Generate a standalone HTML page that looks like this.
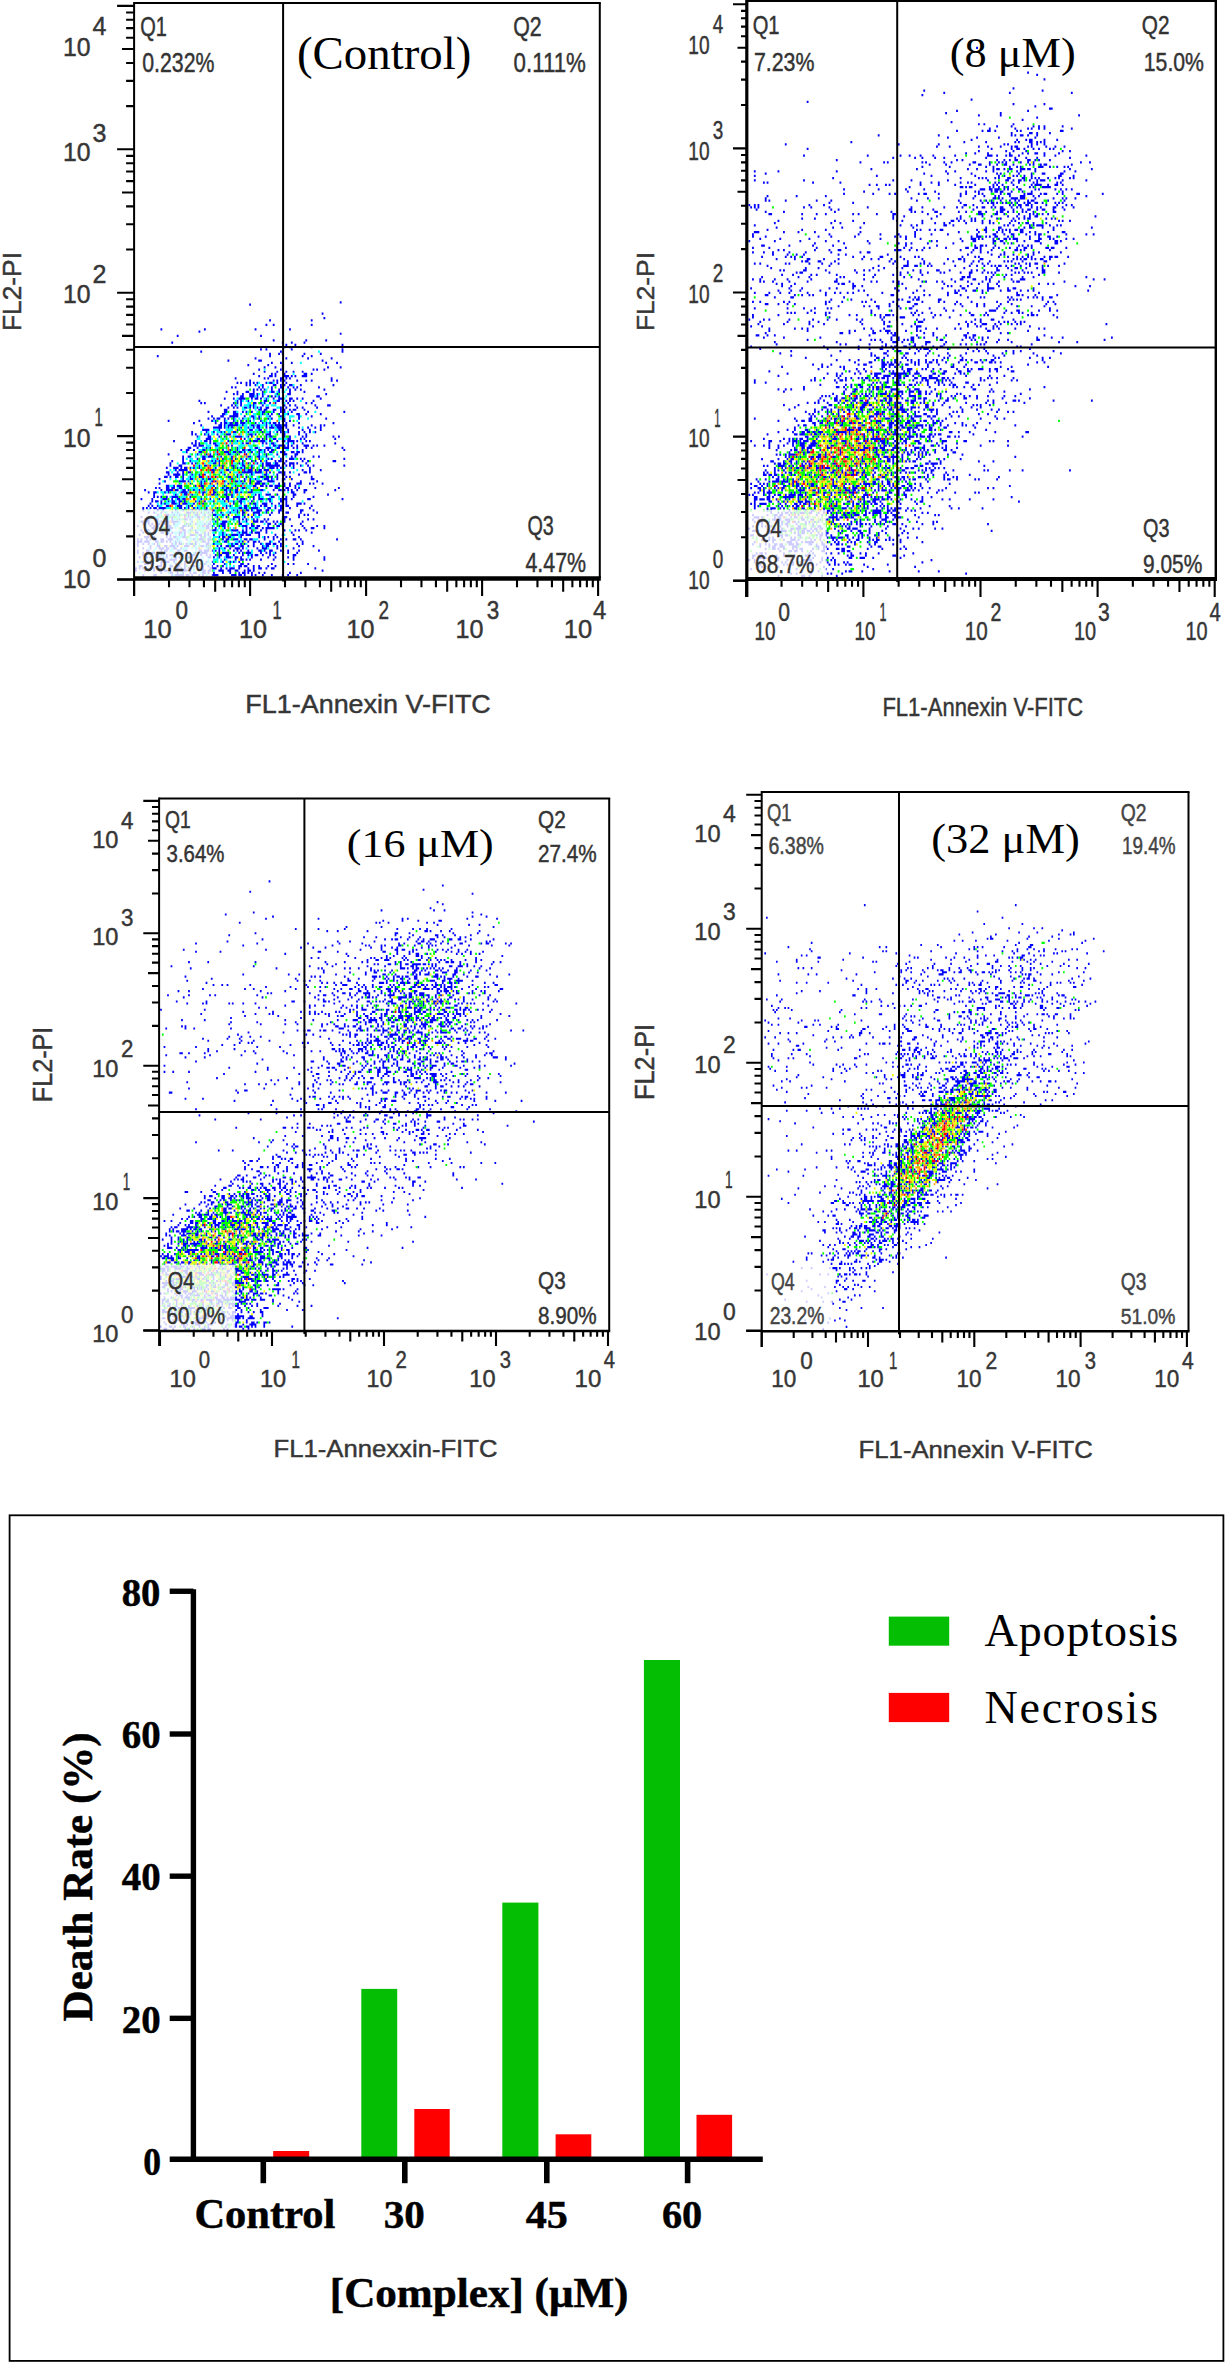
<!DOCTYPE html>
<html><head><meta charset="utf-8"><title>Figure</title>
<style>html,body{margin:0;padding:0;background:#fff}svg{display:block}text{white-space:pre}</style></head>
<body>
<svg width="1225" height="2363" viewBox="0 0 1225 2363">
<rect width="1225" height="2363" fill="#fff"/>
<g transform="translate(135.10 576.30) scale(1.8113 -2.2355)" stroke-width="1" fill="none"><path stroke="#0000ff" d="M4 0.5h1M10 0.5h2M20 0.5h1M22 0.5h5M28 0.5h2M31 0.5h1M35 0.5h1M37 0.5h1M42 0.5h4M53 0.5h3M57 0.5h2M60 0.5h1M64 0.5h1M66 0.5h1M70 0.5h1M75 0.5h1M81 0.5h1M84 0.5h1M89 0.5h1M14 1.5h1M19 1.5h2M23 1.5h1M26 1.5h1M30 1.5h1M32 1.5h2M37 1.5h2M40 1.5h1M43 1.5h1M48 1.5h1M52 1.5h1M57 1.5h1M59 1.5h2M62 1.5h1M64 1.5h1M68 1.5h1M71 1.5h1M85 1.5h1M91 1.5h1M0 2.5h1M5 2.5h1M10 2.5h1M13 2.5h2M16 2.5h2M19 2.5h1M22 2.5h2M25 2.5h1M27 2.5h2M30 2.5h1M37 2.5h2M40 2.5h2M46 2.5h3M51 2.5h2M55 2.5h2M60 2.5h1M62 2.5h2M65 2.5h1M103 2.5h1M0 3.5h1M2 3.5h1M4 3.5h1M8 3.5h1M10 3.5h1M19 3.5h1M22 3.5h2M25 3.5h1M27 3.5h1M29 3.5h2M35 3.5h1M37 3.5h1M41 3.5h4M47 3.5h1M50 3.5h1M52 3.5h3M57 3.5h1M62 3.5h1M65 3.5h1M68 3.5h2M72 3.5h1M75 3.5h2M99 3.5h1M2 4.5h2M9 4.5h1M12 4.5h3M19 4.5h2M23 4.5h2M27 4.5h1M31 4.5h2M34 4.5h1M37 4.5h1M40 4.5h1M42 4.5h1M45 4.5h1M48 4.5h1M57 4.5h2M60 4.5h2M65 4.5h1M68 4.5h1M73 4.5h1M77 4.5h1M5 5.5h2M8 5.5h1M14 5.5h1M22 5.5h1M27 5.5h1M36 5.5h1M38 5.5h1M43 5.5h1M49 5.5h1M58 5.5h2M62 5.5h1M75 5.5h1M84 5.5h1M87 5.5h1M95 5.5h1M1 6.5h1M4 6.5h1M7 6.5h2M14 6.5h2M17 6.5h2M21 6.5h1M27 6.5h1M31 6.5h1M33 6.5h2M39 6.5h1M42 6.5h1M48 6.5h1M52 6.5h1M54 6.5h1M57 6.5h1M5 7.5h1M12 7.5h1M16 7.5h1M19 7.5h4M25 7.5h1M31 7.5h1M36 7.5h1M49 7.5h1M55 7.5h1M58 7.5h2M61 7.5h1M63 7.5h1M69 7.5h1M76 7.5h1M87 7.5h1M104 7.5h1M2 8.5h1M6 8.5h1M8 8.5h1M11 8.5h3M15 8.5h1M17 8.5h1M22 8.5h1M24 8.5h1M29 8.5h3M40 8.5h2M43 8.5h1M46 8.5h1M50 8.5h3M55 8.5h2M58 8.5h1M64 8.5h1M73 8.5h1M77 8.5h1M84 8.5h1M87 8.5h1M104 8.5h1M4 9.5h1M11 9.5h2M14 9.5h1M17 9.5h1M19 9.5h3M26 9.5h1M28 9.5h1M31 9.5h2M36 9.5h1M39 9.5h1M41 9.5h1M44 9.5h1M46 9.5h2M50 9.5h2M54 9.5h1M59 9.5h1M62 9.5h1M64 9.5h1M66 9.5h2M70 9.5h1M74 9.5h1M76 9.5h1M87 9.5h2M1 10.5h1M4 10.5h1M6 10.5h1M9 10.5h2M12 10.5h1M22 10.5h1M33 10.5h1M36 10.5h4M46 10.5h1M48 10.5h4M57 10.5h1M59 10.5h1M61 10.5h3M69 10.5h1M72 10.5h1M74 10.5h1M77 10.5h1M84 10.5h1M89 10.5h1M1 11.5h1M6 11.5h2M14 11.5h1M16 11.5h2M23 11.5h2M27 11.5h2M35 11.5h2M38 11.5h3M42 11.5h1M44 11.5h1M46 11.5h1M54 11.5h1M56 11.5h1M58 11.5h1M62 11.5h1M68 11.5h2M71 11.5h1M74 11.5h2M80 11.5h1M84 11.5h1M90 11.5h1M101 11.5h1M4 12.5h1M8 12.5h1M13 12.5h3M17 12.5h2M21 12.5h2M25 12.5h1M40 12.5h1M46 12.5h1M49 12.5h1M52 12.5h1M55 12.5h3M59 12.5h1M67 12.5h1M70 12.5h3M78 12.5h1M87 12.5h1M1 13.5h1M8 13.5h1M12 13.5h2M16 13.5h2M19 13.5h3M23 13.5h1M27 13.5h3M32 13.5h1M36 13.5h2M39 13.5h1M41 13.5h1M45 13.5h1M47 13.5h1M50 13.5h2M53 13.5h2M58 13.5h2M62 13.5h1M65 13.5h1M70 13.5h1M72 13.5h2M78 13.5h1M80 13.5h1M90 13.5h1M98 13.5h1M1 14.5h1M4 14.5h1M7 14.5h1M10 14.5h1M12 14.5h1M20 14.5h1M22 14.5h1M24 14.5h2M28 14.5h1M30 14.5h2M33 14.5h1M39 14.5h2M43 14.5h1M53 14.5h1M55 14.5h2M58 14.5h1M60 14.5h1M65 14.5h1M69 14.5h1M72 14.5h3M76 14.5h2M80 14.5h1M89 14.5h1M92 14.5h1M1 15.5h3M5 15.5h3M11 15.5h2M14 15.5h2M17 15.5h1M19 15.5h1M22 15.5h1M24 15.5h1M33 15.5h1M37 15.5h2M40 15.5h1M45 15.5h1M49 15.5h2M57 15.5h1M59 15.5h1M62 15.5h1M65 15.5h2M68 15.5h1M74 15.5h1M79 15.5h1M92 15.5h1M1 16.5h1M3 16.5h1M6 16.5h1M8 16.5h1M10 16.5h2M14 16.5h2M18 16.5h3M23 16.5h1M28 16.5h1M32 16.5h1M35 16.5h3M40 16.5h2M48 16.5h1M50 16.5h2M54 16.5h3M60 16.5h2M63 16.5h2M71 16.5h1M76 16.5h1M80 16.5h1M83 16.5h1M87 16.5h2M91 16.5h1M111 16.5h1M5 17.5h3M10 17.5h1M17 17.5h1M19 17.5h1M21 17.5h2M26 17.5h2M36 17.5h1M38 17.5h1M41 17.5h1M46 17.5h1M48 17.5h2M51 17.5h2M58 17.5h1M68 17.5h1M71 17.5h1M73 17.5h1M76 17.5h1M78 17.5h1M90 17.5h1M2 18.5h1M7 18.5h1M17 18.5h1M19 18.5h1M24 18.5h1M27 18.5h1M30 18.5h3M35 18.5h2M38 18.5h1M40 18.5h1M43 18.5h1M48 18.5h1M50 18.5h1M53 18.5h4M58 18.5h2M61 18.5h3M68 18.5h1M77 18.5h1M81 18.5h1M87 18.5h1M4 19.5h1M14 19.5h2M17 19.5h2M20 19.5h1M24 19.5h2M27 19.5h1M33 19.5h2M38 19.5h1M40 19.5h1M48 19.5h1M57 19.5h1M59 19.5h3M64 19.5h1M66 19.5h3M72 19.5h1M86 19.5h1M97 19.5h1M3 20.5h1M5 20.5h3M10 20.5h1M13 20.5h1M16 20.5h2M26 20.5h2M30 20.5h1M33 20.5h1M41 20.5h4M53 20.5h4M59 20.5h1M61 20.5h1M64 20.5h1M69 20.5h1M72 20.5h1M82 20.5h1M88 20.5h1M90 20.5h1M94 20.5h1M9 21.5h2M13 21.5h1M18 21.5h3M25 21.5h2M31 21.5h1M39 21.5h2M44 21.5h1M49 21.5h1M61 21.5h1M63 21.5h1M66 21.5h2M70 21.5h1M72 21.5h5M93 21.5h1M97 21.5h2M104 21.5h1M1 22.5h1M8 22.5h1M10 22.5h1M12 22.5h1M17 22.5h3M26 22.5h2M29 22.5h1M37 22.5h1M39 22.5h2M42 22.5h1M46 22.5h1M48 22.5h2M59 22.5h3M64 22.5h2M67 22.5h2M73 22.5h1M78 22.5h2M81 22.5h1M86 22.5h1M92 22.5h1M100 22.5h1M104 22.5h1M4 23.5h1M7 23.5h1M9 23.5h1M12 23.5h2M16 23.5h1M18 23.5h1M21 23.5h1M28 23.5h1M30 23.5h1M33 23.5h1M38 23.5h1M40 23.5h2M47 23.5h3M57 23.5h2M64 23.5h1M73 23.5h2M77 23.5h1M80 23.5h1M91 23.5h1M3 24.5h2M6 24.5h2M11 24.5h2M14 24.5h5M20 24.5h4M31 24.5h1M41 24.5h1M44 24.5h1M48 24.5h3M57 24.5h1M61 24.5h1M65 24.5h3M69 24.5h2M72 24.5h1M76 24.5h1M78 24.5h1M82 24.5h1M92 24.5h1M5 25.5h3M11 25.5h2M20 25.5h1M24 25.5h1M27 25.5h2M30 25.5h1M35 25.5h1M42 25.5h1M46 25.5h1M54 25.5h1M57 25.5h1M59 25.5h1M61 25.5h1M65 25.5h1M67 25.5h1M71 25.5h1M73 25.5h1M81 25.5h2M85 25.5h1M95 25.5h1M98 25.5h1M3 26.5h1M20 26.5h1M29 26.5h1M31 26.5h1M34 26.5h2M40 26.5h1M45 26.5h1M50 26.5h1M54 26.5h4M60 26.5h1M64 26.5h1M82 26.5h2M90 26.5h1M12 27.5h1M17 27.5h2M21 27.5h1M24 27.5h1M27 27.5h1M29 27.5h1M33 27.5h2M38 27.5h1M41 27.5h1M43 27.5h2M48 27.5h1M51 27.5h1M59 27.5h1M62 27.5h1M65 27.5h1M68 27.5h1M74 27.5h1M90 27.5h1M93 27.5h1M95 27.5h1M7 28.5h1M10 28.5h1M14 28.5h1M20 28.5h1M23 28.5h1M28 28.5h3M32 28.5h1M34 28.5h1M36 28.5h1M40 28.5h1M42 28.5h1M47 28.5h1M52 28.5h1M56 28.5h1M59 28.5h2M65 28.5h4M72 28.5h1M75 28.5h1M79 28.5h1M83 28.5h2M91 28.5h1M100 28.5h1M4 29.5h1M12 29.5h1M15 29.5h1M22 29.5h1M26 29.5h1M31 29.5h1M35 29.5h1M38 29.5h2M43 29.5h1M54 29.5h1M56 29.5h1M59 29.5h1M61 29.5h2M64 29.5h1M67 29.5h3M72 29.5h2M79 29.5h2M91 29.5h2M98 29.5h1M4 30.5h1M6 30.5h1M8 30.5h1M10 30.5h2M13 30.5h4M24 30.5h2M27 30.5h1M29 30.5h1M32 30.5h1M34 30.5h1M39 30.5h1M45 30.5h1M50 30.5h1M57 30.5h2M60 30.5h2M64 30.5h4M73 30.5h2M77 30.5h1M80 30.5h2M85 30.5h1M96 30.5h1M7 31.5h1M9 31.5h1M12 31.5h1M17 31.5h2M23 31.5h3M29 31.5h1M31 31.5h1M50 31.5h1M52 31.5h1M60 31.5h2M66 31.5h1M69 31.5h1M71 31.5h2M77 31.5h1M80 31.5h2M83 31.5h2M89 31.5h1M97 31.5h1M8 32.5h1M14 32.5h1M16 32.5h1M20 32.5h3M24 32.5h1M26 32.5h3M32 32.5h1M37 32.5h1M54 32.5h1M58 32.5h1M63 32.5h1M65 32.5h2M70 32.5h3M75 32.5h1M79 32.5h1M81 32.5h1M83 32.5h1M89 32.5h3M93 32.5h1M9 33.5h1M11 33.5h2M14 33.5h1M18 33.5h1M20 33.5h2M24 33.5h2M27 33.5h1M33 33.5h1M35 33.5h1M38 33.5h1M43 33.5h1M49 33.5h1M51 33.5h1M54 33.5h1M57 33.5h2M64 33.5h1M74 33.5h1M80 33.5h2M83 33.5h1M3 34.5h1M9 34.5h1M15 34.5h3M20 34.5h1M23 34.5h2M26 34.5h2M36 34.5h1M41 34.5h1M46 34.5h1M48 34.5h1M50 34.5h2M56 34.5h1M58 34.5h3M65 34.5h1M68 34.5h3M73 34.5h2M80 34.5h1M82 34.5h2M86 34.5h1M95 34.5h2M114 34.5h1M10 35.5h1M12 35.5h1M14 35.5h1M17 35.5h1M20 35.5h4M30 35.5h1M50 35.5h2M53 35.5h1M62 35.5h1M65 35.5h1M68 35.5h1M75 35.5h2M81 35.5h1M83 35.5h1M87 35.5h1M98 35.5h1M10 36.5h1M22 36.5h1M27 36.5h2M31 36.5h1M37 36.5h1M42 36.5h2M45 36.5h1M49 36.5h2M53 36.5h1M66 36.5h1M68 36.5h1M72 36.5h3M78 36.5h1M87 36.5h2M106 36.5h1M7 37.5h1M10 37.5h2M16 37.5h1M18 37.5h1M25 37.5h4M37 37.5h2M43 37.5h2M50 37.5h1M52 37.5h1M55 37.5h2M58 37.5h1M62 37.5h3M86 37.5h2M93 37.5h1M5 38.5h1M14 38.5h1M17 38.5h4M22 38.5h2M26 38.5h2M29 38.5h1M32 38.5h1M35 38.5h1M43 38.5h1M49 38.5h2M52 38.5h1M55 38.5h2M64 38.5h1M69 38.5h2M76 38.5h1M79 38.5h2M82 38.5h1M84 38.5h1M86 38.5h1M89 38.5h1M93 38.5h2M110 38.5h1M11 39.5h1M13 39.5h1M17 39.5h2M20 39.5h2M24 39.5h2M37 39.5h1M44 39.5h1M48 39.5h1M50 39.5h2M53 39.5h1M56 39.5h1M59 39.5h2M67 39.5h1M77 39.5h2M83 39.5h2M88 39.5h1M90 39.5h1M99 39.5h1M112 39.5h1M17 40.5h2M21 40.5h1M23 40.5h3M33 40.5h1M36 40.5h2M43 40.5h1M49 40.5h1M55 40.5h1M65 40.5h2M69 40.5h2M72 40.5h1M74 40.5h2M77 40.5h3M82 40.5h1M85 40.5h1M88 40.5h1M13 41.5h1M30 41.5h1M36 41.5h1M41 41.5h1M45 41.5h1M51 41.5h1M59 41.5h1M63 41.5h1M66 41.5h3M70 41.5h2M79 41.5h1M82 41.5h1M85 41.5h1M89 41.5h3M96 41.5h1M98 41.5h1M103 41.5h1M16 42.5h1M24 42.5h4M29 42.5h1M36 42.5h1M38 42.5h1M42 42.5h1M44 42.5h1M49 42.5h1M55 42.5h2M58 42.5h1M60 42.5h1M63 42.5h1M67 42.5h3M73 42.5h4M81 42.5h1M91 42.5h1M100 42.5h1M13 43.5h1M26 43.5h1M30 43.5h2M37 43.5h1M40 43.5h2M53 43.5h1M60 43.5h1M63 43.5h1M66 43.5h1M71 43.5h3M75 43.5h1M78 43.5h1M81 43.5h2M86 43.5h1M97 43.5h2M16 44.5h2M19 44.5h1M22 44.5h2M26 44.5h1M30 44.5h1M35 44.5h2M44 44.5h1M51 44.5h2M56 44.5h1M61 44.5h1M69 44.5h2M72 44.5h2M75 44.5h1M78 44.5h1M83 44.5h1M85 44.5h1M97 44.5h1M18 45.5h1M21 45.5h4M26 45.5h1M31 45.5h1M35 45.5h1M38 45.5h1M49 45.5h1M56 45.5h1M58 45.5h1M64 45.5h1M71 45.5h2M78 45.5h1M81 45.5h2M90 45.5h1M17 46.5h2M23 46.5h1M26 46.5h1M29 46.5h2M43 46.5h1M47 46.5h1M52 46.5h1M59 46.5h6M66 46.5h4M72 46.5h1M74 46.5h1M79 46.5h2M82 46.5h1M85 46.5h1M93 46.5h2M96 46.5h1M22 47.5h1M24 47.5h5M42 47.5h2M50 47.5h2M60 47.5h1M62 47.5h3M66 47.5h1M68 47.5h2M71 47.5h3M92 47.5h1M96 47.5h1M102 47.5h1M17 48.5h1M21 48.5h3M25 48.5h1M27 48.5h2M30 48.5h1M32 48.5h1M35 48.5h1M44 48.5h1M48 48.5h1M54 48.5h1M56 48.5h1M58 48.5h1M60 48.5h1M64 48.5h1M70 48.5h1M74 48.5h3M78 48.5h1M80 48.5h1M87 48.5h1M96 48.5h1M19 49.5h1M24 49.5h2M35 49.5h1M38 49.5h2M41 49.5h1M46 49.5h1M48 49.5h1M53 49.5h2M59 49.5h2M64 49.5h1M70 49.5h1M72 49.5h8M81 49.5h1M83 49.5h1M85 49.5h1M87 49.5h1M91 49.5h1M95 49.5h1M98 49.5h1M115 49.5h1M19 50.5h1M26 50.5h2M31 50.5h1M33 50.5h1M43 50.5h2M46 50.5h1M57 50.5h1M59 50.5h1M62 50.5h1M67 50.5h1M70 50.5h1M72 50.5h3M77 50.5h2M82 50.5h1M85 50.5h3M89 50.5h1M94 50.5h1M20 51.5h1M26 51.5h1M30 51.5h1M42 51.5h1M44 51.5h1M46 51.5h1M54 51.5h1M59 51.5h1M64 51.5h1M66 51.5h1M69 51.5h1M72 51.5h1M77 51.5h1M79 51.5h2M83 51.5h1M92 51.5h1M95 51.5h1M109 51.5h2M26 52.5h1M34 52.5h1M37 52.5h2M48 52.5h1M53 52.5h1M55 52.5h1M58 52.5h1M61 52.5h1M68 52.5h1M73 52.5h1M75 52.5h1M80 52.5h1M85 52.5h3M91 52.5h1M93 52.5h1M115 52.5h1M26 53.5h1M29 53.5h2M37 53.5h2M40 53.5h3M47 53.5h1M53 53.5h1M62 53.5h2M67 53.5h2M72 53.5h1M86 53.5h1M88 53.5h1M98 53.5h1M101 53.5h1M18 54.5h1M34 54.5h1M39 54.5h1M41 54.5h1M45 54.5h1M51 54.5h2M56 54.5h1M61 54.5h1M68 54.5h1M72 54.5h1M78 54.5h1M82 54.5h2M88 54.5h2M28 55.5h1M35 55.5h2M49 55.5h3M54 55.5h2M57 55.5h2M60 55.5h1M64 55.5h1M68 55.5h1M71 55.5h1M74 55.5h2M80 55.5h3M86 55.5h2M89 55.5h2M92 55.5h1M25 56.5h1M28 56.5h2M32 56.5h1M37 56.5h2M45 56.5h1M48 56.5h1M52 56.5h1M56 56.5h1M59 56.5h2M62 56.5h2M68 56.5h2M71 56.5h1M73 56.5h1M75 56.5h2M92 56.5h1M115 56.5h1M29 57.5h2M34 57.5h1M39 57.5h1M41 57.5h1M56 57.5h1M66 57.5h2M72 57.5h3M78 57.5h2M82 57.5h3M87 57.5h1M89 57.5h1M94 57.5h1M97 57.5h1M114 57.5h1M32 58.5h2M35 58.5h3M44 58.5h2M51 58.5h1M53 58.5h1M76 58.5h2M79 58.5h4M84 58.5h1M86 58.5h1M89 58.5h1M93 58.5h3M98 58.5h1M100 58.5h1M104 58.5h1M31 59.5h1M33 59.5h1M35 59.5h1M41 59.5h1M43 59.5h2M59 59.5h1M61 59.5h2M70 59.5h1M72 59.5h1M75 59.5h2M84 59.5h1M87 59.5h1M92 59.5h1M110 59.5h1M21 60.5h1M33 60.5h1M38 60.5h2M41 60.5h1M51 60.5h1M53 60.5h1M56 60.5h1M63 60.5h1M65 60.5h3M69 60.5h3M74 60.5h1M78 60.5h1M81 60.5h2M84 60.5h4M89 60.5h1M94 60.5h1M96 60.5h1M39 61.5h3M60 61.5h1M67 61.5h2M70 61.5h1M72 61.5h1M76 61.5h2M84 61.5h2M91 61.5h1M93 61.5h1M110 61.5h1M34 62.5h1M40 62.5h2M46 62.5h1M49 62.5h1M55 62.5h4M62 62.5h1M64 62.5h1M72 62.5h1M74 62.5h2M81 62.5h2M85 62.5h1M92 62.5h1M94 62.5h1M109 62.5h1M112 62.5h1M31 63.5h1M33 63.5h1M38 63.5h1M40 63.5h1M45 63.5h1M50 63.5h3M63 63.5h2M66 63.5h1M72 63.5h3M81 63.5h2M90 63.5h1M94 63.5h1M31 64.5h1M39 64.5h1M43 64.5h1M47 64.5h1M49 64.5h1M54 64.5h2M62 64.5h1M70 64.5h1M74 64.5h1M78 64.5h1M80 64.5h1M82 64.5h1M84 64.5h1M90 64.5h1M93 64.5h1M96 64.5h1M99 64.5h1M37 65.5h4M46 65.5h1M56 65.5h1M63 65.5h2M68 65.5h2M79 65.5h2M84 65.5h1M92 65.5h1M96 65.5h1M102 65.5h1M43 66.5h5M49 66.5h1M51 66.5h1M53 66.5h1M58 66.5h1M62 66.5h1M65 66.5h1M67 66.5h2M72 66.5h1M74 66.5h3M78 66.5h4M83 66.5h1M90 66.5h1M95 66.5h1M99 66.5h1M102 66.5h1M36 67.5h1M46 67.5h2M49 67.5h1M51 67.5h6M59 67.5h1M64 67.5h2M67 67.5h2M72 67.5h1M75 67.5h1M77 67.5h4M82 67.5h2M87 67.5h1M97 67.5h1M102 67.5h1M104 67.5h1M32 68.5h1M44 68.5h1M47 68.5h1M49 68.5h2M52 68.5h2M55 68.5h2M58 68.5h3M66 68.5h1M70 68.5h1M72 68.5h1M74 68.5h1M76 68.5h2M79 68.5h1M83 68.5h1M90 68.5h1M109 68.5h1M18 69.5h1M35 69.5h1M42 69.5h1M44 69.5h1M49 69.5h1M54 69.5h1M58 69.5h1M61 69.5h1M63 69.5h1M69 69.5h1M81 69.5h2M85 69.5h1M40 70.5h1M43 70.5h1M45 70.5h2M49 70.5h1M51 70.5h1M54 70.5h1M59 70.5h1M65 70.5h1M68 70.5h1M73 70.5h1M75 70.5h1M81 70.5h2M90 70.5h1M105 70.5h1M42 71.5h1M47 71.5h2M52 71.5h5M60 71.5h1M64 71.5h2M68 71.5h1M74 71.5h1M80 71.5h1M90 71.5h1M97 71.5h1M48 72.5h2M54 72.5h3M70 72.5h1M73 72.5h1M75 72.5h1M79 72.5h1M84 72.5h1M89 72.5h2M94 72.5h1M102 72.5h1M40 73.5h1M49 73.5h2M54 73.5h2M59 73.5h1M61 73.5h1M64 73.5h1M70 73.5h2M76 73.5h1M80 73.5h1M82 73.5h1M86 73.5h1M95 73.5h1M115 73.5h1M49 74.5h2M68 74.5h2M71 74.5h2M76 74.5h2M80 74.5h1M82 74.5h1M85 74.5h1M87 74.5h2M93 74.5h1M51 75.5h1M54 75.5h1M56 75.5h1M60 75.5h2M63 75.5h1M65 75.5h1M67 75.5h1M69 75.5h1M72 75.5h2M80 75.5h1M83 75.5h1M89 75.5h1M92 75.5h1M100 75.5h1M47 76.5h1M53 76.5h1M55 76.5h1M58 76.5h1M63 76.5h1M65 76.5h1M70 76.5h1M82 76.5h1M85 76.5h1M88 76.5h1M99 76.5h1M106 76.5h2M36 77.5h1M38 77.5h1M54 77.5h1M56 77.5h1M58 77.5h1M65 77.5h2M69 77.5h1M71 77.5h1M74 77.5h1M77 77.5h1M81 77.5h1M84 77.5h1M94 77.5h1M97 77.5h1M35 78.5h1M56 78.5h1M58 78.5h1M62 78.5h1M71 78.5h2M78 78.5h2M81 78.5h1M83 78.5h1M85 78.5h1M87 78.5h1M98 78.5h1M49 79.5h1M54 79.5h1M57 79.5h4M64 79.5h1M66 79.5h2M69 79.5h1M72 79.5h1M76 79.5h1M79 79.5h3M85 79.5h2M89 79.5h1M92 79.5h1M102 79.5h1M58 80.5h2M63 80.5h3M67 80.5h1M70 80.5h1M73 80.5h1M75 80.5h1M77 80.5h1M79 80.5h1M100 80.5h2M54 81.5h1M56 81.5h1M59 81.5h1M63 81.5h3M67 81.5h1M70 81.5h1M78 81.5h1M84 81.5h2M105 81.5h1M50 82.5h1M56 82.5h1M61 82.5h2M65 82.5h1M70 82.5h1M75 82.5h2M79 82.5h1M81 82.5h1M85 82.5h1M93 82.5h1M65 83.5h1M67 83.5h1M69 83.5h1M71 83.5h1M75 83.5h1M79 83.5h1M81 83.5h1M85 83.5h1M88 83.5h1M91 83.5h1M104 83.5h1M53 84.5h1M55 84.5h1M68 84.5h1M70 84.5h1M75 84.5h1M80 84.5h2M84 84.5h1M87 84.5h1M89 84.5h1M101 84.5h1M61 85.5h1M63 85.5h1M66 85.5h1M70 85.5h1M76 85.5h2M80 85.5h1M82 85.5h1M85 85.5h2M91 85.5h1M109 85.5h1M56 86.5h1M58 86.5h1M61 86.5h1M63 86.5h1M65 86.5h1M67 86.5h1M72 86.5h1M74 86.5h2M78 86.5h1M81 86.5h1M83 86.5h1M63 87.5h1M76 87.5h1M78 87.5h1M80 87.5h1M82 87.5h1M89 87.5h1M94 87.5h1M97 87.5h1M108 87.5h1M111 87.5h1M55 88.5h1M71 88.5h1M73 88.5h1M80 88.5h2M83 88.5h1M85 88.5h1M108 88.5h1M68 89.5h1M74 89.5h2M77 89.5h1M82 89.5h3M86 89.5h1M88 89.5h1M92 89.5h3M65 90.5h1M75 90.5h1M77 90.5h1M82 90.5h1M93 90.5h2M97 90.5h1M71 91.5h1M78 91.5h1M83 91.5h1M87 91.5h1M92 91.5h1M68 92.5h1M80 92.5h1M98 92.5h1M100 92.5h1M104 92.5h1M71 93.5h1M77 93.5h1M81 93.5h1M106 93.5h1M113 93.5h1M62 94.5h1M73 94.5h1M81 94.5h1M75 95.5h1M80 95.5h1M86 95.5h1M105 95.5h1M111 95.5h1M51 96.5h1M68 96.5h2M103 96.5h1M66 97.5h1M83 97.5h1M95 97.5h1M108 97.5h1M12 98.5h1M74 98.5h1M92 98.5h1M97 98.5h1M74 99.5h1M79 99.5h1M81 99.5h1M93 99.5h1M102 99.5h1M36 100.5h1M80 100.5h1M114 100.5h1M69 101.5h1M72 101.5h1M86 101.5h1M114 101.5h1M82 102.5h1M85 102.5h1M97 102.5h1M83 103.5h1M88 103.5h1M114 103.5h1M20 104.5h1M81 104.5h1M86 104.5h1M93 104.5h1M76 105.5h1M94 105.5h1M105 105.5h1M23 107.5h1M69 107.5h1M113 108.5h1M35 109.5h1M14 110.5h1M38 110.5h1M66 110.5h1M85 110.5h1M72 112.5h1M76 112.5h1M97 112.5h1M74 114.5h1M97 114.5h1M104 115.5h1M103 117.5h1M63 121.5h1M113 122.5h1"/><path stroke="#00ffff" d="M21 0.5h1M39 0.5h1M2 1.5h1M18 1.5h1M25 1.5h1M36 1.5h1M32 2.5h1M43 2.5h1M21 3.5h1M32 3.5h1M30 4.5h1M35 4.5h1M50 4.5h1M52 4.5h1M54 4.5h1M9 5.5h1M16 5.5h1M19 5.5h1M35 5.5h1M39 5.5h1M41 5.5h1M50 5.5h1M3 6.5h1M22 6.5h1M25 6.5h1M36 6.5h2M40 6.5h1M43 6.5h1M45 6.5h1M47 6.5h1M51 6.5h1M53 6.5h1M55 6.5h1M82 6.5h1M8 7.5h1M26 7.5h1M28 7.5h1M30 7.5h1M33 7.5h2M40 7.5h1M43 7.5h3M47 7.5h1M50 7.5h1M16 8.5h1M20 8.5h1M26 8.5h1M34 8.5h1M37 8.5h1M45 8.5h1M49 8.5h1M53 8.5h1M62 8.5h1M13 9.5h1M15 9.5h1M22 9.5h1M30 9.5h1M33 9.5h1M63 9.5h1M21 10.5h1M24 10.5h1M32 10.5h1M43 10.5h1M55 10.5h1M64 10.5h1M76 10.5h1M10 11.5h1M19 11.5h2M26 11.5h1M33 11.5h1M43 11.5h1M48 11.5h2M64 11.5h1M70 11.5h1M7 12.5h1M11 12.5h1M20 12.5h1M26 12.5h3M31 12.5h1M33 12.5h2M39 12.5h1M44 12.5h2M47 12.5h2M61 12.5h1M73 12.5h1M22 13.5h1M33 13.5h1M38 13.5h1M57 13.5h1M71 13.5h1M76 13.5h1M83 13.5h1M9 14.5h1M21 14.5h1M29 14.5h1M35 14.5h1M41 14.5h2M44 14.5h3M51 14.5h2M54 14.5h1M61 14.5h1M70 14.5h1M21 15.5h1M23 15.5h1M25 15.5h1M29 15.5h2M34 15.5h1M44 15.5h1M48 15.5h1M55 15.5h2M58 15.5h1M75 15.5h1M9 16.5h1M22 16.5h1M24 16.5h1M30 16.5h2M33 16.5h1M43 16.5h1M46 16.5h1M52 16.5h1M58 16.5h1M65 16.5h3M23 17.5h3M30 17.5h1M33 17.5h2M40 17.5h1M43 17.5h3M53 17.5h2M57 17.5h1M70 17.5h1M22 18.5h1M25 18.5h2M34 18.5h1M39 18.5h1M46 18.5h2M49 18.5h1M51 18.5h1M57 18.5h1M82 18.5h1M8 19.5h1M16 19.5h1M21 19.5h3M26 19.5h1M29 19.5h1M36 19.5h1M42 19.5h2M46 19.5h2M49 19.5h1M53 19.5h1M56 19.5h1M58 19.5h1M63 19.5h1M75 19.5h1M11 20.5h2M14 20.5h1M18 20.5h2M24 20.5h1M29 20.5h1M32 20.5h1M34 20.5h2M37 20.5h1M45 20.5h1M47 20.5h1M52 20.5h1M66 20.5h1M85 20.5h1M11 21.5h1M22 21.5h1M35 21.5h4M46 21.5h1M48 21.5h1M52 21.5h1M54 21.5h1M59 21.5h1M64 21.5h2M78 21.5h1M15 22.5h1M21 22.5h3M28 22.5h1M34 22.5h1M36 22.5h1M41 22.5h1M43 22.5h1M58 22.5h1M22 23.5h3M31 23.5h1M34 23.5h4M39 23.5h1M44 23.5h1M46 23.5h1M52 23.5h1M61 23.5h2M71 23.5h1M79 23.5h1M2 24.5h1M13 24.5h1M24 24.5h1M30 24.5h1M35 24.5h3M40 24.5h1M42 24.5h2M47 24.5h1M51 24.5h1M54 24.5h1M59 24.5h2M8 25.5h1M15 25.5h2M18 25.5h1M21 25.5h2M25 25.5h1M31 25.5h1M38 25.5h1M52 25.5h2M55 25.5h1M62 25.5h1M64 25.5h1M6 26.5h2M9 26.5h5M15 26.5h1M18 26.5h1M23 26.5h2M28 26.5h1M30 26.5h1M32 26.5h2M36 26.5h1M39 26.5h1M41 26.5h1M44 26.5h1M48 26.5h1M59 26.5h1M66 26.5h3M81 26.5h1M13 27.5h2M19 27.5h2M22 27.5h2M26 27.5h1M32 27.5h1M37 27.5h1M45 27.5h3M49 27.5h1M56 27.5h2M66 27.5h1M69 27.5h1M11 28.5h1M16 28.5h2M21 28.5h2M24 28.5h1M37 28.5h1M39 28.5h1M41 28.5h1M44 28.5h1M48 28.5h1M50 28.5h2M53 28.5h3M71 28.5h1M7 29.5h1M14 29.5h1M23 29.5h1M25 29.5h1M30 29.5h1M37 29.5h1M40 29.5h1M44 29.5h1M51 29.5h1M53 29.5h1M55 29.5h1M57 29.5h1M65 29.5h1M76 29.5h1M17 30.5h3M21 30.5h2M28 30.5h1M33 30.5h1M35 30.5h1M37 30.5h1M42 30.5h1M47 30.5h1M52 30.5h5M59 30.5h1M62 30.5h1M68 30.5h1M71 30.5h1M13 31.5h2M22 31.5h1M28 31.5h1M34 31.5h3M39 31.5h2M42 31.5h2M48 31.5h2M51 31.5h1M53 31.5h1M57 31.5h2M63 31.5h1M65 31.5h1M67 31.5h1M75 31.5h1M79 31.5h1M12 32.5h1M15 32.5h1M17 32.5h2M23 32.5h1M29 32.5h3M44 32.5h1M47 32.5h4M60 32.5h1M67 32.5h1M17 33.5h1M19 33.5h1M22 33.5h1M29 33.5h1M34 33.5h1M40 33.5h3M45 33.5h4M52 33.5h2M55 33.5h1M59 33.5h2M62 33.5h1M67 33.5h1M70 33.5h1M72 33.5h1M75 33.5h1M92 33.5h1M14 34.5h1M22 34.5h1M25 34.5h1M30 34.5h1M34 34.5h2M37 34.5h1M43 34.5h1M57 34.5h1M63 34.5h1M71 34.5h1M75 34.5h1M79 34.5h1M19 35.5h1M25 35.5h3M34 35.5h2M39 35.5h1M41 35.5h1M44 35.5h2M54 35.5h1M56 35.5h2M69 35.5h2M74 35.5h1M79 35.5h1M15 36.5h1M21 36.5h1M23 36.5h1M26 36.5h1M30 36.5h1M32 36.5h2M54 36.5h1M57 36.5h1M64 36.5h2M69 36.5h1M12 37.5h1M14 37.5h2M17 37.5h1M20 37.5h3M24 37.5h1M29 37.5h1M34 37.5h1M36 37.5h1M39 37.5h1M49 37.5h1M54 37.5h1M57 37.5h1M59 37.5h1M65 37.5h5M73 37.5h1M84 37.5h1M25 38.5h1M31 38.5h1M33 38.5h2M36 38.5h1M39 38.5h1M45 38.5h1M51 38.5h1M54 38.5h1M58 38.5h2M61 38.5h1M63 38.5h1M71 38.5h1M81 38.5h1M23 39.5h1M27 39.5h1M30 39.5h5M39 39.5h3M47 39.5h1M49 39.5h1M58 39.5h1M62 39.5h2M66 39.5h1M19 40.5h2M40 40.5h3M45 40.5h1M53 40.5h2M59 40.5h1M61 40.5h4M90 40.5h1M25 41.5h1M28 41.5h1M37 41.5h1M49 41.5h1M54 41.5h1M56 41.5h3M60 41.5h1M72 41.5h1M76 41.5h1M15 42.5h1M30 42.5h1M32 42.5h1M35 42.5h1M37 42.5h1M41 42.5h1M50 42.5h1M52 42.5h1M57 42.5h1M19 43.5h1M22 43.5h1M25 43.5h1M28 43.5h2M32 43.5h1M34 43.5h1M36 43.5h1M38 43.5h1M42 43.5h1M45 43.5h1M47 43.5h1M51 43.5h1M55 43.5h1M57 43.5h1M61 43.5h1M64 43.5h2M67 43.5h2M70 43.5h1M76 43.5h1M29 44.5h1M31 44.5h2M39 44.5h1M41 44.5h1M49 44.5h1M54 44.5h1M57 44.5h1M63 44.5h1M67 44.5h1M27 45.5h1M30 45.5h1M32 45.5h1M34 45.5h1M41 45.5h1M45 45.5h1M48 45.5h1M57 45.5h1M59 45.5h1M63 45.5h1M65 45.5h1M70 45.5h1M73 45.5h1M76 45.5h1M20 46.5h1M35 46.5h1M38 46.5h2M41 46.5h1M46 46.5h1M48 46.5h1M54 46.5h3M65 46.5h1M70 46.5h1M87 46.5h1M19 47.5h1M21 47.5h1M33 47.5h1M47 47.5h2M52 47.5h2M58 47.5h1M61 47.5h1M75 47.5h1M78 47.5h2M89 47.5h1M31 48.5h1M33 48.5h1M36 48.5h1M43 48.5h1M51 48.5h1M57 48.5h1M59 48.5h1M68 48.5h1M73 48.5h1M82 48.5h1M86 48.5h1M33 49.5h2M36 49.5h1M45 49.5h1M56 49.5h1M58 49.5h1M63 49.5h1M65 49.5h1M68 49.5h1M92 49.5h1M23 50.5h1M28 50.5h1M35 50.5h1M38 50.5h1M40 50.5h3M54 50.5h2M58 50.5h1M60 50.5h1M66 50.5h1M69 50.5h1M76 50.5h1M31 51.5h4M39 51.5h1M41 51.5h1M43 51.5h1M45 51.5h1M49 51.5h1M71 51.5h1M28 52.5h1M30 52.5h2M42 52.5h3M46 52.5h1M51 52.5h1M59 52.5h1M62 52.5h1M64 52.5h1M69 52.5h1M72 52.5h1M74 52.5h1M88 52.5h1M33 53.5h1M36 53.5h1M39 53.5h1M46 53.5h1M52 53.5h1M60 53.5h1M64 53.5h1M69 53.5h3M76 53.5h1M79 53.5h1M83 53.5h1M30 54.5h1M33 54.5h1M35 54.5h1M44 54.5h1M50 54.5h1M53 54.5h2M63 54.5h1M66 54.5h2M70 54.5h1M74 54.5h2M26 55.5h2M41 55.5h1M44 55.5h1M46 55.5h1M53 55.5h1M59 55.5h1M62 55.5h1M66 55.5h1M69 55.5h2M78 55.5h1M35 56.5h2M40 56.5h1M50 56.5h1M54 56.5h1M57 56.5h1M61 56.5h1M64 56.5h3M70 56.5h1M81 56.5h1M83 56.5h2M89 56.5h1M37 57.5h2M40 57.5h1M44 57.5h2M49 57.5h1M54 57.5h1M57 57.5h2M63 57.5h2M68 57.5h1M75 57.5h1M77 57.5h1M39 58.5h3M46 58.5h1M57 58.5h4M62 58.5h3M67 58.5h1M70 58.5h1M74 58.5h1M78 58.5h1M38 59.5h2M45 59.5h2M49 59.5h1M52 59.5h1M54 59.5h3M58 59.5h1M65 59.5h1M74 59.5h1M77 59.5h1M83 59.5h1M86 59.5h1M36 60.5h1M47 60.5h2M55 60.5h1M57 60.5h2M62 60.5h1M72 60.5h1M91 60.5h1M34 61.5h2M42 61.5h1M45 61.5h1M47 61.5h1M49 61.5h1M51 61.5h1M54 61.5h1M62 61.5h1M66 61.5h1M75 61.5h1M79 61.5h2M82 61.5h2M35 62.5h1M53 62.5h1M59 62.5h1M61 62.5h1M73 62.5h1M88 62.5h1M39 63.5h1M42 63.5h2M47 63.5h2M54 63.5h2M58 63.5h1M61 63.5h1M65 63.5h1M77 63.5h1M36 64.5h1M40 64.5h1M42 64.5h1M45 64.5h2M48 64.5h1M51 64.5h2M61 64.5h1M63 64.5h2M66 64.5h1M68 64.5h1M72 64.5h2M76 64.5h1M83 64.5h1M98 64.5h1M43 65.5h3M50 65.5h4M58 65.5h1M60 65.5h2M66 65.5h2M72 65.5h1M74 65.5h1M77 65.5h2M37 66.5h1M50 66.5h1M52 66.5h1M56 66.5h1M60 66.5h2M63 66.5h2M69 66.5h1M77 66.5h1M92 66.5h1M50 67.5h1M57 67.5h2M60 67.5h2M63 67.5h1M66 67.5h1M69 67.5h3M74 67.5h1M76 67.5h1M81 67.5h1M51 68.5h1M61 68.5h1M63 68.5h1M68 68.5h1M71 68.5h1M73 68.5h1M43 69.5h1M50 69.5h1M55 69.5h1M65 69.5h1M70 69.5h1M72 69.5h1M74 69.5h1M79 69.5h1M89 69.5h1M55 70.5h1M57 70.5h1M60 70.5h2M63 70.5h1M66 70.5h1M74 70.5h1M79 70.5h2M85 70.5h1M95 70.5h1M63 71.5h1M66 71.5h1M69 71.5h1M72 71.5h2M82 71.5h1M85 71.5h3M91 71.5h1M50 72.5h1M58 72.5h1M62 72.5h1M65 72.5h2M69 72.5h1M72 72.5h1M82 72.5h2M56 73.5h1M62 73.5h1M67 73.5h1M69 73.5h1M75 73.5h1M84 73.5h1M99 73.5h1M59 74.5h2M66 74.5h1M59 75.5h1M62 75.5h1M66 75.5h1M68 75.5h1M78 75.5h2M56 76.5h1M60 76.5h3M64 76.5h1M66 76.5h1M72 76.5h2M75 76.5h3M62 77.5h2M70 77.5h1M82 77.5h1M55 78.5h1M59 78.5h1M61 78.5h1M64 78.5h1M76 78.5h2M91 78.5h1M56 79.5h1M71 79.5h1M73 79.5h1M82 79.5h1M66 80.5h1M78 80.5h1M83 80.5h1M68 81.5h1M71 81.5h1M77 81.5h1M72 82.5h1M74 82.5h1M78 82.5h1M82 82.5h1M72 83.5h1M83 83.5h1M73 84.5h1M67 85.5h1M69 85.5h1M87 85.5h1M68 86.5h1M73 86.5h1M76 86.5h1M87 90.5h1M71 92.5h1M91 95.5h1M101 100.5h1"/><path stroke="#00ff00" d="M55 1.5h1M42 2.5h1M28 4.5h1M47 4.5h1M52 5.5h1M29 6.5h1M44 6.5h1M59 6.5h1M25 8.5h1M45 9.5h1M35 10.5h1M45 10.5h1M52 10.5h1M60 10.5h1M51 11.5h1M41 12.5h1M43 12.5h1M35 13.5h1M40 13.5h1M52 13.5h1M13 14.5h1M26 14.5h1M32 14.5h1M47 14.5h1M59 14.5h1M36 15.5h1M43 15.5h1M46 15.5h1M51 15.5h1M34 16.5h1M38 16.5h1M42 16.5h1M47 16.5h1M53 16.5h1M28 17.5h2M37 17.5h1M33 18.5h1M52 18.5h1M30 19.5h1M37 19.5h1M44 19.5h1M31 20.5h1M36 20.5h1M38 20.5h1M48 20.5h1M50 20.5h2M65 20.5h1M15 21.5h2M24 21.5h1M34 21.5h1M42 21.5h1M30 22.5h2M35 22.5h1M45 22.5h1M47 22.5h1M51 22.5h1M57 22.5h1M76 22.5h1M27 23.5h1M29 23.5h1M43 23.5h1M45 23.5h1M51 23.5h1M53 23.5h1M55 23.5h1M65 23.5h1M27 24.5h1M34 24.5h1M39 24.5h1M45 24.5h1M52 24.5h1M56 24.5h1M80 24.5h1M23 25.5h1M26 25.5h1M34 25.5h1M40 25.5h1M43 25.5h1M45 25.5h1M14 26.5h1M19 26.5h1M21 26.5h2M38 26.5h1M42 26.5h1M47 26.5h1M51 26.5h1M25 27.5h1M28 27.5h1M30 27.5h1M35 27.5h1M40 27.5h1M42 27.5h1M55 27.5h1M60 27.5h1M31 28.5h1M33 28.5h1M38 28.5h1M45 28.5h1M57 28.5h1M70 28.5h1M73 28.5h1M20 29.5h1M27 29.5h2M33 29.5h1M36 29.5h1M41 29.5h1M45 29.5h3M60 29.5h1M75 29.5h1M23 30.5h1M36 30.5h1M38 30.5h1M44 30.5h1M46 30.5h1M63 30.5h1M30 31.5h1M38 31.5h1M55 31.5h2M62 31.5h1M34 32.5h1M36 32.5h1M38 32.5h2M41 32.5h1M43 32.5h1M45 32.5h1M55 32.5h2M64 32.5h1M16 33.5h1M26 33.5h1M28 33.5h1M36 33.5h1M56 33.5h1M65 33.5h1M69 33.5h1M18 34.5h1M39 34.5h1M45 34.5h1M61 34.5h1M72 34.5h1M15 35.5h2M24 35.5h1M28 35.5h1M31 35.5h3M36 35.5h1M38 35.5h1M47 35.5h3M58 35.5h2M63 35.5h2M34 36.5h1M39 36.5h1M44 36.5h1M46 36.5h1M48 36.5h1M51 36.5h2M77 36.5h1M82 36.5h1M19 37.5h1M33 37.5h1M45 37.5h1M60 37.5h2M30 38.5h1M37 38.5h1M40 38.5h1M44 38.5h1M47 38.5h2M53 38.5h1M65 38.5h4M28 39.5h2M36 39.5h1M45 39.5h1M52 39.5h1M55 39.5h1M61 39.5h1M72 39.5h1M79 39.5h1M27 40.5h3M32 40.5h1M38 40.5h1M48 40.5h1M50 40.5h1M56 40.5h2M80 40.5h1M24 41.5h1M31 41.5h1M35 41.5h1M52 41.5h2M55 41.5h1M61 41.5h1M64 41.5h1M69 41.5h1M73 41.5h1M21 42.5h3M34 42.5h1M39 42.5h1M54 42.5h1M59 42.5h1M64 42.5h2M39 43.5h1M43 43.5h1M48 43.5h1M52 43.5h1M54 43.5h1M25 44.5h1M33 44.5h1M46 44.5h2M50 44.5h1M55 44.5h1M59 44.5h1M62 44.5h1M64 44.5h1M68 44.5h1M71 44.5h1M74 44.5h1M77 44.5h1M28 45.5h1M33 45.5h1M36 45.5h1M43 45.5h2M46 45.5h1M51 45.5h1M54 45.5h1M61 45.5h1M28 46.5h1M31 46.5h1M33 46.5h2M36 46.5h1M40 46.5h1M49 46.5h1M58 46.5h1M76 46.5h1M37 47.5h1M40 47.5h1M44 47.5h1M46 47.5h1M54 47.5h1M56 47.5h2M67 47.5h1M34 48.5h1M37 48.5h2M50 48.5h1M53 48.5h1M55 48.5h1M61 48.5h2M65 48.5h1M67 48.5h1M71 48.5h1M43 49.5h2M47 49.5h1M49 49.5h1M52 49.5h1M55 49.5h1M62 49.5h1M69 49.5h1M29 50.5h1M34 50.5h1M48 50.5h1M50 50.5h1M52 50.5h1M56 50.5h1M63 50.5h1M35 51.5h1M47 51.5h2M52 51.5h1M57 51.5h1M60 51.5h1M65 51.5h1M96 51.5h1M35 52.5h1M49 52.5h2M52 52.5h1M56 52.5h1M63 52.5h1M66 52.5h1M70 52.5h1M89 52.5h1M43 53.5h1M45 53.5h1M49 53.5h2M55 53.5h1M58 53.5h1M66 53.5h1M31 54.5h1M36 54.5h1M38 54.5h1M43 54.5h1M47 54.5h2M55 54.5h1M57 54.5h1M65 54.5h1M71 54.5h1M73 54.5h1M37 55.5h1M39 55.5h1M47 55.5h2M52 55.5h1M56 55.5h1M63 55.5h1M67 55.5h1M76 55.5h1M39 56.5h1M41 56.5h4M46 56.5h1M53 56.5h1M55 56.5h1M77 56.5h1M46 57.5h3M50 57.5h1M53 57.5h1M55 57.5h1M59 57.5h1M48 58.5h1M50 58.5h1M65 58.5h2M36 59.5h2M47 59.5h1M43 60.5h3M52 60.5h1M54 60.5h1M59 60.5h1M61 60.5h1M64 60.5h1M68 60.5h1M75 60.5h1M48 61.5h1M50 61.5h1M63 61.5h1M71 61.5h1M74 61.5h1M47 62.5h1M50 62.5h1M54 62.5h1M67 62.5h1M69 62.5h1M71 62.5h1M76 62.5h2M83 62.5h2M36 63.5h1M49 63.5h1M62 63.5h1M68 63.5h1M70 63.5h1M78 63.5h1M56 64.5h1M58 64.5h1M60 64.5h1M65 64.5h1M67 64.5h1M69 64.5h1M71 64.5h1M57 65.5h1M59 65.5h1M71 65.5h1M81 65.5h1M54 66.5h1M57 66.5h1M70 66.5h1M54 68.5h1M62 68.5h1M64 68.5h2M45 69.5h1M56 69.5h1M59 69.5h1M62 69.5h1M71 69.5h1M87 69.5h1M53 70.5h1M62 70.5h1M67 70.5h1M69 70.5h1M71 70.5h2M79 71.5h1M61 72.5h1M67 72.5h2M71 72.5h1M78 72.5h1M51 73.5h1M63 73.5h1M68 73.5h1M72 73.5h3M63 74.5h1M55 77.5h1M68 77.5h1M69 78.5h1M73 78.5h1M61 79.5h2M74 80.5h1M79 81.5h1M71 82.5h1M63 83.5h1M77 84.5h1"/><path stroke="#ffff00" d="M50 6.5h1M57 7.5h1M47 10.5h1M41 11.5h1M36 12.5h1M14 13.5h1M18 13.5h1M25 13.5h1M31 13.5h1M42 13.5h2M31 15.5h1M60 15.5h1M44 16.5h1M50 17.5h1M29 18.5h1M31 19.5h2M41 19.5h1M32 21.5h1M47 21.5h1M32 22.5h1M55 22.5h1M19 23.5h1M32 23.5h1M56 23.5h1M26 24.5h1M32 24.5h1M64 24.5h1M33 25.5h1M37 25.5h1M47 25.5h1M51 25.5h1M25 26.5h1M46 26.5h1M62 26.5h1M15 27.5h1M31 27.5h1M50 27.5h1M53 27.5h1M64 27.5h1M27 28.5h1M35 28.5h1M61 28.5h1M19 29.5h1M24 29.5h1M48 29.5h2M20 30.5h1M31 30.5h1M41 30.5h1M43 30.5h1M33 31.5h1M44 31.5h1M46 31.5h1M25 32.5h1M46 32.5h1M62 32.5h1M30 33.5h3M44 33.5h1M50 33.5h1M33 34.5h1M40 34.5h1M44 34.5h1M54 34.5h1M42 35.5h2M46 35.5h1M55 35.5h1M61 35.5h1M35 36.5h1M38 36.5h1M58 36.5h1M60 36.5h1M62 36.5h2M31 37.5h2M40 37.5h1M42 37.5h1M46 37.5h2M57 38.5h1M62 38.5h1M35 39.5h1M38 39.5h1M43 39.5h1M54 39.5h1M68 39.5h1M30 40.5h1M34 40.5h1M39 40.5h1M46 40.5h2M51 40.5h2M22 41.5h1M29 41.5h1M34 41.5h1M40 41.5h1M44 41.5h1M46 41.5h1M65 41.5h1M31 42.5h1M46 42.5h2M51 42.5h1M62 42.5h1M35 43.5h1M44 43.5h1M50 43.5h1M56 43.5h1M62 43.5h1M85 43.5h1M34 44.5h1M38 44.5h1M48 44.5h1M42 45.5h1M52 45.5h2M27 46.5h1M37 46.5h1M44 46.5h2M50 46.5h1M53 46.5h1M71 46.5h1M32 47.5h1M38 47.5h1M55 47.5h1M65 47.5h1M74 47.5h1M29 48.5h1M39 48.5h1M42 48.5h1M46 48.5h1M49 48.5h1M52 48.5h1M37 49.5h1M42 49.5h1M50 49.5h1M61 49.5h1M36 50.5h1M39 50.5h1M45 50.5h1M47 50.5h1M37 51.5h2M51 51.5h1M55 51.5h2M70 51.5h1M47 52.5h1M54 52.5h1M57 52.5h1M67 52.5h1M51 53.5h1M57 53.5h1M62 54.5h1M33 55.5h1M47 56.5h1M42 57.5h1M80 57.5h1M47 58.5h1M61 58.5h1M57 59.5h1M68 59.5h1M49 60.5h1M44 61.5h1M53 61.5h1M55 61.5h1M64 61.5h1M43 62.5h1M65 62.5h1M68 62.5h1M59 63.5h1M50 64.5h1M55 65.5h1M55 66.5h1M59 66.5h1M63 72.5h1M64 77.5h1"/><path stroke="#ff8000" d="M25 5.5h1M25 20.5h1M39 20.5h1M51 21.5h1M55 21.5h1M38 22.5h1M19 24.5h1M41 25.5h1M37 26.5h1M29 29.5h1M32 29.5h1M58 29.5h1M20 31.5h1M37 31.5h1M52 32.5h1M37 33.5h1M28 34.5h2M38 34.5h1M25 36.5h1M29 36.5h1M40 36.5h2M56 36.5h1M48 37.5h1M53 37.5h1M21 38.5h1M38 38.5h1M41 38.5h2M65 39.5h1M60 40.5h1M27 41.5h1M39 41.5h1M42 41.5h1M47 41.5h2M45 42.5h1M33 43.5h1M43 44.5h1M45 44.5h1M53 44.5h1M58 44.5h1M30 47.5h1M45 47.5h1M49 47.5h1M41 48.5h1M47 48.5h1M63 48.5h1M40 49.5h1M49 50.5h1M61 50.5h1M40 51.5h1M50 51.5h1M54 53.5h1M59 53.5h1M61 53.5h1M40 54.5h1M49 54.5h1M38 55.5h1M43 55.5h1M51 56.5h1M51 57.5h1M48 59.5h1M53 59.5h1M63 59.5h1M52 62.5h1M57 63.5h1M53 64.5h1M59 64.5h1M78 69.5h1M76 77.5h1"/><path stroke="#ff0000" d="M35 12.5h1M27 26.5h1M16 27.5h1M42 29.5h1M48 30.5h1M19 31.5h1M35 32.5h1M32 34.5h1M30 37.5h1M35 37.5h1M41 37.5h1M42 39.5h1M35 40.5h1M58 40.5h1M38 41.5h1M43 42.5h1M48 42.5h1M53 42.5h1M37 44.5h1M40 44.5h1M42 44.5h1M37 45.5h1M42 46.5h1M57 46.5h1M36 47.5h1M39 47.5h1M41 47.5h1M59 47.5h1M40 48.5h1M32 49.5h1M37 50.5h1M53 50.5h1M65 50.5h1M53 51.5h1M45 52.5h1M46 54.5h1M60 54.5h1M45 55.5h1M60 57.5h1M50 59.5h1M58 61.5h1"/></g>
<rect x="135.10" y="509.60" width="77.20" height="66.70" fill="#fff" fill-opacity="0.8"/>
<path d="M134.10 3.00L600.80 3.00" stroke="#000" stroke-width="2.0"/>
<path d="M599.80 3.00L599.80 578.50" stroke="#000" stroke-width="2.0"/>
<path d="M134.10 2.00L134.10 596.00" stroke="#000" stroke-width="2.0"/>
<path d="M134.10 578.50L600.80 578.50" stroke="#000" stroke-width="4.4"/>
<path d="M283.10 3.00L283.10 581.50" stroke="#000" stroke-width="2.0"/>
<path d="M134.10 347.00L599.80 347.00" stroke="#000" stroke-width="2.0"/>
<path d="M117.10 579.50H134.10M134.10 578.50V596.00M126.10 536.33H134.10M169.02 578.50V587.20M126.10 511.08H134.10M189.45 578.50V587.20M126.10 493.16H134.10M203.94 578.50V587.20M122.00 479.27H134.10M215.18 578.50V591.70M126.10 467.91H134.10M224.37 578.50V587.20M126.10 458.31H134.10M232.13 578.50V587.20M126.10 450.00H134.10M238.86 578.50V587.20M126.10 442.66H134.10M244.79 578.50V587.20M117.10 436.10H134.10M250.10 578.50V596.00M126.10 392.93H134.10M285.02 578.50V587.20M126.10 367.68H134.10M305.45 578.50V587.20M126.10 349.76H134.10M319.94 578.50V587.20M122.00 335.87H134.10M331.18 578.50V591.70M126.10 324.51H134.10M340.37 578.50V587.20M126.10 314.91H134.10M348.13 578.50V587.20M126.10 306.60H134.10M354.86 578.50V587.20M126.10 299.26H134.10M360.79 578.50V587.20M117.10 292.70H134.10M366.10 578.50V596.00M126.10 249.53H134.10M401.02 578.50V587.20M126.10 224.28H134.10M421.45 578.50V587.20M126.10 206.36H134.10M435.94 578.50V587.20M122.00 192.47H134.10M447.18 578.50V591.70M126.10 181.11H134.10M456.37 578.50V587.20M126.10 171.51H134.10M464.13 578.50V587.20M126.10 163.20H134.10M470.86 578.50V587.20M126.10 155.86H134.10M476.79 578.50V587.20M117.10 149.30H134.10M482.10 578.50V596.00M126.10 106.13H134.10M517.02 578.50V587.20M126.10 80.88H134.10M537.45 578.50V587.20M126.10 62.96H134.10M551.94 578.50V587.20M122.00 49.07H134.10M563.18 578.50V591.70M126.10 37.71H134.10M572.37 578.50V587.20M126.10 28.11H134.10M580.13 578.50V587.20M126.10 19.80H134.10M586.86 578.50V587.20M126.10 12.46H134.10M592.79 578.50V587.20M117.10 5.90H134.10M598.10 578.50V596.00" stroke="#000" stroke-width="2.1" fill="none"/>
<path d="M117.10 579.50L134.10 579.50" stroke="#000" stroke-width="2.3"/>
<text transform="translate(63.00 587.80) scale(0.9349 1)" font-family="Liberation Sans" font-size="26.50" fill="#363636" stroke="#363636" stroke-width="0.45">10</text>
<text transform="translate(92.40 566.80) scale(0.9451 1)" font-family="Liberation Sans" font-size="26.50" fill="#363636" stroke="#363636" stroke-width="0.45">0</text>
<text transform="translate(63.00 446.90) scale(0.9349 1)" font-family="Liberation Sans" font-size="26.50" fill="#363636" stroke="#363636" stroke-width="0.45">10</text>
<text transform="translate(94.48 426.40) scale(0.5671 1)" font-family="Liberation Sans" font-size="26.50" fill="#363636" stroke="#363636" stroke-width="0.45">1</text>
<text transform="translate(63.00 303.00) scale(0.9349 1)" font-family="Liberation Sans" font-size="26.50" fill="#363636" stroke="#363636" stroke-width="0.45">10</text>
<text transform="translate(92.40 282.90) scale(0.9451 1)" font-family="Liberation Sans" font-size="26.50" fill="#363636" stroke="#363636" stroke-width="0.45">2</text>
<text transform="translate(63.00 160.80) scale(0.9349 1)" font-family="Liberation Sans" font-size="26.50" fill="#363636" stroke="#363636" stroke-width="0.45">10</text>
<text transform="translate(92.40 141.70) scale(0.9451 1)" font-family="Liberation Sans" font-size="26.50" fill="#363636" stroke="#363636" stroke-width="0.45">3</text>
<text transform="translate(63.00 55.90) scale(0.9349 1)" font-family="Liberation Sans" font-size="26.50" fill="#363636" stroke="#363636" stroke-width="0.45">10</text>
<text transform="translate(92.40 35.40) scale(0.9451 1)" font-family="Liberation Sans" font-size="26.50" fill="#363636" stroke="#363636" stroke-width="0.45">4</text>
<text transform="translate(143.30 637.90) scale(0.9806 1)" font-family="Liberation Sans" font-size="26.00" fill="#363636" stroke="#363636" stroke-width="0.45">10</text>
<text transform="translate(175.40 619.00) scale(0.8663 1)" font-family="Liberation Sans" font-size="26.00" fill="#363636" stroke="#363636" stroke-width="0.45">0</text>
<text transform="translate(239.10 637.90) scale(0.9667 1)" font-family="Liberation Sans" font-size="26.00" fill="#363636" stroke="#363636" stroke-width="0.45">10</text>
<text transform="translate(272.40 619.00) scale(0.6306 1)" font-family="Liberation Sans" font-size="26.00" fill="#363636" stroke="#363636" stroke-width="0.45">1</text>
<text transform="translate(346.50 637.90) scale(0.9667 1)" font-family="Liberation Sans" font-size="26.00" fill="#363636" stroke="#363636" stroke-width="0.45">10</text>
<text transform="translate(378.50 619.00) scale(0.7277 1)" font-family="Liberation Sans" font-size="26.00" fill="#363636" stroke="#363636" stroke-width="0.45">2</text>
<text transform="translate(455.50 637.90) scale(0.9667 1)" font-family="Liberation Sans" font-size="26.00" fill="#363636" stroke="#363636" stroke-width="0.45">10</text>
<text transform="translate(486.80 619.00) scale(0.8663 1)" font-family="Liberation Sans" font-size="26.00" fill="#363636" stroke="#363636" stroke-width="0.45">3</text>
<text transform="translate(563.80 637.90) scale(0.9806 1)" font-family="Liberation Sans" font-size="26.00" fill="#363636" stroke="#363636" stroke-width="0.45">10</text>
<text transform="translate(593.00 619.00) scale(0.9148 1)" font-family="Liberation Sans" font-size="26.00" fill="#363636" stroke="#363636" stroke-width="0.45">4</text>
<text transform="translate(20.50 331.00) rotate(-90) scale(0.9937 1)" font-family="Liberation Sans" font-size="26.50" fill="#363636" stroke="#363636" stroke-width="0.45">FL2-PI</text>
<text transform="translate(245.30 712.80) scale(1.0249 1)" font-family="Liberation Sans" font-size="26.30" fill="#363636" stroke="#363636" stroke-width="0.45">FL1-Annexin V-FITC</text>
<text transform="translate(297.00 69.30) scale(1.0186 1)" font-family="Liberation Serif" font-size="46.00" fill="#000">(Control)</text>
<text transform="translate(140.30 35.70) scale(0.7273 1)" font-family="Liberation Sans" font-size="27.50" fill="#333" stroke="#333" stroke-width="0.45">Q1</text>
<text transform="translate(142.20 71.60) scale(0.7755 1)" font-family="Liberation Sans" font-size="27.50" fill="#333" stroke="#333" stroke-width="0.45">0.232%</text>
<text transform="translate(513.20 35.70) scale(0.7763 1)" font-family="Liberation Sans" font-size="27.50" fill="#333" stroke="#333" stroke-width="0.45">Q2</text>
<text transform="translate(513.60 71.60) scale(0.8113 1)" font-family="Liberation Sans" font-size="27.50" fill="#333" stroke="#333" stroke-width="0.45">0.111%</text>
<text transform="translate(527.40 535.40) scale(0.7191 1)" font-family="Liberation Sans" font-size="27.50" fill="#333" stroke="#333" stroke-width="0.45">Q3</text>
<text transform="translate(525.40 571.60) scale(0.7786 1)" font-family="Liberation Sans" font-size="27.50" fill="#333" stroke="#333" stroke-width="0.45">4.47%</text>
<text transform="translate(142.70 535.20) scale(0.7491 1)" font-family="Liberation Sans" font-size="27.50" fill="#333" stroke="#333" stroke-width="0.45">Q4</text>
<text transform="translate(142.70 571.40) scale(0.7799 1)" font-family="Liberation Sans" font-size="27.50" fill="#333" stroke="#333" stroke-width="0.45">95.2%</text>
<g transform="translate(748.40 577.00) scale(1.8219 -2.2469)" stroke-width="1" fill="none"><path stroke="#0000ff" d="M16 0.5h1M29 0.5h2M33 0.5h1M40 0.5h1M48 0.5h1M23 1.5h1M26 1.5h1M34 1.5h1M43 1.5h1M45 1.5h1M51 1.5h1M119 1.5h1M9 2.5h1M29 2.5h1M33 2.5h1M38 2.5h1M53 2.5h1M55 2.5h2M62 2.5h1M77 2.5h1M93 2.5h1M104 2.5h1M1 3.5h1M11 3.5h1M22 3.5h1M26 3.5h1M34 3.5h1M42 3.5h1M46 3.5h1M68 3.5h1M5 4.5h1M7 4.5h1M16 4.5h1M32 4.5h1M41 4.5h1M65 4.5h1M91 4.5h1M4 5.5h1M6 5.5h1M14 5.5h1M19 5.5h1M21 5.5h1M24 5.5h1M30 5.5h3M34 5.5h2M37 5.5h1M44 5.5h1M47 5.5h1M49 5.5h1M53 5.5h1M55 5.5h2M63 5.5h1M76 5.5h1M3 6.5h1M12 6.5h1M18 6.5h1M20 6.5h1M24 6.5h1M28 6.5h1M34 6.5h1M39 6.5h1M43 6.5h1M47 6.5h1M52 6.5h1M54 6.5h1M95 6.5h1M0 7.5h1M3 7.5h1M8 7.5h1M16 7.5h1M21 7.5h1M23 7.5h1M29 7.5h6M40 7.5h1M42 7.5h1M45 7.5h1M47 7.5h1M100 7.5h1M2 8.5h1M6 8.5h2M9 8.5h1M16 8.5h1M33 8.5h1M35 8.5h1M40 8.5h1M43 8.5h1M46 8.5h1M55 8.5h2M61 8.5h3M68 8.5h1M83 8.5h1M2 9.5h2M5 9.5h1M7 9.5h1M15 9.5h1M19 9.5h1M25 9.5h1M31 9.5h3M36 9.5h1M54 9.5h1M56 9.5h2M64 9.5h1M79 9.5h2M85 9.5h1M4 10.5h1M6 10.5h2M9 10.5h1M19 10.5h1M33 10.5h1M35 10.5h1M42 10.5h1M45 10.5h1M49 10.5h1M56 10.5h1M61 10.5h1M64 10.5h1M71 10.5h1M90 10.5h1M17 11.5h1M22 11.5h2M25 11.5h2M29 11.5h1M34 11.5h1M40 11.5h2M51 11.5h2M54 11.5h2M9 12.5h1M13 12.5h2M16 12.5h1M19 12.5h1M24 12.5h1M26 12.5h1M28 12.5h2M35 12.5h1M38 12.5h1M41 12.5h1M43 12.5h1M48 12.5h2M51 12.5h2M65 12.5h1M73 12.5h1M83 12.5h1M86 12.5h1M6 13.5h1M11 13.5h1M13 13.5h2M17 13.5h3M24 13.5h3M37 13.5h2M41 13.5h2M54 13.5h2M67 13.5h1M71 13.5h2M85 13.5h1M2 14.5h1M6 14.5h1M9 14.5h1M11 14.5h1M14 14.5h2M17 14.5h2M22 14.5h3M26 14.5h2M33 14.5h2M37 14.5h1M40 14.5h2M45 14.5h1M48 14.5h2M51 14.5h1M58 14.5h1M66 14.5h1M69 14.5h1M79 14.5h1M3 15.5h1M9 15.5h1M13 15.5h1M21 15.5h3M26 15.5h1M29 15.5h1M31 15.5h5M40 15.5h1M43 15.5h1M47 15.5h1M49 15.5h1M54 15.5h1M56 15.5h1M58 15.5h1M65 15.5h1M69 15.5h2M83 15.5h1M95 15.5h1M7 16.5h2M11 16.5h1M13 16.5h2M19 16.5h1M23 16.5h3M27 16.5h1M34 16.5h1M36 16.5h1M39 16.5h1M46 16.5h1M48 16.5h1M55 16.5h1M59 16.5h2M66 16.5h1M68 16.5h1M70 16.5h2M75 16.5h1M77 16.5h1M79 16.5h1M83 16.5h1M8 17.5h1M11 17.5h1M13 17.5h1M18 17.5h1M23 17.5h1M25 17.5h1M28 17.5h1M33 17.5h1M39 17.5h1M43 17.5h1M45 17.5h3M49 17.5h3M54 17.5h1M57 17.5h1M60 17.5h1M62 17.5h1M66 17.5h1M70 17.5h1M77 17.5h1M87 17.5h1M92 17.5h1M1 18.5h2M5 18.5h2M8 18.5h1M17 18.5h2M20 18.5h2M27 18.5h2M37 18.5h1M39 18.5h2M42 18.5h1M45 18.5h1M53 18.5h2M60 18.5h1M62 18.5h1M65 18.5h1M69 18.5h1M71 18.5h1M82 18.5h1M11 19.5h2M25 19.5h1M27 19.5h1M29 19.5h2M34 19.5h1M38 19.5h1M40 19.5h1M42 19.5h2M50 19.5h1M61 19.5h2M66 19.5h1M71 19.5h1M75 19.5h1M84 19.5h1M87 19.5h1M2 20.5h4M10 20.5h3M14 20.5h1M16 20.5h5M23 20.5h1M27 20.5h1M29 20.5h2M32 20.5h2M35 20.5h1M37 20.5h1M42 20.5h1M49 20.5h1M51 20.5h1M56 20.5h1M60 20.5h2M66 20.5h1M73 20.5h1M85 20.5h1M133 20.5h1M0 21.5h1M10 21.5h1M13 21.5h2M18 21.5h1M23 21.5h2M26 21.5h3M30 21.5h2M34 21.5h1M36 21.5h2M39 21.5h2M47 21.5h1M54 21.5h2M57 21.5h3M66 21.5h1M75 21.5h1M83 21.5h1M90 21.5h1M93 21.5h1M102 21.5h1M106 21.5h1M2 22.5h1M7 22.5h1M9 22.5h1M12 22.5h1M17 22.5h1M21 22.5h1M27 22.5h2M35 22.5h1M38 22.5h2M49 22.5h1M51 22.5h1M53 22.5h1M55 22.5h1M61 22.5h1M67 22.5h1M76 22.5h1M86 22.5h1M5 23.5h1M7 23.5h1M18 23.5h1M20 23.5h2M26 23.5h1M31 23.5h1M35 23.5h1M45 23.5h1M47 23.5h1M50 23.5h1M52 23.5h1M54 23.5h1M56 23.5h1M59 23.5h1M61 23.5h2M64 23.5h1M66 23.5h1M70 23.5h1M72 23.5h1M74 23.5h1M79 23.5h2M84 23.5h1M95 23.5h1M101 23.5h1M131 23.5h1M3 24.5h1M5 24.5h3M11 24.5h1M16 24.5h1M18 24.5h1M21 24.5h2M25 24.5h1M27 24.5h1M31 24.5h1M33 24.5h1M36 24.5h1M38 24.5h1M46 24.5h1M56 24.5h1M59 24.5h1M61 24.5h1M69 24.5h1M72 24.5h1M75 24.5h1M77 24.5h1M92 24.5h1M101 24.5h1M103 24.5h1M2 25.5h1M5 25.5h1M13 25.5h3M17 25.5h1M20 25.5h3M29 25.5h2M34 25.5h2M39 25.5h1M42 25.5h2M46 25.5h1M48 25.5h2M58 25.5h1M61 25.5h1M65 25.5h1M69 25.5h1M73 25.5h3M79 25.5h1M81 25.5h1M87 25.5h1M3 26.5h3M7 26.5h1M14 26.5h1M16 26.5h2M23 26.5h1M25 26.5h2M29 26.5h1M32 26.5h1M44 26.5h5M50 26.5h2M53 26.5h2M56 26.5h2M72 26.5h1M75 26.5h2M80 26.5h1M82 26.5h2M93 26.5h1M2 27.5h1M10 27.5h1M14 27.5h2M17 27.5h2M22 27.5h1M27 27.5h1M37 27.5h1M40 27.5h1M46 27.5h1M48 27.5h1M52 27.5h2M56 27.5h1M58 27.5h3M63 27.5h2M68 27.5h1M72 27.5h1M75 27.5h1M79 27.5h2M91 27.5h1M102 27.5h1M104 27.5h1M12 28.5h1M16 28.5h1M18 28.5h1M20 28.5h2M23 28.5h1M25 28.5h1M28 28.5h3M33 28.5h2M38 28.5h1M41 28.5h1M43 28.5h1M45 28.5h1M48 28.5h1M50 28.5h1M52 28.5h1M54 28.5h2M57 28.5h2M64 28.5h1M66 28.5h1M68 28.5h5M76 28.5h1M78 28.5h1M82 28.5h1M95 28.5h1M98 28.5h1M10 29.5h1M12 29.5h1M22 29.5h1M26 29.5h1M31 29.5h1M34 29.5h2M41 29.5h1M43 29.5h2M46 29.5h1M49 29.5h1M61 29.5h1M64 29.5h1M68 29.5h5M76 29.5h2M79 29.5h2M86 29.5h1M89 29.5h1M91 29.5h1M3 30.5h1M10 30.5h1M12 30.5h3M17 30.5h1M19 30.5h1M25 30.5h2M29 30.5h2M36 30.5h1M41 30.5h1M45 30.5h2M51 30.5h3M56 30.5h1M60 30.5h1M63 30.5h1M65 30.5h1M70 30.5h1M73 30.5h1M76 30.5h1M78 30.5h1M80 30.5h1M82 30.5h2M87 30.5h1M94 30.5h1M111 30.5h1M115 30.5h1M128 30.5h1M3 31.5h1M5 31.5h1M16 31.5h1M18 31.5h1M21 31.5h1M24 31.5h1M26 31.5h2M33 31.5h1M36 31.5h1M39 31.5h1M44 31.5h1M47 31.5h2M54 31.5h1M57 31.5h1M61 31.5h1M63 31.5h1M65 31.5h1M72 31.5h1M74 31.5h1M76 31.5h1M99 31.5h1M110 31.5h1M1 32.5h1M3 32.5h1M6 32.5h4M17 32.5h1M20 32.5h1M25 32.5h2M28 32.5h1M30 32.5h2M33 32.5h1M39 32.5h1M45 32.5h1M48 32.5h1M52 32.5h1M57 32.5h1M59 32.5h2M63 32.5h1M67 32.5h1M69 32.5h2M73 32.5h1M83 32.5h1M92 32.5h1M3 33.5h1M11 33.5h2M16 33.5h1M19 33.5h1M21 33.5h1M27 33.5h3M31 33.5h3M36 33.5h1M43 33.5h1M46 33.5h1M48 33.5h1M54 33.5h2M57 33.5h1M61 33.5h1M63 33.5h1M65 33.5h2M68 33.5h2M72 33.5h1M81 33.5h2M91 33.5h1M94 33.5h2M148 33.5h1M3 34.5h2M6 34.5h3M10 34.5h2M15 34.5h1M20 34.5h1M22 34.5h1M27 34.5h1M31 34.5h1M39 34.5h1M44 34.5h1M56 34.5h1M60 34.5h1M63 34.5h1M68 34.5h4M73 34.5h2M76 34.5h1M78 34.5h1M83 34.5h1M89 34.5h1M95 34.5h1M106 34.5h1M110 34.5h1M121 34.5h1M134 34.5h1M3 35.5h2M10 35.5h2M13 35.5h1M19 35.5h6M27 35.5h1M29 35.5h1M32 35.5h1M38 35.5h1M44 35.5h1M47 35.5h1M50 35.5h1M55 35.5h1M58 35.5h1M62 35.5h2M65 35.5h1M67 35.5h1M69 35.5h1M71 35.5h1M73 35.5h1M76 35.5h2M86 35.5h1M95 35.5h1M100 35.5h1M144 35.5h1M0 36.5h1M2 36.5h1M8 36.5h1M11 36.5h1M14 36.5h1M16 36.5h2M20 36.5h1M22 36.5h4M27 36.5h3M31 36.5h1M35 36.5h2M41 36.5h1M45 36.5h1M57 36.5h1M63 36.5h3M76 36.5h1M82 36.5h1M85 36.5h2M3 37.5h1M5 37.5h1M8 37.5h1M10 37.5h3M23 37.5h1M25 37.5h1M28 37.5h1M31 37.5h1M38 37.5h1M41 37.5h2M45 37.5h1M47 37.5h1M49 37.5h2M52 37.5h1M55 37.5h3M59 37.5h1M64 37.5h1M68 37.5h1M77 37.5h2M82 37.5h1M85 37.5h1M98 37.5h1M103 37.5h1M113 37.5h1M124 37.5h1M126 37.5h1M6 38.5h1M8 38.5h1M11 38.5h1M15 38.5h1M18 38.5h1M27 38.5h4M35 38.5h2M38 38.5h1M44 38.5h1M53 38.5h3M57 38.5h2M60 38.5h1M62 38.5h2M69 38.5h1M71 38.5h1M73 38.5h3M77 38.5h1M82 38.5h1M86 38.5h3M90 38.5h1M93 38.5h1M104 38.5h1M106 38.5h1M1 39.5h1M5 39.5h2M8 39.5h1M14 39.5h1M16 39.5h1M18 39.5h2M26 39.5h1M28 39.5h1M30 39.5h1M33 39.5h1M40 39.5h2M47 39.5h1M49 39.5h1M52 39.5h2M57 39.5h3M67 39.5h1M71 39.5h1M73 39.5h1M78 39.5h1M80 39.5h1M82 39.5h2M87 39.5h1M89 39.5h1M91 39.5h1M95 39.5h1M99 39.5h1M108 39.5h1M131 39.5h1M134 39.5h1M3 40.5h2M7 40.5h1M10 40.5h1M15 40.5h1M19 40.5h2M24 40.5h1M26 40.5h2M29 40.5h1M34 40.5h2M37 40.5h1M42 40.5h1M46 40.5h3M52 40.5h1M57 40.5h1M59 40.5h2M64 40.5h1M66 40.5h1M71 40.5h1M74 40.5h1M77 40.5h1M79 40.5h1M84 40.5h2M88 40.5h2M94 40.5h1M143 40.5h1M1 41.5h1M6 41.5h1M8 41.5h1M10 41.5h1M18 41.5h1M22 41.5h1M24 41.5h1M26 41.5h2M32 41.5h1M34 41.5h2M46 41.5h1M53 41.5h1M55 41.5h1M61 41.5h1M63 41.5h4M68 41.5h2M71 41.5h1M73 41.5h1M76 41.5h2M79 41.5h1M87 41.5h1M91 41.5h1M94 41.5h1M110 41.5h1M5 42.5h1M11 42.5h1M13 42.5h4M18 42.5h4M24 42.5h1M26 42.5h1M30 42.5h1M46 42.5h1M48 42.5h1M63 42.5h1M68 42.5h2M73 42.5h1M76 42.5h2M82 42.5h1M86 42.5h1M98 42.5h1M4 43.5h1M9 43.5h1M15 43.5h2M19 43.5h1M21 43.5h1M24 43.5h1M27 43.5h1M37 43.5h1M46 43.5h1M53 43.5h1M59 43.5h1M65 43.5h1M70 43.5h2M76 43.5h1M78 43.5h1M81 43.5h1M83 43.5h1M85 43.5h1M88 43.5h1M90 43.5h2M97 43.5h1M107 43.5h1M109 43.5h2M114 43.5h1M124 43.5h1M126 43.5h1M136 43.5h1M13 44.5h1M16 44.5h1M21 44.5h1M28 44.5h1M34 44.5h1M38 44.5h1M41 44.5h2M44 44.5h1M49 44.5h2M61 44.5h1M64 44.5h1M68 44.5h1M73 44.5h2M80 44.5h2M84 44.5h2M87 44.5h1M93 44.5h2M96 44.5h1M98 44.5h1M107 44.5h1M112 44.5h1M114 44.5h1M137 44.5h1M8 45.5h2M11 45.5h2M14 45.5h2M18 45.5h1M23 45.5h1M25 45.5h1M31 45.5h1M33 45.5h1M36 45.5h1M39 45.5h1M48 45.5h1M50 45.5h1M53 45.5h1M56 45.5h2M59 45.5h1M62 45.5h1M64 45.5h1M68 45.5h1M72 45.5h1M75 45.5h1M78 45.5h1M98 45.5h1M101 45.5h1M107 45.5h1M109 45.5h1M121 45.5h1M8 46.5h1M10 46.5h1M14 46.5h1M20 46.5h1M22 46.5h2M34 46.5h1M40 46.5h1M43 46.5h1M45 46.5h2M51 46.5h1M53 46.5h1M57 46.5h1M59 46.5h2M62 46.5h2M69 46.5h1M76 46.5h1M78 46.5h1M80 46.5h1M83 46.5h1M86 46.5h1M88 46.5h1M91 46.5h1M96 46.5h1M100 46.5h1M108 46.5h1M9 47.5h1M14 47.5h1M16 47.5h1M19 47.5h1M25 47.5h1M29 47.5h1M37 47.5h1M46 47.5h2M51 47.5h1M54 47.5h1M56 47.5h2M63 47.5h1M68 47.5h1M75 47.5h1M84 47.5h2M93 47.5h1M95 47.5h1M97 47.5h1M100 47.5h2M112 47.5h1M129 47.5h1M131 47.5h1M143 47.5h1M150 47.5h1M176 47.5h1M14 48.5h1M18 48.5h1M20 48.5h1M23 48.5h1M26 48.5h2M30 48.5h1M32 48.5h1M37 48.5h2M40 48.5h1M42 48.5h3M49 48.5h1M56 48.5h1M62 48.5h1M69 48.5h2M74 48.5h1M76 48.5h2M83 48.5h1M86 48.5h2M89 48.5h2M97 48.5h1M99 48.5h1M102 48.5h1M104 48.5h1M107 48.5h1M8 49.5h1M10 49.5h1M16 49.5h4M22 49.5h1M24 49.5h1M29 49.5h2M33 49.5h2M37 49.5h1M40 49.5h1M48 49.5h1M50 49.5h1M55 49.5h1M59 49.5h1M61 49.5h1M64 49.5h1M72 49.5h1M75 49.5h1M91 49.5h2M94 49.5h2M101 49.5h1M129 49.5h1M14 50.5h1M16 50.5h2M19 50.5h2M23 50.5h1M26 50.5h1M29 50.5h1M31 50.5h1M33 50.5h1M46 50.5h2M58 50.5h1M61 50.5h1M64 50.5h1M66 50.5h1M70 50.5h1M72 50.5h1M79 50.5h1M97 50.5h2M100 50.5h4M105 50.5h1M12 51.5h2M19 51.5h1M22 51.5h2M26 51.5h1M30 51.5h1M32 51.5h1M36 51.5h2M44 51.5h1M57 51.5h1M62 51.5h2M74 51.5h1M76 51.5h2M79 51.5h1M82 51.5h1M84 51.5h1M86 51.5h1M88 51.5h1M90 51.5h2M99 51.5h1M105 51.5h1M126 51.5h1M134 51.5h1M7 52.5h1M16 52.5h1M21 52.5h1M23 52.5h2M34 52.5h1M38 52.5h1M60 52.5h1M62 52.5h1M72 52.5h1M76 52.5h2M79 52.5h1M84 52.5h1M87 52.5h1M92 52.5h1M94 52.5h1M104 52.5h1M107 52.5h1M116 52.5h1M20 53.5h1M22 53.5h1M26 53.5h1M28 53.5h1M34 53.5h2M37 53.5h3M42 53.5h1M46 53.5h2M53 53.5h2M59 53.5h1M62 53.5h1M68 53.5h1M71 53.5h1M74 53.5h3M78 53.5h4M84 53.5h1M93 53.5h1M95 53.5h1M146 53.5h1M15 54.5h1M17 54.5h1M20 54.5h1M22 54.5h4M30 54.5h1M38 54.5h2M42 54.5h1M50 54.5h1M63 54.5h1M70 54.5h2M73 54.5h1M79 54.5h1M84 54.5h1M87 54.5h2M91 54.5h1M93 54.5h1M95 54.5h1M97 54.5h1M99 54.5h1M109 54.5h1M117 54.5h1M22 55.5h1M27 55.5h1M30 55.5h1M32 55.5h2M42 55.5h1M45 55.5h1M50 55.5h1M69 55.5h2M75 55.5h1M82 55.5h1M85 55.5h1M87 55.5h1M89 55.5h1M93 55.5h1M95 55.5h1M97 55.5h1M102 55.5h1M112 55.5h2M15 56.5h1M23 56.5h1M25 56.5h2M29 56.5h1M32 56.5h1M39 56.5h1M50 56.5h1M56 56.5h2M59 56.5h1M61 56.5h3M66 56.5h1M68 56.5h1M70 56.5h1M73 56.5h2M76 56.5h1M78 56.5h2M84 56.5h1M86 56.5h1M89 56.5h1M91 56.5h1M94 56.5h1M96 56.5h1M98 56.5h1M102 56.5h1M107 56.5h2M111 56.5h1M11 57.5h1M16 57.5h1M25 57.5h1M29 57.5h2M32 57.5h3M43 57.5h2M60 57.5h1M63 57.5h3M69 57.5h2M72 57.5h3M79 57.5h2M82 57.5h1M86 57.5h1M91 57.5h3M95 57.5h2M106 57.5h1M108 57.5h1M114 57.5h1M3 58.5h1M8 58.5h1M11 58.5h1M16 58.5h1M19 58.5h1M24 58.5h1M28 58.5h3M33 58.5h4M38 58.5h1M43 58.5h1M45 58.5h2M52 58.5h1M57 58.5h1M63 58.5h1M72 58.5h1M74 58.5h2M77 58.5h1M80 58.5h1M90 58.5h1M96 58.5h1M100 58.5h2M104 58.5h1M108 58.5h1M127 58.5h1M142 58.5h1M11 59.5h1M21 59.5h1M24 59.5h1M26 59.5h1M28 59.5h3M34 59.5h4M48 59.5h1M53 59.5h1M55 59.5h1M60 59.5h2M64 59.5h1M67 59.5h1M71 59.5h1M73 59.5h2M76 59.5h1M79 59.5h1M82 59.5h1M84 59.5h1M86 59.5h1M93 59.5h2M103 59.5h1M106 59.5h1M114 59.5h1M1 60.5h1M11 60.5h2M17 60.5h1M22 60.5h1M24 60.5h3M28 60.5h1M30 60.5h3M35 60.5h2M41 60.5h1M44 60.5h2M51 60.5h3M63 60.5h1M65 60.5h1M69 60.5h1M72 60.5h3M76 60.5h1M80 60.5h1M85 60.5h2M91 60.5h3M98 60.5h1M100 60.5h1M106 60.5h3M118 60.5h2M132 60.5h1M134 60.5h1M142 60.5h1M8 61.5h1M19 61.5h1M22 61.5h1M24 61.5h1M26 61.5h1M28 61.5h2M32 61.5h1M37 61.5h1M46 61.5h3M59 61.5h2M63 61.5h1M65 61.5h1M67 61.5h6M74 61.5h1M79 61.5h1M83 61.5h2M86 61.5h1M88 61.5h1M99 61.5h1M105 61.5h1M31 62.5h2M35 62.5h1M38 62.5h1M45 62.5h1M47 62.5h1M60 62.5h1M63 62.5h1M68 62.5h1M70 62.5h1M75 62.5h1M81 62.5h1M83 62.5h1M87 62.5h4M92 62.5h1M94 62.5h3M98 62.5h2M101 62.5h1M109 62.5h2M113 62.5h1M115 62.5h1M150 62.5h1M10 63.5h1M25 63.5h2M28 63.5h3M34 63.5h1M36 63.5h2M39 63.5h1M41 63.5h1M43 63.5h1M46 63.5h1M49 63.5h1M53 63.5h1M55 63.5h1M61 63.5h1M63 63.5h1M68 63.5h1M71 63.5h1M74 63.5h1M76 63.5h2M79 63.5h4M84 63.5h1M86 63.5h1M88 63.5h1M92 63.5h1M94 63.5h1M99 63.5h2M102 63.5h1M104 63.5h2M123 63.5h1M16 64.5h1M24 64.5h1M29 64.5h2M32 64.5h2M35 64.5h2M38 64.5h3M48 64.5h6M55 64.5h1M59 64.5h1M65 64.5h1M68 64.5h1M70 64.5h2M76 64.5h1M78 64.5h1M80 64.5h1M88 64.5h1M90 64.5h2M110 64.5h2M115 64.5h1M121 64.5h1M135 64.5h1M152 64.5h2M21 65.5h1M25 65.5h1M31 65.5h2M37 65.5h1M47 65.5h1M54 65.5h4M60 65.5h2M65 65.5h4M75 65.5h1M77 65.5h1M80 65.5h2M83 65.5h1M87 65.5h2M90 65.5h1M93 65.5h1M99 65.5h2M102 65.5h1M105 65.5h1M130 65.5h1M25 66.5h1M44 66.5h1M46 66.5h1M55 66.5h1M58 66.5h1M60 66.5h2M67 66.5h1M72 66.5h1M77 66.5h2M82 66.5h1M84 66.5h2M87 66.5h3M91 66.5h2M95 66.5h1M99 66.5h2M107 66.5h2M124 66.5h1M27 67.5h1M30 67.5h2M36 67.5h1M42 67.5h1M44 67.5h1M50 67.5h2M62 67.5h2M71 67.5h1M73 67.5h2M77 67.5h2M80 67.5h1M83 67.5h2M86 67.5h1M90 67.5h1M92 67.5h4M97 67.5h1M99 67.5h1M101 67.5h1M105 67.5h1M109 67.5h1M117 67.5h1M119 67.5h1M123 67.5h1M146 67.5h1M35 68.5h2M39 68.5h2M43 68.5h1M47 68.5h1M49 68.5h1M51 68.5h1M55 68.5h2M58 68.5h1M60 68.5h2M70 68.5h1M72 68.5h1M77 68.5h3M82 68.5h1M86 68.5h3M101 68.5h2M105 68.5h1M113 68.5h1M117 68.5h1M125 68.5h1M132 68.5h1M16 69.5h1M26 69.5h1M29 69.5h2M33 69.5h2M38 69.5h1M40 69.5h1M44 69.5h1M47 69.5h1M50 69.5h1M52 69.5h1M63 69.5h1M67 69.5h1M70 69.5h3M78 69.5h1M80 69.5h2M83 69.5h1M87 69.5h2M90 69.5h2M94 69.5h1M96 69.5h2M101 69.5h1M103 69.5h2M106 69.5h1M3 70.5h1M25 70.5h1M33 70.5h2M42 70.5h1M45 70.5h1M47 70.5h2M50 70.5h1M54 70.5h1M59 70.5h2M66 70.5h1M75 70.5h3M81 70.5h2M89 70.5h2M100 70.5h1M108 70.5h1M127 70.5h1M136 70.5h1M140 70.5h1M34 71.5h1M36 71.5h1M40 71.5h1M49 71.5h1M52 71.5h1M55 71.5h1M58 71.5h2M66 71.5h3M70 71.5h1M72 71.5h1M74 71.5h1M78 71.5h2M81 71.5h1M84 71.5h1M87 71.5h1M89 71.5h1M91 71.5h4M98 71.5h2M101 71.5h2M111 71.5h1M115 71.5h1M135 71.5h1M33 72.5h1M35 72.5h1M43 72.5h1M46 72.5h1M49 72.5h1M58 72.5h1M69 72.5h3M73 72.5h1M80 72.5h2M87 72.5h1M91 72.5h1M96 72.5h2M103 72.5h1M110 72.5h1M126 72.5h1M131 72.5h1M31 73.5h1M36 73.5h1M38 73.5h1M43 73.5h1M45 73.5h1M49 73.5h1M52 73.5h1M55 73.5h1M59 73.5h1M62 73.5h1M65 73.5h1M70 73.5h2M73 73.5h2M79 73.5h1M81 73.5h1M84 73.5h3M91 73.5h1M93 73.5h1M100 73.5h1M103 73.5h1M112 73.5h1M114 73.5h1M117 73.5h1M136 73.5h1M142 73.5h1M145 73.5h1M22 74.5h1M36 74.5h1M40 74.5h1M43 74.5h1M45 74.5h1M49 74.5h1M51 74.5h1M54 74.5h2M61 74.5h2M66 74.5h2M77 74.5h2M82 74.5h4M87 74.5h1M89 74.5h1M96 74.5h1M99 74.5h3M103 74.5h1M117 74.5h1M125 74.5h1M133 74.5h1M137 74.5h1M25 75.5h1M41 75.5h2M47 75.5h1M57 75.5h1M59 75.5h1M61 75.5h3M68 75.5h1M70 75.5h1M74 75.5h1M76 75.5h1M78 75.5h1M80 75.5h1M83 75.5h2M89 75.5h3M93 75.5h1M97 75.5h2M110 75.5h1M116 75.5h1M122 75.5h1M127 75.5h1M19 76.5h1M27 76.5h1M44 76.5h2M54 76.5h1M57 76.5h1M62 76.5h3M66 76.5h2M73 76.5h1M77 76.5h1M80 76.5h1M84 76.5h1M97 76.5h2M101 76.5h1M106 76.5h1M123 76.5h1M125 76.5h1M127 76.5h1M132 76.5h1M32 77.5h1M36 77.5h1M38 77.5h1M43 77.5h1M49 77.5h1M52 77.5h1M56 77.5h1M59 77.5h1M63 77.5h3M76 77.5h2M80 77.5h1M82 77.5h2M89 77.5h2M94 77.5h1M96 77.5h1M101 77.5h1M107 77.5h1M119 77.5h1M130 77.5h1M134 77.5h1M141 77.5h1M151 77.5h1M38 78.5h1M41 78.5h1M47 78.5h2M50 78.5h1M53 78.5h2M57 78.5h2M61 78.5h2M65 78.5h1M70 78.5h1M72 78.5h2M75 78.5h1M77 78.5h2M81 78.5h1M86 78.5h2M89 78.5h3M96 78.5h1M104 78.5h1M108 78.5h2M131 78.5h1M134 78.5h1M145 78.5h2M148 78.5h1M167 78.5h1M188 78.5h1M39 79.5h1M47 79.5h2M51 79.5h2M56 79.5h1M58 79.5h2M66 79.5h1M69 79.5h1M74 79.5h2M77 79.5h2M81 79.5h1M84 79.5h1M91 79.5h1M93 79.5h2M96 79.5h2M105 79.5h1M109 79.5h1M112 79.5h1M118 79.5h2M125 79.5h1M139 79.5h1M154 79.5h1M40 80.5h1M42 80.5h1M44 80.5h1M48 80.5h1M55 80.5h1M59 80.5h1M61 80.5h1M64 80.5h2M67 80.5h1M70 80.5h1M76 80.5h2M80 80.5h1M83 80.5h1M88 80.5h4M103 80.5h1M105 80.5h1M111 80.5h1M113 80.5h1M118 80.5h1M121 80.5h1M125 80.5h1M131 80.5h1M140 80.5h1M146 80.5h1M46 81.5h1M52 81.5h1M56 81.5h1M62 81.5h1M64 81.5h1M66 81.5h1M70 81.5h1M72 81.5h4M77 81.5h1M82 81.5h1M84 81.5h1M88 81.5h1M93 81.5h2M97 81.5h1M99 81.5h1M103 81.5h1M105 81.5h1M114 81.5h1M116 81.5h1M149 81.5h1M19 82.5h1M52 82.5h1M57 82.5h2M67 82.5h1M75 82.5h1M78 82.5h1M82 82.5h3M88 82.5h3M93 82.5h2M97 82.5h1M100 82.5h1M108 82.5h1M132 82.5h1M134 82.5h1M140 82.5h1M16 83.5h1M20 83.5h1M23 83.5h1M30 83.5h1M53 83.5h1M58 83.5h2M65 83.5h1M68 83.5h1M70 83.5h2M73 83.5h1M78 83.5h4M88 83.5h1M91 83.5h3M102 83.5h1M123 83.5h2M133 83.5h1M154 83.5h1M30 84.5h1M48 84.5h2M52 84.5h1M56 84.5h1M61 84.5h2M66 84.5h1M68 84.5h1M70 84.5h2M73 84.5h1M75 84.5h3M87 84.5h1M99 84.5h1M112 84.5h1M114 84.5h1M118 84.5h1M122 84.5h1M162 84.5h1M39 85.5h1M53 85.5h1M56 85.5h1M60 85.5h2M67 85.5h1M73 85.5h1M81 85.5h3M85 85.5h1M88 85.5h2M91 85.5h1M98 85.5h1M104 85.5h1M107 85.5h1M110 85.5h1M112 85.5h2M123 85.5h1M126 85.5h1M132 85.5h1M3 86.5h1M9 86.5h1M48 86.5h1M68 86.5h1M70 86.5h1M72 86.5h1M75 86.5h2M80 86.5h3M92 86.5h1M94 86.5h1M98 86.5h1M102 86.5h1M104 86.5h1M106 86.5h1M111 86.5h1M119 86.5h2M136 86.5h1M3 87.5h1M34 87.5h1M36 87.5h1M47 87.5h1M50 87.5h2M53 87.5h1M63 87.5h1M66 87.5h1M76 87.5h1M81 87.5h2M90 87.5h1M95 87.5h1M97 87.5h2M103 87.5h2M106 87.5h1M108 87.5h1M110 87.5h1M127 87.5h1M129 87.5h1M144 87.5h1M147 87.5h1M36 88.5h1M41 88.5h1M49 88.5h1M53 88.5h1M56 88.5h1M60 88.5h1M62 88.5h1M64 88.5h2M68 88.5h1M70 88.5h2M73 88.5h2M76 88.5h1M79 88.5h1M82 88.5h2M85 88.5h1M91 88.5h2M95 88.5h3M99 88.5h5M106 88.5h2M109 88.5h1M112 88.5h1M127 88.5h1M131 88.5h1M133 88.5h1M136 88.5h1M145 88.5h1M16 89.5h1M48 89.5h1M50 89.5h1M69 89.5h2M74 89.5h4M80 89.5h1M82 89.5h2M86 89.5h2M90 89.5h1M94 89.5h1M99 89.5h2M104 89.5h1M119 89.5h1M132 89.5h1M140 89.5h1M21 90.5h1M43 90.5h1M48 90.5h1M51 90.5h1M58 90.5h1M61 90.5h1M67 90.5h1M69 90.5h4M78 90.5h9M88 90.5h1M91 90.5h3M101 90.5h2M106 90.5h2M113 90.5h1M116 90.5h1M118 90.5h1M11 91.5h1M55 91.5h1M60 91.5h1M64 91.5h1M74 91.5h1M77 91.5h1M79 91.5h1M85 91.5h1M87 91.5h2M92 91.5h1M100 91.5h1M107 91.5h2M115 91.5h2M120 91.5h2M132 91.5h1M136 91.5h1M144 91.5h2M38 92.5h1M52 92.5h1M59 92.5h1M63 92.5h1M73 92.5h1M75 92.5h1M84 92.5h1M87 92.5h3M95 92.5h1M97 92.5h1M101 92.5h1M105 92.5h1M114 92.5h1M120 92.5h1M122 92.5h1M126 92.5h3M132 92.5h1M135 92.5h2M142 92.5h1M18 93.5h1M40 93.5h1M43 93.5h1M50 93.5h1M52 93.5h1M67 93.5h1M73 93.5h2M77 93.5h1M80 93.5h1M84 93.5h1M98 93.5h1M111 93.5h2M118 93.5h1M138 93.5h1M144 93.5h1M164 93.5h1M35 94.5h1M40 94.5h1M45 94.5h1M60 94.5h1M63 94.5h2M73 94.5h3M77 94.5h3M82 94.5h1M86 94.5h2M91 94.5h1M93 94.5h1M98 94.5h1M104 94.5h1M112 94.5h1M119 94.5h1M153 94.5h1M58 95.5h1M66 95.5h2M73 95.5h2M76 95.5h1M78 95.5h1M80 95.5h2M83 95.5h1M89 95.5h1M91 95.5h1M93 95.5h1M97 95.5h1M99 95.5h2M103 95.5h1M108 95.5h1M115 95.5h1M124 95.5h2M128 95.5h1M132 95.5h2M135 95.5h1M138 95.5h1M158 95.5h1M162 95.5h1M48 96.5h1M55 96.5h1M60 96.5h1M69 96.5h1M73 96.5h1M80 96.5h1M87 96.5h1M89 96.5h1M93 96.5h1M97 96.5h1M101 96.5h1M103 96.5h1M106 96.5h1M116 96.5h2M119 96.5h1M122 96.5h1M127 96.5h1M130 96.5h1M133 96.5h2M161 96.5h1M31 97.5h1M70 97.5h2M74 97.5h1M84 97.5h1M86 97.5h1M107 97.5h1M109 97.5h1M117 97.5h1M135 97.5h1M137 97.5h1M154 97.5h1M161 97.5h1M165 97.5h1M23 98.5h1M45 98.5h1M67 98.5h1M69 98.5h1M76 98.5h1M85 98.5h1M97 98.5h1M104 98.5h1M110 98.5h1M116 98.5h1M134 98.5h1M140 98.5h1M158 98.5h1M17 99.5h1M67 99.5h1M74 99.5h2M86 99.5h2M91 99.5h1M98 99.5h1M109 99.5h1M119 99.5h1M131 99.5h1M139 99.5h1M145 99.5h1M156 99.5h1M171 99.5h1M23 100.5h1M50 100.5h1M76 100.5h1M82 100.5h2M93 100.5h1M99 100.5h1M123 100.5h1M126 100.5h1M130 100.5h1M141 100.5h1M145 100.5h1M149 100.5h1M167 100.5h1M6 101.5h1M43 101.5h1M60 101.5h1M66 101.5h1M72 101.5h2M79 101.5h1M88 101.5h1M92 101.5h1M94 101.5h1M96 101.5h3M103 101.5h1M109 101.5h1M120 101.5h1M125 101.5h1M129 101.5h1M154 101.5h1M1 102.5h1M41 102.5h1M60 102.5h1M73 102.5h1M75 102.5h1M78 102.5h1M80 102.5h2M85 102.5h2M90 102.5h2M95 102.5h1M101 102.5h1M105 102.5h2M147 102.5h1M149 102.5h1M15 103.5h1M50 103.5h1M53 103.5h1M66 103.5h1M75 103.5h1M88 103.5h1M91 103.5h1M97 103.5h1M107 103.5h1M116 103.5h1M119 103.5h1M125 103.5h1M127 103.5h1M129 103.5h1M155 103.5h1M14 104.5h1M48 104.5h1M73 104.5h1M79 104.5h3M84 104.5h1M90 104.5h1M97 104.5h3M108 104.5h1M130 104.5h1M136 104.5h1M144 104.5h1M170 104.5h1M180 104.5h1M32 105.5h1M61 105.5h1M67 105.5h1M69 105.5h1M72 105.5h1M78 105.5h1M82 105.5h1M85 105.5h1M87 105.5h1M89 105.5h2M105 105.5h2M117 105.5h1M122 105.5h1M124 105.5h1M128 105.5h1M137 105.5h1M142 105.5h1M158 105.5h2M195 105.5h1M8 106.5h1M19 106.5h1M39 106.5h1M78 106.5h1M82 106.5h1M89 106.5h2M93 106.5h1M96 106.5h1M103 106.5h1M119 106.5h1M121 106.5h1M123 106.5h1M128 106.5h1M131 106.5h1M158 106.5h1M166 106.5h1M172 106.5h1M199 106.5h1M4 107.5h2M10 107.5h1M14 107.5h1M66 107.5h1M79 107.5h2M92 107.5h1M101 107.5h1M108 107.5h1M118 107.5h2M123 107.5h2M162 107.5h1M9 108.5h1M50 108.5h2M55 108.5h1M68 108.5h2M76 108.5h1M78 108.5h1M80 108.5h1M96 108.5h1M101 108.5h1M120 108.5h1M138 108.5h1M142 108.5h1M11 109.5h1M32 109.5h1M55 109.5h1M58 109.5h1M68 109.5h1M72 109.5h1M75 109.5h3M86 109.5h1M92 109.5h1M94 109.5h1M131 109.5h2M153 109.5h1M11 110.5h1M25 110.5h1M29 110.5h1M32 110.5h1M63 110.5h1M67 110.5h1M74 110.5h1M92 110.5h1M97 110.5h1M103 110.5h1M113 110.5h1M116 110.5h1M130 110.5h1M134 110.5h1M137 110.5h1M146 110.5h1M159 110.5h1M162 110.5h1M1 111.5h1M7 111.5h1M35 111.5h1M76 111.5h2M89 111.5h1M92 111.5h3M120 111.5h1M125 111.5h1M127 111.5h1M134 111.5h1M136 111.5h1M154 111.5h1M5 112.5h1M19 112.5h1M33 112.5h1M41 112.5h1M62 112.5h1M74 112.5h1M84 112.5h1M91 112.5h1M115 112.5h1M120 112.5h1M124 112.5h1M128 112.5h3M135 112.5h1M138 112.5h1M144 112.5h1M147 112.5h1M149 112.5h1M196 112.5h1M6 113.5h1M21 113.5h1M33 113.5h1M38 113.5h1M61 113.5h1M74 113.5h1M77 113.5h1M93 113.5h3M119 113.5h1M122 113.5h1M127 113.5h1M137 113.5h1M140 113.5h1M142 113.5h1M146 113.5h1M149 113.5h1M151 113.5h1M0 114.5h1M8 114.5h1M11 114.5h1M22 114.5h1M35 114.5h1M43 114.5h1M48 114.5h1M59 114.5h1M62 114.5h1M73 114.5h1M81 114.5h1M92 114.5h1M96 114.5h1M124 114.5h1M127 114.5h1M133 114.5h2M145 114.5h1M2 115.5h1M44 115.5h1M72 115.5h1M74 115.5h1M81 115.5h1M83 115.5h3M101 115.5h1M110 115.5h1M139 115.5h1M169 115.5h1M2 116.5h1M16 116.5h1M42 116.5h1M55 116.5h1M59 116.5h1M69 116.5h1M72 116.5h1M75 116.5h3M79 116.5h1M90 116.5h1M93 116.5h1M102 116.5h1M105 116.5h1M116 116.5h1M122 116.5h2M129 116.5h1M131 116.5h1M153 116.5h1M155 116.5h2M158 116.5h1M167 116.5h1M21 117.5h1M23 117.5h1M25 117.5h1M32 117.5h1M36 117.5h1M42 117.5h1M44 117.5h1M67 117.5h1M89 117.5h1M91 117.5h1M95 117.5h1M100 117.5h1M121 117.5h1M130 117.5h1M140 117.5h1M144 117.5h1M148 117.5h1M150 117.5h1M155 117.5h1M34 118.5h1M67 118.5h1M78 118.5h1M92 118.5h1M108 118.5h1M112 118.5h1M132 118.5h4M141 118.5h1M147 118.5h2M159 118.5h1M165 118.5h1M169 118.5h1M3 119.5h1M21 119.5h1M30 119.5h1M36 119.5h1M43 119.5h1M45 119.5h1M71 119.5h1M83 119.5h1M88 119.5h2M99 119.5h1M107 119.5h1M136 119.5h1M165 119.5h1M49 120.5h1M63 120.5h1M66 120.5h1M70 120.5h2M77 120.5h1M82 120.5h1M90 120.5h1M117 120.5h1M125 120.5h1M129 120.5h1M137 120.5h1M147 120.5h1M155 120.5h1M162 120.5h1M9 121.5h2M16 121.5h1M21 121.5h1M25 121.5h1M42 121.5h1M77 121.5h1M81 121.5h1M91 121.5h2M113 121.5h1M116 121.5h1M125 121.5h1M129 121.5h1M138 121.5h1M144 121.5h1M163 121.5h1M168 121.5h1M2 122.5h1M6 122.5h1M19 122.5h1M22 122.5h1M42 122.5h1M44 122.5h1M51 122.5h1M62 122.5h1M64 122.5h1M69 122.5h1M79 122.5h1M87 122.5h2M95 122.5h1M104 122.5h1M107 122.5h1M114 122.5h1M122 122.5h1M136 122.5h1M142 122.5h1M164 122.5h1M167 122.5h1M45 123.5h1M56 123.5h1M67 123.5h1M82 123.5h1M84 123.5h1M90 123.5h1M92 123.5h2M104 123.5h2M143 123.5h1M145 123.5h1M147 123.5h1M149 123.5h1M161 123.5h1M14 124.5h1M23 124.5h2M52 124.5h1M88 124.5h1M91 124.5h1M93 124.5h1M120 124.5h1M127 124.5h1M129 124.5h1M142 124.5h1M144 124.5h1M153 124.5h1M156 124.5h1M158 124.5h1M161 124.5h1M165 124.5h2M9 125.5h2M25 125.5h1M29 125.5h1M33 125.5h1M35 125.5h1M42 125.5h1M65 125.5h1M78 125.5h2M96 125.5h1M99 125.5h1M109 125.5h1M116 125.5h1M147 125.5h2M150 125.5h1M157 125.5h1M169 125.5h1M3 126.5h1M11 126.5h1M17 126.5h1M22 126.5h1M32 126.5h1M42 126.5h1M47 126.5h1M50 126.5h1M54 126.5h1M57 126.5h1M73 126.5h1M90 126.5h1M109 126.5h1M113 126.5h2M128 126.5h1M147 126.5h1M159 126.5h1M16 127.5h1M23 127.5h1M28 127.5h1M39 127.5h1M60 127.5h1M63 127.5h1M82 127.5h1M92 127.5h1M96 127.5h1M113 127.5h1M115 127.5h1M119 127.5h1M123 127.5h2M128 127.5h1M131 127.5h1M138 127.5h1M142 127.5h2M149 127.5h1M153 127.5h1M156 127.5h1M186 127.5h1M1 128.5h1M22 128.5h1M29 128.5h1M44 128.5h1M48 128.5h1M57 128.5h1M80 128.5h1M86 128.5h1M106 128.5h1M117 128.5h2M125 128.5h1M131 128.5h4M142 128.5h1M145 128.5h2M156 128.5h1M18 129.5h1M23 129.5h1M57 129.5h2M62 129.5h1M94 129.5h1M109 129.5h1M111 129.5h1M116 129.5h1M120 129.5h1M131 129.5h1M137 129.5h1M179 129.5h1M187 129.5h1M15 130.5h1M18 130.5h1M25 130.5h1M49 130.5h1M51 130.5h2M57 130.5h1M82 130.5h1M84 130.5h1M107 130.5h1M122 130.5h1M126 130.5h1M131 130.5h1M136 130.5h1M159 130.5h1M164 130.5h1M167 130.5h1M6 131.5h1M8 131.5h1M13 131.5h1M22 131.5h1M32 131.5h1M47 131.5h2M55 131.5h1M67 131.5h1M70 131.5h1M79 131.5h1M82 131.5h1M95 131.5h1M97 131.5h1M103 131.5h1M106 131.5h1M113 131.5h1M120 131.5h1M128 131.5h1M132 131.5h1M137 131.5h1M145 131.5h1M147 131.5h2M173 131.5h1M2 132.5h1M6 132.5h1M14 132.5h1M21 132.5h1M34 132.5h1M48 132.5h1M63 132.5h1M93 132.5h1M111 132.5h1M116 132.5h2M123 132.5h2M130 132.5h1M132 132.5h1M144 132.5h1M149 132.5h3M189 132.5h1M195 132.5h1M7 133.5h1M27 133.5h1M33 133.5h1M50 133.5h1M52 133.5h1M68 133.5h1M85 133.5h1M89 133.5h1M117 133.5h2M120 133.5h2M130 133.5h1M133 133.5h1M140 133.5h1M150 133.5h1M156 133.5h1M185 133.5h1M18 134.5h1M24 134.5h1M34 134.5h1M37 134.5h1M48 134.5h1M63 134.5h1M69 134.5h1M79 134.5h1M83 134.5h1M95 134.5h1M121 134.5h1M134 134.5h1M141 134.5h1M144 134.5h1M159 134.5h1M26 135.5h1M28 135.5h2M44 135.5h1M59 135.5h1M83 135.5h1M87 135.5h1M94 135.5h1M98 135.5h1M105 135.5h1M107 135.5h1M116 135.5h1M121 135.5h2M128 135.5h1M131 135.5h1M133 135.5h1M135 135.5h1M146 135.5h1M148 135.5h1M151 135.5h1M153 135.5h1M155 135.5h1M161 135.5h2M170 135.5h1M17 136.5h1M19 136.5h1M30 136.5h2M42 136.5h1M58 136.5h1M63 136.5h1M66 136.5h1M71 136.5h1M90 136.5h1M94 136.5h1M103 136.5h2M110 136.5h1M122 136.5h1M125 136.5h1M129 136.5h1M136 136.5h2M144 136.5h1M150 136.5h1M161 136.5h2M12 137.5h1M31 137.5h1M38 137.5h1M68 137.5h1M74 137.5h1M81 137.5h1M84 137.5h1M118 137.5h1M136 137.5h1M142 137.5h1M146 137.5h2M152 137.5h1M158 137.5h1M161 137.5h1M10 138.5h1M44 138.5h1M71 138.5h1M85 138.5h3M91 138.5h2M98 138.5h1M100 138.5h1M113 138.5h1M121 138.5h1M125 138.5h1M129 138.5h1M133 138.5h1M135 138.5h1M137 138.5h2M141 138.5h1M144 138.5h1M149 138.5h1M154 138.5h1M161 138.5h1M164 138.5h1M170 138.5h1M3 139.5h1M6 139.5h1M20 139.5h1M22 139.5h1M33 139.5h1M40 139.5h1M45 139.5h1M49 139.5h1M79 139.5h1M87 139.5h1M94 139.5h1M96 139.5h1M99 139.5h1M107 139.5h1M122 139.5h1M128 139.5h1M131 139.5h1M146 139.5h1M148 139.5h1M152 139.5h1M154 139.5h1M157 139.5h2M173 139.5h1M29 140.5h1M31 140.5h2M38 140.5h2M47 140.5h1M77 140.5h1M80 140.5h1M87 140.5h1M96 140.5h1M112 140.5h1M118 140.5h1M123 140.5h1M126 140.5h1M132 140.5h1M140 140.5h1M142 140.5h1M144 140.5h1M150 140.5h1M162 140.5h2M15 141.5h1M25 141.5h1M32 141.5h2M41 141.5h1M49 141.5h1M62 141.5h1M67 141.5h1M71 141.5h1M78 141.5h1M85 141.5h1M95 141.5h1M109 141.5h1M115 141.5h2M118 141.5h1M127 141.5h2M145 141.5h1M147 141.5h1M149 141.5h1M151 141.5h2M155 141.5h1M157 141.5h1M160 141.5h2M165 141.5h1M7 142.5h1M20 142.5h1M23 142.5h1M25 142.5h1M29 142.5h1M57 142.5h1M63 142.5h1M72 142.5h2M83 142.5h1M91 142.5h1M93 142.5h1M117 142.5h1M124 142.5h1M126 142.5h1M137 142.5h1M142 142.5h1M147 142.5h1M150 142.5h1M153 142.5h1M155 142.5h1M162 142.5h1M165 142.5h2M168 142.5h2M175 142.5h1M13 143.5h1M21 143.5h1M26 143.5h1M30 143.5h1M49 143.5h1M53 143.5h1M76 143.5h1M120 143.5h1M133 143.5h1M138 143.5h1M140 143.5h1M145 143.5h1M153 143.5h1M156 143.5h1M2 144.5h1M8 144.5h1M13 144.5h1M22 144.5h1M31 144.5h1M45 144.5h1M61 144.5h1M65 144.5h2M122 144.5h1M127 144.5h1M131 144.5h1M140 144.5h1M156 144.5h1M159 144.5h1M171 144.5h1M16 145.5h1M19 145.5h1M36 145.5h1M44 145.5h1M49 145.5h2M80 145.5h1M82 145.5h2M88 145.5h1M92 145.5h1M95 145.5h1M116 145.5h1M123 145.5h1M127 145.5h1M133 145.5h1M146 145.5h2M149 145.5h1M151 145.5h1M165 145.5h1M2 146.5h1M11 146.5h1M37 146.5h1M53 146.5h1M85 146.5h1M89 146.5h1M96 146.5h1M99 146.5h1M108 146.5h1M119 146.5h2M124 146.5h2M127 146.5h1M134 146.5h1M137 146.5h1M143 146.5h1M147 146.5h1M151 146.5h2M155 146.5h1M163 146.5h2M166 146.5h2M174 146.5h1M7 147.5h2M22 147.5h1M35 147.5h1M46 147.5h1M86 147.5h1M103 147.5h1M124 147.5h1M127 147.5h2M130 147.5h1M135 147.5h1M148 147.5h1M150 147.5h1M153 147.5h1M155 147.5h1M36 148.5h1M52 148.5h1M66 148.5h1M82 148.5h1M86 148.5h1M89 148.5h1M98 148.5h1M112 148.5h1M134 148.5h1M140 148.5h1M144 148.5h1M160 148.5h1M168 148.5h2M0 149.5h1M14 149.5h1M28 149.5h1M42 149.5h1M49 149.5h1M65 149.5h1M100 149.5h1M103 149.5h1M117 149.5h1M123 149.5h2M134 149.5h2M138 149.5h2M147 149.5h1M151 149.5h1M157 149.5h3M168 149.5h2M171 149.5h1M6 150.5h1M17 150.5h1M33 150.5h1M72 150.5h1M86 150.5h1M94 150.5h1M116 150.5h1M122 150.5h3M126 150.5h1M128 150.5h1M134 150.5h1M137 150.5h1M140 150.5h2M143 150.5h1M145 150.5h3M154 150.5h1M159 150.5h2M165 150.5h1M167 150.5h1M174 150.5h1M178 150.5h1M2 151.5h1M9 151.5h1M38 151.5h1M45 151.5h1M58 151.5h1M80 151.5h1M83 151.5h1M86 151.5h1M91 151.5h1M122 151.5h1M125 151.5h3M130 151.5h1M132 151.5h1M135 151.5h2M142 151.5h1M145 151.5h1M154 151.5h1M159 151.5h1M164 151.5h2M169 151.5h1M2 152.5h1M44 152.5h1M60 152.5h1M72 152.5h1M82 152.5h1M91 152.5h1M100 152.5h1M109 152.5h1M125 152.5h1M134 152.5h2M140 152.5h1M144 152.5h2M152 152.5h1M157 152.5h1M159 152.5h2M174 152.5h1M185 152.5h1M189 152.5h1M3 153.5h3M19 153.5h1M27 153.5h1M36 153.5h1M61 153.5h1M91 153.5h1M115 153.5h1M126 153.5h1M130 153.5h1M136 153.5h1M139 153.5h1M143 153.5h1M149 153.5h2M154 153.5h1M157 153.5h1M164 153.5h1M172 153.5h2M10 154.5h1M29 154.5h1M42 154.5h1M92 154.5h1M94 154.5h1M99 154.5h1M102 154.5h1M105 154.5h2M125 154.5h1M129 154.5h2M137 154.5h1M139 154.5h1M141 154.5h1M143 154.5h1M146 154.5h2M149 154.5h2M167 154.5h1M15 155.5h1M46 155.5h1M51 155.5h1M61 155.5h1M90 155.5h1M130 155.5h1M137 155.5h2M151 155.5h1M154 155.5h2M161 155.5h1M167 155.5h1M188 155.5h1M3 156.5h1M83 156.5h1M89 156.5h1M92 156.5h1M107 156.5h2M112 156.5h1M140 156.5h1M142 156.5h1M145 156.5h1M154 156.5h1M156 156.5h1M158 156.5h4M165 156.5h1M169 156.5h1M171 156.5h1M14 157.5h1M45 157.5h1M50 157.5h1M63 157.5h1M95 157.5h1M102 157.5h1M107 157.5h1M110 157.5h1M119 157.5h1M128 157.5h1M132 157.5h1M134 157.5h1M143 157.5h1M148 157.5h1M152 157.5h2M156 157.5h1M163 157.5h1M16 158.5h1M47 158.5h1M57 158.5h1M81 158.5h1M84 158.5h1M95 158.5h1M111 158.5h2M115 158.5h1M118 158.5h1M122 158.5h1M124 158.5h1M128 158.5h1M132 158.5h1M144 158.5h1M146 158.5h1M170 158.5h1M172 158.5h1M176 158.5h1M29 159.5h1M36 159.5h1M79 159.5h1M100 159.5h1M114 159.5h1M116 159.5h1M122 159.5h1M124 159.5h1M136 159.5h1M138 159.5h1M145 159.5h1M148 159.5h1M151 159.5h1M153 159.5h2M163 159.5h1M166 159.5h1M168 159.5h1M79 160.5h1M85 160.5h1M103 160.5h1M116 160.5h1M128 160.5h1M133 160.5h1M142 160.5h1M147 160.5h1M151 160.5h1M154 160.5h1M157 160.5h2M190 160.5h1M11 161.5h2M29 161.5h1M37 161.5h1M42 161.5h1M57 161.5h1M60 161.5h1M70 161.5h1M79 161.5h2M98 161.5h1M105 161.5h1M126 161.5h3M135 161.5h2M140 161.5h1M148 161.5h1M154 161.5h1M156 161.5h1M158 161.5h1M161 161.5h1M164 161.5h1M9 162.5h1M19 162.5h1M47 162.5h1M78 162.5h1M89 162.5h1M91 162.5h1M95 162.5h1M102 162.5h2M115 162.5h1M119 162.5h1M126 162.5h2M130 162.5h1M136 162.5h1M138 162.5h2M142 162.5h1M145 162.5h1M150 162.5h1M152 162.5h1M156 162.5h1M167 162.5h2M4 163.5h1M45 163.5h1M49 163.5h1M88 163.5h2M101 163.5h1M123 163.5h1M138 163.5h3M145 163.5h1M150 163.5h1M153 163.5h2M158 163.5h1M161 163.5h2M167 163.5h1M173 163.5h1M1 164.5h1M3 164.5h1M5 164.5h1M30 164.5h1M34 164.5h1M44 164.5h1M65 164.5h1M89 164.5h1M95 164.5h1M107 164.5h1M114 164.5h1M117 164.5h1M125 164.5h1M128 164.5h2M133 164.5h1M135 164.5h1M138 164.5h2M144 164.5h1M147 164.5h1M149 164.5h1M155 164.5h1M158 164.5h1M160 164.5h1M167 164.5h2M172 164.5h1M178 164.5h1M0 165.5h1M3 165.5h1M5 165.5h1M33 165.5h1M41 165.5h1M118 165.5h2M123 165.5h1M134 165.5h1M143 165.5h1M145 165.5h1M148 165.5h2M152 165.5h2M155 165.5h1M163 165.5h1M169 165.5h1M174 165.5h1M177 165.5h1M44 166.5h1M57 166.5h1M116 166.5h1M128 166.5h1M131 166.5h1M133 166.5h2M136 166.5h1M139 166.5h1M141 166.5h1M144 166.5h1M147 166.5h1M151 166.5h1M153 166.5h2M157 166.5h2M161 166.5h1M168 166.5h1M170 166.5h1M172 166.5h1M9 167.5h1M11 167.5h1M20 167.5h1M37 167.5h1M45 167.5h1M92 167.5h1M115 167.5h1M127 167.5h1M130 167.5h1M133 167.5h1M138 167.5h1M143 167.5h1M146 167.5h1M148 167.5h1M153 167.5h1M155 167.5h2M164 167.5h1M173 167.5h1M9 168.5h1M89 168.5h1M98 168.5h1M104 168.5h1M123 168.5h1M134 168.5h2M137 168.5h1M139 168.5h1M144 168.5h4M149 168.5h3M157 168.5h1M167 168.5h1M172 168.5h1M174 168.5h1M179 168.5h1M10 169.5h1M26 169.5h1M42 169.5h1M116 169.5h1M124 169.5h1M129 169.5h1M135 169.5h1M137 169.5h1M143 169.5h1M149 169.5h3M156 169.5h1M159 169.5h1M185 169.5h1M52 170.5h1M68 170.5h1M77 170.5h1M80 170.5h1M93 170.5h1M96 170.5h2M104 170.5h1M116 170.5h1M119 170.5h1M126 170.5h1M128 170.5h1M138 170.5h1M142 170.5h2M151 170.5h1M153 170.5h3M160 170.5h1M162 170.5h2M169 170.5h1M172 170.5h1M180 170.5h2M194 170.5h1M63 171.5h1M87 171.5h1M102 171.5h1M119 171.5h1M124 171.5h1M126 171.5h1M133 171.5h1M135 171.5h2M138 171.5h2M144 171.5h1M150 171.5h1M155 171.5h1M172 171.5h1M52 172.5h1M71 172.5h1M86 172.5h1M96 172.5h1M127 172.5h3M132 172.5h2M135 172.5h3M140 172.5h1M142 172.5h1M148 172.5h2M157 172.5h1M159 172.5h1M168 172.5h1M171 172.5h1M174 172.5h1M177 172.5h1M88 173.5h1M116 173.5h2M119 173.5h1M121 173.5h2M132 173.5h1M134 173.5h1M137 173.5h1M140 173.5h1M142 173.5h1M147 173.5h1M154 173.5h1M156 173.5h1M161 173.5h5M66 174.5h1M70 174.5h1M75 174.5h1M77 174.5h1M94 174.5h1M104 174.5h1M113 174.5h1M124 174.5h1M134 174.5h1M136 174.5h1M139 174.5h1M145 174.5h1M155 174.5h1M157 174.5h4M164 174.5h1M168 174.5h2M172 174.5h1M8 175.5h1M10 175.5h1M35 175.5h1M50 175.5h1M94 175.5h1M100 175.5h1M104 175.5h1M116 175.5h1M120 175.5h1M122 175.5h1M135 175.5h1M137 175.5h1M144 175.5h1M148 175.5h1M156 175.5h1M158 175.5h1M169 175.5h1M171 175.5h1M3 176.5h1M30 176.5h1M79 176.5h1M89 176.5h1M109 176.5h1M131 176.5h1M141 176.5h2M145 176.5h1M148 176.5h2M151 176.5h1M154 176.5h1M158 176.5h1M160 176.5h3M172 176.5h1M185 176.5h1M46 177.5h1M116 177.5h1M126 177.5h1M128 177.5h1M130 177.5h1M135 177.5h1M137 177.5h1M142 177.5h2M150 177.5h2M155 177.5h1M157 177.5h1M159 177.5h1M164 177.5h1M168 177.5h1M170 177.5h1M176 177.5h1M178 177.5h1M3 178.5h1M70 178.5h1M100 178.5h1M124 178.5h1M137 178.5h1M140 178.5h1M145 178.5h1M147 178.5h1M151 178.5h1M155 178.5h1M170 178.5h2M178 178.5h1M9 179.5h1M96 179.5h1M109 179.5h1M122 179.5h1M136 179.5h1M138 179.5h1M148 179.5h1M155 179.5h1M161 179.5h2M171 179.5h2M3 180.5h1M16 180.5h1M48 180.5h1M108 180.5h1M113 180.5h1M130 180.5h1M134 180.5h1M142 180.5h1M147 180.5h1M149 180.5h1M157 180.5h1M173 180.5h1M179 180.5h1M67 181.5h1M92 181.5h1M120 181.5h1M125 181.5h1M134 181.5h1M136 181.5h2M140 181.5h1M143 181.5h2M149 181.5h3M153 181.5h2M157 181.5h1M176 181.5h1M188 181.5h1M95 182.5h1M110 182.5h1M130 182.5h1M134 182.5h1M143 182.5h1M147 182.5h1M149 182.5h1M159 182.5h3M165 182.5h1M169 182.5h1M173 182.5h1M175 182.5h1M99 183.5h1M108 183.5h1M121 183.5h1M126 183.5h2M132 183.5h1M136 183.5h1M140 183.5h2M145 183.5h1M154 183.5h1M156 183.5h1M160 183.5h1M162 183.5h2M177 183.5h1M61 184.5h1M74 184.5h1M76 184.5h1M95 184.5h1M97 184.5h1M107 184.5h1M111 184.5h1M123 184.5h2M132 184.5h1M137 184.5h1M139 184.5h1M141 184.5h1M149 184.5h1M153 184.5h1M156 184.5h1M182 184.5h1M187 184.5h1M48 185.5h1M114 185.5h1M117 185.5h1M136 185.5h1M140 185.5h1M143 185.5h1M146 185.5h2M153 185.5h2M157 185.5h1M159 185.5h1M165 185.5h1M79 186.5h1M91 186.5h1M95 186.5h1M102 186.5h1M107 186.5h1M130 186.5h1M146 186.5h1M152 186.5h1M158 186.5h1M176 186.5h1M30 187.5h1M65 187.5h1M83 187.5h1M88 187.5h1M94 187.5h1M101 187.5h1M113 187.5h1M131 187.5h3M136 187.5h1M141 187.5h1M143 187.5h2M148 187.5h1M162 187.5h1M168 187.5h1M185 187.5h1M119 188.5h1M124 188.5h1M131 188.5h1M143 188.5h1M150 188.5h1M153 188.5h1M157 188.5h2M162 188.5h1M170 188.5h1M126 189.5h1M141 189.5h1M145 189.5h1M152 189.5h1M172 189.5h1M176 189.5h1M32 190.5h1M133 190.5h1M144 190.5h1M147 190.5h2M151 190.5h1M156 190.5h1M159 190.5h1M165 190.5h1M167 190.5h1M103 191.5h1M110 191.5h1M126 191.5h1M131 191.5h1M138 191.5h1M144 191.5h1M146 191.5h2M153 191.5h1M155 191.5h1M163 191.5h1M168 191.5h1M173 191.5h1M20 192.5h1M82 192.5h1M104 192.5h1M140 192.5h1M142 192.5h1M155 192.5h1M158 192.5h1M162 192.5h1M56 193.5h1M118 193.5h1M130 193.5h1M146 193.5h1M148 193.5h1M154 193.5h2M158 193.5h1M160 193.5h1M162 193.5h1M122 194.5h1M147 194.5h1M152 194.5h1M154 194.5h2M162 194.5h1M169 194.5h1M109 195.5h1M125 195.5h1M137 195.5h1M157 195.5h1M71 196.5h1M104 196.5h1M144 196.5h1M146 196.5h1M149 196.5h2M153 196.5h1M158 196.5h1M144 197.5h1M154 197.5h2M158 197.5h1M165 197.5h1M114 198.5h1M128 198.5h1M131 198.5h2M135 198.5h1M147 198.5h1M149 198.5h1M171 198.5h2M132 199.5h1M146 199.5h1M153 199.5h1M155 199.5h1M159 199.5h1M162 199.5h1M177 199.5h1M136 200.5h1M144 200.5h1M156 200.5h1M159 200.5h1M162 200.5h1M172 200.5h1M126 201.5h1M129 201.5h1M145 201.5h1M111 202.5h1M150 203.5h1M158 204.5h1M126 205.5h1M138 205.5h1M181 205.5h1M108 206.5h1M138 206.5h1M114 207.5h1M153 207.5h1M165 208.5h2M157 209.5h1M145 210.5h1M162 210.5h1M32 211.5h1M122 212.5h1M95 214.5h1M107 215.5h1M143 215.5h1M177 215.5h1M96 216.5h1M161 216.5h1M145 217.5h1M162 221.5h1M158 223.5h1M153 224.5h1M125 235.5h1"/><path stroke="#00ff00" d="M40 1.5h1M49 2.5h1M39 3.5h1M56 3.5h2M27 4.5h1M30 4.5h1M14 6.5h1M27 6.5h1M43 7.5h1M59 8.5h1M23 9.5h1M29 9.5h1M22 10.5h1M52 10.5h1M1 11.5h1M32 11.5h1M11 12.5h1M20 12.5h1M37 12.5h1M57 12.5h1M5 13.5h1M27 13.5h1M36 13.5h1M61 13.5h1M20 14.5h1M28 14.5h1M53 14.5h1M44 15.5h1M61 15.5h1M66 15.5h1M4 16.5h1M17 16.5h1M31 16.5h1M41 16.5h1M51 16.5h1M2 17.5h1M4 17.5h1M27 17.5h1M29 17.5h1M31 17.5h2M35 17.5h1M37 17.5h1M44 17.5h1M48 17.5h1M52 17.5h1M65 17.5h1M22 18.5h1M34 18.5h3M49 18.5h1M58 18.5h1M63 18.5h1M70 18.5h1M76 18.5h1M10 19.5h1M18 19.5h1M20 19.5h1M23 19.5h1M28 19.5h1M32 19.5h1M49 19.5h1M51 19.5h1M57 19.5h1M59 19.5h1M70 19.5h1M22 20.5h1M25 20.5h1M28 20.5h1M38 20.5h1M43 20.5h1M52 20.5h2M63 20.5h2M19 21.5h1M25 21.5h1M29 21.5h1M43 21.5h2M51 21.5h1M13 22.5h1M16 22.5h1M23 22.5h2M30 22.5h2M34 22.5h1M36 22.5h1M42 22.5h1M44 22.5h1M47 22.5h2M50 22.5h1M62 22.5h1M72 22.5h1M16 23.5h1M22 23.5h1M28 23.5h3M33 23.5h1M37 23.5h1M41 23.5h2M48 23.5h1M55 23.5h1M68 23.5h1M71 23.5h1M73 23.5h1M10 24.5h1M19 24.5h1M35 24.5h1M37 24.5h1M40 24.5h1M42 24.5h1M45 24.5h1M58 24.5h1M76 24.5h1M78 24.5h1M88 24.5h1M11 25.5h1M23 25.5h2M27 25.5h1M32 25.5h1M38 25.5h1M40 25.5h1M44 25.5h1M59 25.5h1M62 25.5h2M66 25.5h1M8 26.5h1M20 26.5h1M28 26.5h1M31 26.5h1M33 26.5h1M35 26.5h2M40 26.5h1M52 26.5h1M55 26.5h1M61 26.5h1M64 26.5h2M68 26.5h2M84 26.5h1M13 27.5h1M24 27.5h1M32 27.5h1M42 27.5h1M45 27.5h1M51 27.5h1M54 27.5h2M57 27.5h1M69 27.5h2M81 27.5h1M24 28.5h1M26 28.5h2M31 28.5h2M37 28.5h1M46 28.5h2M49 28.5h1M53 28.5h1M56 28.5h1M59 28.5h2M62 28.5h1M74 28.5h2M1 29.5h1M8 29.5h1M11 29.5h1M16 29.5h1M19 29.5h1M25 29.5h1M27 29.5h2M30 29.5h1M32 29.5h1M36 29.5h1M50 29.5h2M56 29.5h2M59 29.5h1M62 29.5h2M67 29.5h1M73 29.5h1M16 30.5h1M21 30.5h1M27 30.5h1M33 30.5h2M42 30.5h3M47 30.5h4M55 30.5h1M59 30.5h1M62 30.5h1M64 30.5h1M74 30.5h1M90 30.5h1M6 31.5h1M10 31.5h2M15 31.5h1M20 31.5h1M22 31.5h1M30 31.5h1M37 31.5h1M41 31.5h2M46 31.5h1M49 31.5h2M59 31.5h2M68 31.5h1M11 32.5h1M13 32.5h1M16 32.5h1M35 32.5h1M42 32.5h1M44 32.5h1M46 32.5h1M53 32.5h3M62 32.5h1M64 32.5h2M76 32.5h2M96 32.5h1M18 33.5h1M24 33.5h1M34 33.5h1M38 33.5h2M42 33.5h1M44 33.5h2M49 33.5h2M60 33.5h1M64 33.5h1M79 33.5h1M17 34.5h1M21 34.5h1M28 34.5h1M33 34.5h1M37 34.5h1M40 34.5h1M45 34.5h1M47 34.5h3M51 34.5h1M53 34.5h1M62 34.5h1M67 34.5h1M75 34.5h1M84 34.5h1M92 34.5h1M17 35.5h2M25 35.5h1M28 35.5h1M30 35.5h1M33 35.5h2M39 35.5h1M42 35.5h2M54 35.5h1M56 35.5h1M60 35.5h1M70 35.5h1M72 35.5h1M82 35.5h1M9 36.5h1M33 36.5h2M49 36.5h2M52 36.5h2M56 36.5h1M67 36.5h1M75 36.5h1M80 36.5h1M84 36.5h1M89 36.5h1M13 37.5h2M16 37.5h3M22 37.5h1M24 37.5h1M26 37.5h2M29 37.5h2M32 37.5h1M35 37.5h2M39 37.5h1M43 37.5h2M51 37.5h1M54 37.5h1M60 37.5h1M65 37.5h1M70 37.5h1M76 37.5h1M13 38.5h2M20 38.5h1M22 38.5h3M26 38.5h1M39 38.5h1M41 38.5h2M46 38.5h1M49 38.5h1M51 38.5h2M56 38.5h1M64 38.5h1M67 38.5h1M78 38.5h2M9 39.5h1M12 39.5h1M22 39.5h1M29 39.5h1M31 39.5h1M37 39.5h1M45 39.5h1M48 39.5h1M50 39.5h1M54 39.5h1M61 39.5h1M64 39.5h1M75 39.5h1M85 39.5h2M11 40.5h1M13 40.5h1M21 40.5h2M25 40.5h1M33 40.5h1M36 40.5h1M40 40.5h1M45 40.5h1M58 40.5h1M62 40.5h1M68 40.5h1M72 40.5h1M81 40.5h1M11 41.5h1M13 41.5h2M17 41.5h1M19 41.5h1M28 41.5h1M33 41.5h1M36 41.5h2M40 41.5h1M42 41.5h1M52 41.5h1M57 41.5h2M67 41.5h1M70 41.5h1M81 41.5h2M88 41.5h2M17 42.5h1M22 42.5h1M32 42.5h1M35 42.5h2M38 42.5h1M43 42.5h2M52 42.5h1M54 42.5h1M56 42.5h4M64 42.5h1M71 42.5h1M80 42.5h1M84 42.5h1M88 42.5h1M6 43.5h1M11 43.5h1M20 43.5h1M22 43.5h2M28 43.5h2M31 43.5h2M34 43.5h2M39 43.5h2M42 43.5h1M48 43.5h1M54 43.5h1M60 43.5h1M62 43.5h2M68 43.5h2M75 43.5h1M77 43.5h1M82 43.5h1M99 43.5h1M11 44.5h1M18 44.5h2M29 44.5h1M33 44.5h1M36 44.5h2M40 44.5h1M43 44.5h1M47 44.5h1M52 44.5h1M62 44.5h2M75 44.5h1M82 44.5h1M90 44.5h1M95 44.5h1M101 44.5h1M16 45.5h1M19 45.5h1M22 45.5h1M24 45.5h1M27 45.5h1M29 45.5h2M32 45.5h1M34 45.5h1M37 45.5h2M45 45.5h1M47 45.5h1M65 45.5h2M71 45.5h1M76 45.5h1M79 45.5h1M81 45.5h1M25 46.5h2M28 46.5h3M32 46.5h2M36 46.5h1M38 46.5h1M42 46.5h1M47 46.5h1M49 46.5h1M55 46.5h2M64 46.5h3M74 46.5h1M79 46.5h1M89 46.5h2M95 46.5h1M18 47.5h1M22 47.5h2M26 47.5h2M30 47.5h1M34 47.5h2M38 47.5h1M40 47.5h2M44 47.5h1M48 47.5h1M50 47.5h1M60 47.5h1M62 47.5h1M65 47.5h1M67 47.5h1M71 47.5h1M73 47.5h1M77 47.5h2M81 47.5h3M16 48.5h1M22 48.5h1M25 48.5h1M28 48.5h2M46 48.5h1M48 48.5h1M50 48.5h2M59 48.5h1M61 48.5h1M64 48.5h2M71 48.5h1M73 48.5h1M75 48.5h1M79 48.5h1M93 48.5h1M15 49.5h1M20 49.5h1M23 49.5h1M26 49.5h1M36 49.5h1M38 49.5h1M45 49.5h1M47 49.5h1M52 49.5h1M56 49.5h2M65 49.5h2M68 49.5h1M70 49.5h2M77 49.5h1M79 49.5h1M84 49.5h1M21 50.5h1M25 50.5h1M27 50.5h1M36 50.5h1M43 50.5h1M45 50.5h1M50 50.5h3M54 50.5h1M56 50.5h1M62 50.5h1M68 50.5h2M71 50.5h1M75 50.5h1M80 50.5h1M94 50.5h1M20 51.5h1M27 51.5h1M29 51.5h1M41 51.5h3M46 51.5h1M48 51.5h1M51 51.5h1M56 51.5h1M59 51.5h1M61 51.5h1M66 51.5h1M68 51.5h1M71 51.5h3M81 51.5h1M83 51.5h1M27 52.5h2M32 52.5h1M39 52.5h1M43 52.5h1M46 52.5h2M49 52.5h1M52 52.5h1M54 52.5h2M58 52.5h1M63 52.5h5M71 52.5h1M83 52.5h1M88 52.5h1M103 52.5h1M23 53.5h1M25 53.5h1M27 53.5h1M29 53.5h3M43 53.5h1M48 53.5h2M55 53.5h1M58 53.5h1M64 53.5h1M69 53.5h2M82 53.5h1M87 53.5h1M96 53.5h1M109 53.5h1M19 54.5h1M28 54.5h1M31 54.5h1M35 54.5h2M41 54.5h1M48 54.5h1M55 54.5h3M64 54.5h1M69 54.5h1M74 54.5h1M78 54.5h1M81 54.5h1M17 55.5h1M21 55.5h1M25 55.5h2M29 55.5h1M31 55.5h1M37 55.5h2M40 55.5h1M46 55.5h1M54 55.5h2M66 55.5h1M68 55.5h1M73 55.5h2M76 55.5h1M78 55.5h1M80 55.5h1M90 55.5h1M98 55.5h1M30 56.5h1M34 56.5h1M43 56.5h1M48 56.5h1M52 56.5h2M58 56.5h1M69 56.5h1M71 56.5h1M75 56.5h1M83 56.5h1M85 56.5h1M101 56.5h1M26 57.5h1M37 57.5h3M50 57.5h1M54 57.5h2M58 57.5h1M81 57.5h1M83 57.5h1M94 57.5h1M26 58.5h2M37 58.5h1M47 58.5h2M54 58.5h1M56 58.5h1M65 58.5h2M69 58.5h1M71 58.5h1M78 58.5h1M81 58.5h1M102 58.5h1M27 59.5h1M31 59.5h1M38 59.5h1M44 59.5h2M47 59.5h1M51 59.5h2M56 59.5h1M59 59.5h1M62 59.5h1M68 59.5h2M75 59.5h1M77 59.5h2M81 59.5h1M89 59.5h3M27 60.5h1M38 60.5h2M43 60.5h1M48 60.5h1M55 60.5h1M67 60.5h1M71 60.5h1M75 60.5h1M83 60.5h1M97 60.5h1M99 60.5h1M105 60.5h1M114 60.5h1M25 61.5h1M33 61.5h3M45 61.5h1M49 61.5h1M53 61.5h2M58 61.5h1M61 61.5h1M64 61.5h1M75 61.5h1M77 61.5h2M81 61.5h1M87 61.5h1M94 61.5h1M97 61.5h1M36 62.5h2M41 62.5h1M44 62.5h1M48 62.5h1M53 62.5h1M55 62.5h1M59 62.5h1M62 62.5h1M65 62.5h1M73 62.5h1M78 62.5h2M82 62.5h1M85 62.5h1M31 63.5h2M38 63.5h1M44 63.5h2M56 63.5h1M58 63.5h1M65 63.5h1M70 63.5h1M73 63.5h1M83 63.5h1M85 63.5h1M90 63.5h2M28 64.5h1M34 64.5h1M37 64.5h1M42 64.5h3M46 64.5h2M67 64.5h1M74 64.5h2M79 64.5h1M86 64.5h1M95 64.5h2M100 64.5h1M33 65.5h1M38 65.5h1M43 65.5h2M49 65.5h1M62 65.5h1M64 65.5h1M69 65.5h6M78 65.5h1M96 65.5h2M106 65.5h1M28 66.5h1M31 66.5h1M34 66.5h1M36 66.5h2M39 66.5h1M52 66.5h1M56 66.5h1M63 66.5h1M68 66.5h1M71 66.5h1M76 66.5h1M86 66.5h1M90 66.5h1M104 66.5h1M39 67.5h3M43 67.5h1M45 67.5h2M52 67.5h4M64 67.5h1M67 67.5h1M69 67.5h1M81 67.5h1M88 67.5h2M91 67.5h1M100 67.5h1M44 68.5h3M50 68.5h1M52 68.5h2M62 68.5h1M67 68.5h1M71 68.5h1M81 68.5h1M83 68.5h2M90 68.5h1M92 68.5h2M98 68.5h1M103 68.5h1M39 69.5h1M41 69.5h2M48 69.5h1M55 69.5h1M57 69.5h2M64 69.5h1M68 69.5h2M73 69.5h1M76 69.5h2M82 69.5h1M84 69.5h2M89 69.5h1M170 69.5h1M37 70.5h1M41 70.5h1M49 70.5h1M53 70.5h1M61 70.5h1M64 70.5h1M73 70.5h2M78 70.5h2M84 70.5h1M87 70.5h1M94 70.5h1M104 70.5h1M120 70.5h1M43 71.5h1M46 71.5h2M50 71.5h1M60 71.5h1M62 71.5h2M80 71.5h1M82 71.5h2M88 71.5h1M38 72.5h1M45 72.5h1M48 72.5h1M60 72.5h1M62 72.5h1M65 72.5h1M74 72.5h1M77 72.5h3M82 72.5h1M90 72.5h1M42 73.5h1M44 73.5h1M57 73.5h1M60 73.5h2M66 73.5h1M68 73.5h1M72 73.5h1M77 73.5h1M89 73.5h1M128 73.5h1M50 74.5h1M56 74.5h1M58 74.5h1M63 74.5h1M65 74.5h1M69 74.5h4M74 74.5h2M79 74.5h1M86 74.5h1M98 74.5h1M40 75.5h1M48 75.5h1M51 75.5h1M53 75.5h4M72 75.5h1M47 76.5h2M50 76.5h1M53 76.5h1M55 76.5h2M71 76.5h1M74 76.5h1M78 76.5h2M83 76.5h1M87 76.5h1M90 76.5h1M134 76.5h1M51 77.5h1M57 77.5h1M61 77.5h2M66 77.5h1M68 77.5h1M70 77.5h1M73 77.5h1M78 77.5h1M87 77.5h1M92 77.5h1M98 77.5h1M55 78.5h1M74 78.5h1M99 78.5h1M102 78.5h1M114 78.5h1M45 79.5h1M53 79.5h1M55 79.5h1M57 79.5h1M61 79.5h3M87 79.5h1M90 79.5h1M106 79.5h1M113 79.5h1M53 80.5h1M63 80.5h1M68 80.5h1M72 80.5h2M78 80.5h2M81 80.5h2M93 80.5h2M51 81.5h1M57 81.5h2M60 81.5h1M68 81.5h1M71 81.5h1M79 81.5h1M81 81.5h1M104 81.5h1M59 82.5h1M61 82.5h2M64 82.5h1M66 82.5h1M68 82.5h1M71 82.5h3M77 82.5h1M86 82.5h1M92 82.5h1M106 82.5h1M57 83.5h1M62 83.5h1M66 83.5h1M72 83.5h1M82 83.5h1M87 83.5h1M54 84.5h1M59 84.5h1M74 84.5h1M78 84.5h1M90 84.5h1M58 85.5h2M62 85.5h1M65 85.5h2M69 85.5h1M74 85.5h2M79 85.5h2M93 85.5h1M62 86.5h2M74 86.5h1M79 86.5h1M84 86.5h2M39 87.5h1M57 87.5h1M62 87.5h1M67 87.5h1M69 87.5h1M71 87.5h1M79 87.5h1M83 87.5h1M88 87.5h1M105 87.5h1M66 88.5h1M65 89.5h2M85 89.5h1M93 89.5h1M77 90.5h1M87 90.5h1M105 90.5h1M120 90.5h1M53 91.5h1M73 91.5h1M101 91.5h1M104 91.5h1M72 92.5h1M81 92.5h1M83 93.5h1M128 93.5h1M84 94.5h1M111 94.5h1M120 95.5h1M71 96.5h1M74 96.5h1M78 96.5h1M81 96.5h1M109 96.5h1M129 96.5h1M113 97.5h1M83 99.5h2M101 99.5h1M141 99.5h1M13 100.5h1M80 100.5h1M100 101.5h1M110 101.5h1M89 102.5h1M112 103.5h1M122 103.5h1M89 104.5h1M125 104.5h1M36 105.5h1M103 105.5h1M94 106.5h1M107 106.5h1M126 106.5h1M89 108.5h1M143 108.5h1M78 111.5h1M142 112.5h1M91 113.5h1M27 114.5h1M43 115.5h1M150 115.5h1M67 116.5h1M127 116.5h1M9 118.5h1M77 118.5h1M119 118.5h1M153 118.5h1M86 119.5h1M140 119.5h1M24 120.5h1M148 120.5h1M54 123.5h1M3 124.5h1M27 125.5h1M130 126.5h1M125 127.5h1M155 128.5h1M82 129.5h1M96 131.5h1M140 132.5h1M88 134.5h1M136 134.5h2M139 134.5h1M162 134.5h1M128 137.5h1M149 137.5h1M94 138.5h1M145 138.5h1M162 138.5h1M28 142.5h1M140 142.5h1M24 143.5h1M152 143.5h1M145 144.5h1M149 144.5h1M139 145.5h1M156 145.5h1M141 146.5h1M80 147.5h1M122 147.5h1M164 147.5h1M76 148.5h1M122 148.5h1M135 148.5h1M142 148.5h1M145 148.5h1M180 148.5h1M99 149.5h1M141 149.5h1M136 150.5h1M128 151.5h1M144 151.5h1M170 151.5h1M31 152.5h1M148 152.5h1M162 152.5h1M120 153.5h1M134 154.5h1M148 155.5h1M156 155.5h1M149 156.5h1M155 156.5h1M137 157.5h1M150 157.5h1M161 157.5h1M153 158.5h1M161 158.5h1M129 159.5h1M137 159.5h1M121 160.5h1M167 160.5h1M172 160.5h1M125 161.5h1M129 161.5h1M134 161.5h1M141 161.5h1M159 161.5h1M122 162.5h1M147 162.5h1M157 162.5h1M163 162.5h1M134 163.5h1M13 164.5h1M121 164.5h1M146 165.5h1M138 166.5h1M142 166.5h2M146 166.5h1M163 166.5h1M99 167.5h1M129 167.5h1M132 167.5h1M134 167.5h1M141 167.5h1M162 167.5h2M171 167.5h1M136 168.5h1M173 169.5h1M133 170.5h2M140 170.5h1M148 171.5h1M151 171.5h1M170 171.5h1M138 172.5h1M145 172.5h1M141 173.5h1M157 173.5h1M160 173.5h1M151 174.5h1M132 175.5h1M141 175.5h1M137 176.5h1M152 176.5h1M165 176.5h1M152 177.5h1M139 178.5h1M149 178.5h1M140 179.5h1M143 179.5h1M156 179.5h1M144 180.5h1M142 181.5h1M150 182.5h1M156 182.5h1M167 182.5h1M139 183.5h1M152 183.5h1M159 183.5h1M133 184.5h1M135 184.5h1M145 184.5h1M148 184.5h1M158 185.5h1M119 187.5h1M153 189.5h1M171 190.5h1M156 201.5h1M143 204.5h1"/><path stroke="#e8ff00" d="M59 14.5h1M7 15.5h1M37 15.5h1M42 15.5h1M18 16.5h1M38 16.5h1M53 16.5h1M33 18.5h1M36 19.5h1M50 21.5h1M29 22.5h1M43 23.5h2M46 23.5h1M49 23.5h1M43 24.5h1M36 25.5h2M41 25.5h1M47 25.5h1M52 25.5h1M27 26.5h1M60 26.5h1M30 27.5h1M41 27.5h1M51 28.5h1M24 29.5h1M33 29.5h1M37 29.5h1M47 29.5h1M54 29.5h1M58 29.5h1M60 29.5h1M28 30.5h1M32 30.5h1M35 30.5h1M38 30.5h1M40 30.5h1M38 31.5h1M43 31.5h1M58 31.5h1M62 31.5h1M23 32.5h1M37 32.5h1M41 32.5h1M43 32.5h1M49 32.5h2M78 32.5h1M20 33.5h1M22 33.5h2M26 33.5h1M37 33.5h1M40 33.5h1M76 33.5h1M13 34.5h1M25 34.5h1M29 34.5h1M35 34.5h1M38 34.5h1M41 34.5h1M50 34.5h1M58 34.5h1M80 34.5h1M40 35.5h1M46 35.5h1M48 35.5h1M51 35.5h1M57 35.5h1M59 35.5h1M61 35.5h1M19 36.5h1M32 36.5h1M38 36.5h1M40 36.5h1M47 36.5h2M51 36.5h1M59 36.5h1M33 37.5h2M40 37.5h1M62 37.5h1M75 37.5h1M7 38.5h1M16 38.5h1M21 38.5h1M31 38.5h1M40 38.5h1M45 38.5h1M47 38.5h2M65 38.5h2M20 39.5h1M25 39.5h1M34 39.5h2M39 39.5h1M44 39.5h1M51 39.5h1M60 39.5h1M66 39.5h1M72 39.5h1M23 40.5h1M39 40.5h1M44 40.5h1M49 40.5h1M55 40.5h1M63 40.5h1M67 40.5h1M73 40.5h1M25 41.5h1M31 41.5h1M39 41.5h1M41 41.5h1M43 41.5h1M47 41.5h1M50 41.5h1M59 41.5h1M72 41.5h1M80 41.5h1M23 42.5h1M29 42.5h1M31 42.5h1M39 42.5h1M41 42.5h2M45 42.5h1M47 42.5h1M49 42.5h3M55 42.5h1M60 42.5h1M66 42.5h2M78 42.5h1M33 43.5h1M36 43.5h1M51 43.5h2M56 43.5h3M61 43.5h1M67 43.5h1M20 44.5h1M23 44.5h1M26 44.5h2M30 44.5h3M45 44.5h2M48 44.5h1M51 44.5h1M54 44.5h3M67 44.5h1M69 44.5h1M76 44.5h1M88 44.5h1M21 45.5h1M42 45.5h1M44 45.5h1M46 45.5h1M49 45.5h1M51 45.5h1M60 45.5h1M74 45.5h1M87 45.5h1M12 46.5h1M35 46.5h1M41 46.5h1M54 46.5h1M58 46.5h1M61 46.5h1M72 46.5h1M75 46.5h1M77 46.5h1M21 47.5h1M28 47.5h1M32 47.5h1M36 47.5h1M45 47.5h1M61 47.5h1M64 47.5h1M66 47.5h1M72 47.5h1M76 47.5h1M17 48.5h1M35 48.5h2M47 48.5h1M53 48.5h2M63 48.5h1M66 48.5h1M78 48.5h1M31 49.5h1M35 49.5h1M44 49.5h1M54 49.5h1M60 49.5h1M69 49.5h1M73 49.5h1M80 49.5h1M22 50.5h1M28 50.5h1M37 50.5h1M39 50.5h1M49 50.5h1M55 50.5h1M57 50.5h1M65 50.5h1M67 50.5h1M76 50.5h1M81 50.5h1M21 51.5h1M31 51.5h1M34 51.5h1M55 51.5h1M58 51.5h1M64 51.5h2M75 51.5h1M85 51.5h1M22 52.5h1M25 52.5h2M30 52.5h2M45 52.5h1M50 52.5h1M36 53.5h1M44 53.5h1M50 53.5h1M57 53.5h1M61 53.5h1M67 53.5h1M73 53.5h1M29 54.5h1M33 54.5h2M37 54.5h1M52 54.5h1M54 54.5h1M61 54.5h2M77 54.5h1M94 54.5h1M36 55.5h1M41 55.5h1M43 55.5h2M49 55.5h1M52 55.5h1M56 55.5h2M59 55.5h2M62 55.5h1M65 55.5h1M71 55.5h2M79 55.5h1M84 55.5h1M28 56.5h1M42 56.5h1M47 56.5h1M55 56.5h1M67 56.5h1M72 56.5h1M28 57.5h1M41 57.5h1M46 57.5h1M59 57.5h1M62 57.5h1M67 57.5h1M31 58.5h1M44 58.5h1M49 58.5h1M58 58.5h1M62 58.5h1M64 58.5h1M67 58.5h1M73 58.5h1M79 58.5h1M39 59.5h1M41 59.5h3M46 59.5h1M58 59.5h1M63 59.5h1M34 60.5h1M37 60.5h1M40 60.5h1M42 60.5h1M46 60.5h1M49 60.5h1M56 60.5h1M66 60.5h1M90 60.5h1M36 61.5h1M40 61.5h3M52 61.5h1M55 61.5h1M57 61.5h1M62 61.5h1M82 61.5h1M39 62.5h1M43 62.5h1M51 62.5h1M54 62.5h1M58 62.5h1M61 62.5h1M67 62.5h1M74 62.5h1M77 62.5h1M84 62.5h1M35 63.5h1M40 63.5h1M50 63.5h1M54 63.5h1M69 63.5h1M72 63.5h1M41 64.5h1M45 64.5h1M58 64.5h1M60 64.5h2M64 64.5h1M66 64.5h1M72 64.5h1M77 64.5h1M85 64.5h1M87 64.5h1M36 65.5h1M40 65.5h1M45 65.5h2M50 65.5h1M63 65.5h1M76 65.5h1M84 65.5h1M104 65.5h1M35 66.5h1M38 66.5h1M40 66.5h1M43 66.5h1M47 66.5h1M80 66.5h1M48 67.5h2M57 67.5h2M68 67.5h1M70 67.5h1M72 67.5h1M87 67.5h1M54 68.5h1M59 68.5h1M68 68.5h1M91 68.5h1M49 69.5h1M54 69.5h1M60 69.5h1M62 69.5h1M74 69.5h1M79 69.5h1M44 70.5h1M46 70.5h1M51 70.5h1M56 70.5h2M62 70.5h1M65 70.5h1M71 70.5h1M86 70.5h1M61 71.5h1M64 71.5h2M71 71.5h1M56 72.5h2M59 72.5h1M66 72.5h1M68 72.5h1M76 72.5h1M84 72.5h1M46 73.5h2M50 73.5h1M53 73.5h1M57 74.5h1M60 74.5h1M52 75.5h1M58 75.5h1M60 75.5h1M64 75.5h1M69 75.5h1M73 75.5h1M82 75.5h1M100 75.5h1M58 76.5h2M61 76.5h1M68 76.5h1M70 76.5h1M76 76.5h1M81 76.5h1M91 76.5h1M93 76.5h1M54 77.5h1M67 77.5h1M69 77.5h1M75 77.5h1M79 77.5h1M86 77.5h1M97 77.5h1M51 78.5h2M71 78.5h1M54 79.5h1M64 79.5h1M67 79.5h1M71 79.5h1M76 79.5h1M80 79.5h1M71 80.5h1M74 80.5h2M59 81.5h1M76 81.5h1M91 81.5h1M104 82.5h1M74 83.5h1M108 83.5h1M69 84.5h1M86 84.5h1M95 85.5h1M68 87.5h1M70 87.5h1M81 88.5h1M81 89.5h1M92 92.5h1M79 97.5h1M155 129.5h1M148 143.5h1M128 154.5h1M136 158.5h1M160 159.5h1M169 159.5h1M152 168.5h1M143 178.5h1M155 184.5h1"/><path stroke="#ffa000" d="M4 15.5h1M52 16.5h1M71 17.5h1M39 20.5h1M45 21.5h1M34 24.5h1M38 26.5h1M23 27.5h1M29 27.5h1M33 27.5h1M42 28.5h1M38 29.5h1M53 29.5h1M24 30.5h1M58 30.5h1M32 32.5h1M34 32.5h1M38 32.5h1M47 32.5h1M56 33.5h1M16 34.5h1M24 34.5h1M30 34.5h1M34 34.5h1M42 34.5h2M54 34.5h1M31 35.5h1M41 35.5h1M37 36.5h1M43 36.5h2M55 36.5h1M70 36.5h1M48 37.5h1M33 38.5h2M11 39.5h1M17 39.5h1M36 39.5h1M43 39.5h1M31 40.5h2M41 40.5h1M43 40.5h1M50 40.5h2M80 40.5h1M16 41.5h1M23 41.5h1M29 41.5h1M44 41.5h2M48 41.5h1M56 41.5h1M60 41.5h1M27 42.5h1M33 42.5h2M40 42.5h1M53 42.5h1M62 42.5h1M26 43.5h1M43 43.5h1M50 43.5h1M55 43.5h1M35 44.5h1M39 44.5h1M53 44.5h1M57 44.5h1M71 44.5h2M79 44.5h1M28 45.5h1M41 45.5h1M52 45.5h1M63 45.5h1M73 45.5h1M18 46.5h1M37 46.5h1M39 46.5h1M50 46.5h1M52 46.5h1M67 46.5h1M24 47.5h1M31 47.5h1M42 47.5h1M53 47.5h1M59 47.5h1M21 48.5h1M24 48.5h1M31 48.5h1M34 48.5h1M45 48.5h1M67 48.5h2M82 48.5h1M32 49.5h1M46 49.5h1M51 49.5h1M58 49.5h1M35 50.5h1M38 50.5h1M40 50.5h1M42 50.5h1M53 50.5h1M60 50.5h1M63 50.5h1M35 51.5h1M39 51.5h1M50 51.5h1M54 51.5h1M60 51.5h1M69 51.5h1M29 52.5h1M36 52.5h1M41 52.5h2M48 52.5h1M53 52.5h1M59 52.5h1M61 52.5h1M40 53.5h1M56 53.5h1M63 53.5h1M65 53.5h1M77 53.5h1M27 54.5h1M40 54.5h1M43 54.5h1M46 54.5h1M51 54.5h1M58 54.5h1M60 54.5h1M66 54.5h1M68 54.5h1M48 55.5h1M53 55.5h1M64 55.5h1M31 56.5h1M40 56.5h1M45 56.5h1M51 56.5h1M54 56.5h1M64 56.5h2M77 56.5h1M42 57.5h1M48 57.5h1M52 57.5h1M57 57.5h1M61 57.5h1M40 58.5h1M42 58.5h1M51 58.5h1M59 58.5h3M68 58.5h1M86 58.5h1M49 59.5h2M54 59.5h1M65 59.5h2M47 60.5h1M54 60.5h1M58 60.5h1M60 60.5h1M44 61.5h1M50 61.5h2M40 62.5h1M42 62.5h1M46 62.5h1M64 62.5h1M69 62.5h1M33 63.5h1M47 63.5h1M57 63.5h1M60 63.5h1M66 63.5h1M78 63.5h1M54 64.5h1M56 64.5h2M41 65.5h1M51 65.5h2M58 65.5h1M51 66.5h1M62 66.5h1M64 66.5h1M73 66.5h1M81 66.5h1M60 67.5h2M42 68.5h1M64 68.5h2M69 68.5h1M76 68.5h1M59 69.5h1M43 70.5h1M55 70.5h1M58 70.5h1M72 70.5h1M48 71.5h1M54 71.5h1M77 71.5h1M67 73.5h1M82 73.5h1M52 74.5h1M49 75.5h2M79 75.5h1M65 76.5h1M60 77.5h1M71 77.5h1M82 79.5h1M54 80.5h1M57 80.5h1M80 81.5h1M72 84.5h1M67 91.5h1M162 139.5h1"/><path stroke="#ff0000" d="M24 24.5h1M44 24.5h1M54 25.5h1M19 26.5h1M25 27.5h1M39 29.5h1M29 31.5h1M45 31.5h1M36 32.5h1M61 34.5h1M53 35.5h1M66 36.5h1M37 37.5h1M53 37.5h1M58 37.5h1M50 38.5h1M38 39.5h1M55 39.5h1M62 39.5h2M14 40.5h1M30 41.5h1M51 41.5h1M25 42.5h1M37 42.5h1M41 43.5h1M45 43.5h1M40 45.5h1M54 45.5h2M58 45.5h1M27 46.5h1M48 46.5h1M39 47.5h1M49 47.5h1M55 47.5h1M58 47.5h1M33 48.5h1M39 48.5h1M41 48.5h1M55 48.5h1M28 49.5h1M39 49.5h1M41 49.5h1M43 49.5h1M49 49.5h1M53 49.5h1M34 50.5h1M48 50.5h1M59 50.5h1M33 51.5h1M40 51.5h1M47 51.5h1M52 51.5h2M67 51.5h1M35 52.5h1M40 52.5h1M44 52.5h1M51 52.5h1M56 52.5h1M68 52.5h2M24 53.5h1M33 53.5h1M41 53.5h1M45 53.5h1M52 53.5h1M66 53.5h1M26 54.5h1M44 54.5h1M49 54.5h1M65 54.5h1M28 55.5h1M34 55.5h2M47 55.5h1M51 55.5h1M58 55.5h1M63 55.5h1M35 56.5h1M41 56.5h1M49 56.5h1M60 56.5h1M45 57.5h1M47 57.5h1M49 57.5h1M51 57.5h1M56 57.5h1M66 57.5h1M68 57.5h1M39 58.5h1M53 58.5h1M55 58.5h1M88 58.5h1M59 60.5h1M64 60.5h1M70 60.5h1M56 61.5h1M73 61.5h1M76 61.5h1M50 62.5h1M56 62.5h1M71 62.5h1M48 63.5h1M51 63.5h1M59 63.5h1M62 63.5h1M48 65.5h1M53 65.5h1M59 65.5h1M42 66.5h1M53 66.5h1M57 66.5h1M66 66.5h1M70 66.5h1M48 68.5h1M57 68.5h1M66 68.5h1M43 69.5h1M51 69.5h1M56 69.5h1M52 70.5h1M69 70.5h1M44 71.5h1M51 71.5h1M54 72.5h2M72 72.5h1M64 78.5h1M58 80.5h1"/></g>
<rect x="748.40" y="509.80" width="77.90" height="67.20" fill="#fff" fill-opacity="0.8"/>
<path d="M746.80 0.80L1217.00 0.80" stroke="#000" stroke-width="2.4"/>
<path d="M1215.80 0.80L1215.80 579.00" stroke="#000" stroke-width="2.4"/>
<path d="M746.80 -0.40L746.80 597.00" stroke="#000" stroke-width="3.2"/>
<path d="M746.80 579.00L1217.00 579.00" stroke="#000" stroke-width="4.0"/>
<path d="M897.20 0.80L897.20 582.00" stroke="#000" stroke-width="2.0"/>
<path d="M746.80 347.50L1215.80 347.50" stroke="#000" stroke-width="2.0"/>
<path d="M733.00 580.70H746.80M746.30 579.00V597.00M741.00 537.32H746.80M781.55 579.00V586.70M741.00 511.95H746.80M802.17 579.00V586.70M741.00 493.94H746.80M816.80 579.00V586.70M737.50 479.98H746.80M828.15 579.00V592.00M741.00 468.57H746.80M837.42 579.00V586.70M741.00 458.92H746.80M845.26 579.00V586.70M741.00 450.56H746.80M852.05 579.00V586.70M741.00 443.19H746.80M858.04 579.00V586.70M733.00 436.60H746.80M863.40 579.00V597.00M741.00 393.22H746.80M898.65 579.00V586.70M741.00 367.85H746.80M919.27 579.00V586.70M741.00 349.84H746.80M933.90 579.00V586.70M737.50 335.88H746.80M945.25 579.00V592.00M741.00 324.47H746.80M954.52 579.00V586.70M741.00 314.82H746.80M962.36 579.00V586.70M741.00 306.46H746.80M969.15 579.00V586.70M741.00 299.09H746.80M975.14 579.00V586.70M733.00 292.50H746.80M980.50 579.00V597.00M741.00 249.12H746.80M1015.75 579.00V586.70M741.00 223.75H746.80M1036.37 579.00V586.70M741.00 205.74H746.80M1051.00 579.00V586.70M737.50 191.78H746.80M1062.35 579.00V592.00M741.00 180.37H746.80M1071.62 579.00V586.70M741.00 170.72H746.80M1079.46 579.00V586.70M741.00 162.36H746.80M1086.25 579.00V586.70M741.00 154.99H746.80M1092.24 579.00V586.70M733.00 148.40H746.80M1097.60 579.00V597.00M741.00 105.02H746.80M1132.85 579.00V586.70M741.00 79.65H746.80M1153.47 579.00V586.70M741.00 61.64H746.80M1168.10 579.00V586.70M737.50 47.68H746.80M1179.45 579.00V592.00M741.00 36.27H746.80M1188.72 579.00V586.70M741.00 26.62H746.80M1196.56 579.00V586.70M741.00 18.26H746.80M1203.35 579.00V586.70M741.00 10.89H746.80M1209.34 579.00V586.70M733.00 4.30H746.80M1214.70 579.00V597.00" stroke="#000" stroke-width="2.1" fill="none"/>
<path d="M733.00 580.70L746.80 580.70" stroke="#000" stroke-width="2.3"/>
<text transform="translate(688.30 589.00) scale(0.7490 1)" font-family="Liberation Sans" font-size="25.50" fill="#363636" stroke="#363636" stroke-width="0.45">10</text>
<text transform="translate(712.70 567.60) scale(0.7419 1)" font-family="Liberation Sans" font-size="25.50" fill="#363636" stroke="#363636" stroke-width="0.45">0</text>
<text transform="translate(688.30 447.40) scale(0.7490 1)" font-family="Liberation Sans" font-size="25.50" fill="#363636" stroke="#363636" stroke-width="0.45">10</text>
<text transform="translate(714.28 427.00) scale(0.4452 1)" font-family="Liberation Sans" font-size="25.50" fill="#363636" stroke="#363636" stroke-width="0.45">1</text>
<text transform="translate(688.30 302.50) scale(0.7490 1)" font-family="Liberation Sans" font-size="25.50" fill="#363636" stroke="#363636" stroke-width="0.45">10</text>
<text transform="translate(712.70 282.00) scale(0.7419 1)" font-family="Liberation Sans" font-size="25.50" fill="#363636" stroke="#363636" stroke-width="0.45">2</text>
<text transform="translate(688.30 160.00) scale(0.7490 1)" font-family="Liberation Sans" font-size="25.50" fill="#363636" stroke="#363636" stroke-width="0.45">10</text>
<text transform="translate(712.70 139.00) scale(0.7419 1)" font-family="Liberation Sans" font-size="25.50" fill="#363636" stroke="#363636" stroke-width="0.45">3</text>
<text transform="translate(688.30 53.80) scale(0.7490 1)" font-family="Liberation Sans" font-size="25.50" fill="#363636" stroke="#363636" stroke-width="0.45">10</text>
<text transform="translate(712.70 32.80) scale(0.7419 1)" font-family="Liberation Sans" font-size="25.50" fill="#363636" stroke="#363636" stroke-width="0.45">4</text>
<text transform="translate(754.50 640.00) scale(0.7532 1)" font-family="Liberation Sans" font-size="25.00" fill="#363636" stroke="#363636" stroke-width="0.45">10</text>
<text transform="translate(778.30 620.80) scale(0.8432 1)" font-family="Liberation Sans" font-size="25.00" fill="#363636" stroke="#363636" stroke-width="0.45">0</text>
<text transform="translate(854.50 640.00) scale(0.7495 1)" font-family="Liberation Sans" font-size="25.00" fill="#363636" stroke="#363636" stroke-width="0.45">10</text>
<text transform="translate(879.50 620.80) scale(0.5045 1)" font-family="Liberation Sans" font-size="25.00" fill="#363636" stroke="#363636" stroke-width="0.45">1</text>
<text transform="translate(964.80 640.00) scale(0.8252 1)" font-family="Liberation Sans" font-size="25.00" fill="#363636" stroke="#363636" stroke-width="0.45">10</text>
<text transform="translate(990.60 620.80) scale(0.7784 1)" font-family="Liberation Sans" font-size="25.00" fill="#363636" stroke="#363636" stroke-width="0.45">2</text>
<text transform="translate(1073.90 640.00) scale(0.7964 1)" font-family="Liberation Sans" font-size="25.00" fill="#363636" stroke="#363636" stroke-width="0.45">10</text>
<text transform="translate(1098.00 620.80) scale(0.8432 1)" font-family="Liberation Sans" font-size="25.00" fill="#363636" stroke="#363636" stroke-width="0.45">3</text>
<text transform="translate(1185.40 640.00) scale(0.7964 1)" font-family="Liberation Sans" font-size="25.00" fill="#363636" stroke="#363636" stroke-width="0.45">10</text>
<text transform="translate(1209.60 620.80) scale(0.8072 1)" font-family="Liberation Sans" font-size="25.00" fill="#363636" stroke="#363636" stroke-width="0.45">4</text>
<text transform="translate(654.10 331.00) rotate(-90) scale(1.0748 1)" font-family="Liberation Sans" font-size="24.50" fill="#363636" stroke="#363636" stroke-width="0.45">FL2-PI</text>
<text transform="translate(882.40 715.80) scale(0.8385 1)" font-family="Liberation Sans" font-size="26.30" fill="#363636" stroke="#363636" stroke-width="0.45">FL1-Annexin V-FITC</text>
<text transform="translate(949.80 66.50) scale(1.0555 1)" font-family="Liberation Serif" font-size="42.00" fill="#000">(8 μM)</text>
<text transform="translate(752.70 33.60) scale(0.7902 1)" font-family="Liberation Sans" font-size="25.50" fill="#333" stroke="#333" stroke-width="0.45">Q1</text>
<text transform="translate(753.90 70.50) scale(0.8369 1)" font-family="Liberation Sans" font-size="25.50" fill="#333" stroke="#333" stroke-width="0.45">7.23%</text>
<text transform="translate(1141.80 33.60) scale(0.8137 1)" font-family="Liberation Sans" font-size="25.50" fill="#333" stroke="#333" stroke-width="0.45">Q2</text>
<text transform="translate(1143.80 70.50) scale(0.8327 1)" font-family="Liberation Sans" font-size="25.50" fill="#333" stroke="#333" stroke-width="0.45">15.0%</text>
<text transform="translate(1143.00 536.70) scale(0.7784 1)" font-family="Liberation Sans" font-size="25.50" fill="#333" stroke="#333" stroke-width="0.45">Q3</text>
<text transform="translate(1143.00 573.10) scale(0.8217 1)" font-family="Liberation Sans" font-size="25.50" fill="#333" stroke="#333" stroke-width="0.45">9.05%</text>
<text transform="translate(755.00 536.70) scale(0.7814 1)" font-family="Liberation Sans" font-size="25.50" fill="#333" stroke="#333" stroke-width="0.45">Q4</text>
<text transform="translate(755.00 573.10) scale(0.8217 1)" font-family="Liberation Sans" font-size="25.50" fill="#333" stroke="#333" stroke-width="0.45">68.7%</text>
<g transform="translate(160.10 1329.70) scale(1.7504 -2.0707)" stroke-width="1" fill="none"><path stroke="#0000ff" d="M2 0.5h2M7 0.5h1M14 0.5h1M16 0.5h1M19 0.5h1M24 0.5h2M27 0.5h2M36 0.5h1M38 0.5h1M47 0.5h1M50 0.5h1M0 1.5h1M5 1.5h2M8 1.5h1M13 1.5h2M18 1.5h1M22 1.5h1M25 1.5h1M27 1.5h1M37 1.5h1M42 1.5h2M45 1.5h2M49 1.5h2M52 1.5h1M54 1.5h1M59 1.5h1M75 1.5h1M3 2.5h1M12 2.5h2M15 2.5h1M20 2.5h3M27 2.5h3M35 2.5h1M38 2.5h1M42 2.5h2M47 2.5h1M51 2.5h4M59 2.5h1M2 3.5h1M17 3.5h1M19 3.5h3M23 3.5h1M26 3.5h1M30 3.5h2M43 3.5h2M49 3.5h1M52 3.5h2M55 3.5h1M59 3.5h2M62 3.5h1M7 4.5h1M10 4.5h1M14 4.5h1M20 4.5h3M25 4.5h1M33 4.5h2M38 4.5h1M41 4.5h1M44 4.5h1M49 4.5h1M1 5.5h2M4 5.5h1M9 5.5h1M16 5.5h1M22 5.5h3M27 5.5h1M29 5.5h1M34 5.5h1M38 5.5h8M47 5.5h1M50 5.5h4M101 5.5h1M7 6.5h3M12 6.5h1M15 6.5h2M21 6.5h1M24 6.5h1M26 6.5h2M29 6.5h1M37 6.5h1M40 6.5h8M51 6.5h2M58 6.5h1M5 7.5h1M10 7.5h1M14 7.5h1M17 7.5h1M20 7.5h1M25 7.5h3M30 7.5h1M34 7.5h1M36 7.5h1M39 7.5h1M41 7.5h1M44 7.5h1M58 7.5h1M1 8.5h4M6 8.5h1M8 8.5h1M10 8.5h1M12 8.5h1M17 8.5h1M19 8.5h1M22 8.5h1M27 8.5h1M30 8.5h1M32 8.5h1M35 8.5h2M38 8.5h1M41 8.5h2M46 8.5h1M50 8.5h1M53 8.5h1M57 8.5h2M1 9.5h2M5 9.5h1M8 9.5h1M13 9.5h1M17 9.5h1M20 9.5h1M26 9.5h1M33 9.5h2M43 9.5h1M46 9.5h1M57 9.5h1M72 9.5h1M81 9.5h1M6 10.5h1M8 10.5h1M10 10.5h5M16 10.5h4M21 10.5h2M24 10.5h1M26 10.5h1M33 10.5h1M36 10.5h1M39 10.5h2M44 10.5h2M50 10.5h1M59 10.5h3M2 11.5h1M4 11.5h2M9 11.5h1M12 11.5h1M16 11.5h1M21 11.5h1M24 11.5h1M27 11.5h1M30 11.5h1M35 11.5h1M39 11.5h1M41 11.5h4M48 11.5h1M52 11.5h1M55 11.5h1M67 11.5h1M78 11.5h1M86 11.5h1M1 12.5h1M5 12.5h1M9 12.5h1M13 12.5h1M24 12.5h1M29 12.5h1M32 12.5h2M35 12.5h1M37 12.5h1M39 12.5h4M44 12.5h1M46 12.5h1M49 12.5h1M51 12.5h1M55 12.5h1M68 12.5h1M1 13.5h1M3 13.5h2M9 13.5h1M13 13.5h1M18 13.5h1M20 13.5h1M23 13.5h1M28 13.5h2M33 13.5h3M38 13.5h1M45 13.5h4M64 13.5h1M79 13.5h1M1 14.5h2M4 14.5h1M8 14.5h2M13 14.5h1M16 14.5h1M18 14.5h2M21 14.5h1M23 14.5h2M26 14.5h4M32 14.5h3M36 14.5h10M48 14.5h3M52 14.5h3M57 14.5h3M64 14.5h1M75 14.5h1M2 15.5h1M6 15.5h1M12 15.5h1M14 15.5h3M25 15.5h1M31 15.5h2M35 15.5h2M38 15.5h1M40 15.5h4M46 15.5h2M49 15.5h1M51 15.5h1M57 15.5h1M73 15.5h1M9 16.5h1M11 16.5h2M15 16.5h1M17 16.5h1M19 16.5h4M25 16.5h1M27 16.5h2M34 16.5h2M37 16.5h1M45 16.5h1M49 16.5h1M53 16.5h1M56 16.5h1M62 16.5h2M70 16.5h1M0 17.5h1M2 17.5h1M8 17.5h1M10 17.5h1M14 17.5h1M16 17.5h3M21 17.5h1M26 17.5h1M31 17.5h2M37 17.5h1M42 17.5h2M46 17.5h1M50 17.5h1M53 17.5h3M57 17.5h2M60 17.5h1M67 17.5h1M76 17.5h1M78 17.5h1M4 18.5h1M6 18.5h1M9 18.5h3M13 18.5h3M18 18.5h3M25 18.5h1M29 18.5h2M36 18.5h2M41 18.5h1M43 18.5h1M45 18.5h2M51 18.5h2M55 18.5h1M67 18.5h1M77 18.5h1M4 19.5h1M7 19.5h1M11 19.5h2M17 19.5h1M19 19.5h1M21 19.5h1M23 19.5h1M25 19.5h1M27 19.5h1M34 19.5h1M39 19.5h1M45 19.5h1M47 19.5h1M52 19.5h1M54 19.5h1M64 19.5h5M70 19.5h1M78 19.5h1M1 20.5h2M6 20.5h1M11 20.5h1M14 20.5h1M17 20.5h3M21 20.5h1M23 20.5h1M26 20.5h1M30 20.5h2M35 20.5h2M40 20.5h1M42 20.5h2M47 20.5h1M54 20.5h1M56 20.5h1M2 21.5h2M7 21.5h2M11 21.5h1M13 21.5h1M16 21.5h2M22 21.5h1M26 21.5h2M29 21.5h1M31 21.5h1M33 21.5h1M37 21.5h2M41 21.5h2M53 21.5h2M57 21.5h1M61 21.5h1M66 21.5h2M74 21.5h1M82 21.5h1M87 21.5h1M1 22.5h4M7 22.5h1M9 22.5h1M11 22.5h1M13 22.5h1M15 22.5h1M18 22.5h1M28 22.5h1M30 22.5h1M37 22.5h1M41 22.5h7M49 22.5h1M55 22.5h1M67 22.5h1M76 22.5h1M81 22.5h1M105 22.5h1M3 23.5h1M6 23.5h2M11 23.5h1M14 23.5h2M26 23.5h2M32 23.5h1M34 23.5h1M42 23.5h3M46 23.5h1M52 23.5h2M55 23.5h3M60 23.5h2M65 23.5h1M73 23.5h1M75 23.5h1M78 23.5h1M80 23.5h1M104 23.5h1M0 24.5h1M7 24.5h1M9 24.5h3M16 24.5h1M21 24.5h2M24 24.5h1M26 24.5h1M30 24.5h1M39 24.5h2M46 24.5h1M48 24.5h1M50 24.5h3M54 24.5h1M60 24.5h1M64 24.5h1M75 24.5h2M78 24.5h1M85 24.5h1M0 25.5h1M11 25.5h4M17 25.5h2M20 25.5h1M25 25.5h1M30 25.5h1M34 25.5h1M37 25.5h1M40 25.5h1M47 25.5h4M54 25.5h2M59 25.5h1M61 25.5h1M64 25.5h1M68 25.5h1M70 25.5h1M3 26.5h2M8 26.5h2M15 26.5h1M22 26.5h3M28 26.5h3M34 26.5h1M37 26.5h1M42 26.5h1M45 26.5h1M52 26.5h2M55 26.5h1M58 26.5h4M64 26.5h2M70 26.5h4M77 26.5h1M1 27.5h1M3 27.5h1M10 27.5h1M14 27.5h2M21 27.5h3M29 27.5h1M32 27.5h1M34 27.5h1M38 27.5h1M43 27.5h1M46 27.5h2M51 27.5h1M54 27.5h1M58 27.5h1M64 27.5h1M66 27.5h1M72 27.5h1M82 27.5h1M1 28.5h2M4 28.5h1M13 28.5h3M19 28.5h1M28 28.5h1M32 28.5h1M38 28.5h2M43 28.5h4M57 28.5h1M60 28.5h1M64 28.5h2M67 28.5h1M69 28.5h1M76 28.5h1M83 28.5h1M88 28.5h1M0 29.5h3M4 29.5h1M8 29.5h4M15 29.5h2M20 29.5h1M22 29.5h1M25 29.5h1M33 29.5h1M35 29.5h2M40 29.5h1M42 29.5h3M47 29.5h1M51 29.5h1M54 29.5h1M56 29.5h1M61 29.5h1M64 29.5h1M70 29.5h1M72 29.5h1M3 30.5h2M6 30.5h4M11 30.5h3M15 30.5h1M17 30.5h1M21 30.5h2M29 30.5h1M34 30.5h1M37 30.5h1M41 30.5h1M49 30.5h1M52 30.5h2M60 30.5h1M63 30.5h1M65 30.5h1M72 30.5h1M75 30.5h1M79 30.5h2M2 31.5h1M11 31.5h1M16 31.5h1M21 31.5h1M26 31.5h1M34 31.5h1M36 31.5h1M39 31.5h4M49 31.5h1M53 31.5h2M58 31.5h1M60 31.5h1M62 31.5h2M66 31.5h2M70 31.5h3M74 31.5h2M84 31.5h1M89 31.5h1M97 31.5h2M115 31.5h1M4 32.5h2M8 32.5h2M12 32.5h2M16 32.5h2M24 32.5h1M29 32.5h1M33 32.5h1M41 32.5h1M44 32.5h1M47 32.5h2M53 32.5h1M56 32.5h3M64 32.5h3M70 32.5h1M72 32.5h3M76 32.5h1M81 32.5h1M88 32.5h1M120 32.5h1M6 33.5h2M19 33.5h1M22 33.5h1M29 33.5h1M32 33.5h1M35 33.5h2M39 33.5h1M43 33.5h2M50 33.5h3M56 33.5h2M62 33.5h1M65 33.5h1M67 33.5h1M71 33.5h1M73 33.5h1M90 33.5h1M95 33.5h1M116 33.5h1M1 34.5h2M4 34.5h4M10 34.5h2M15 34.5h1M21 34.5h2M42 34.5h1M44 34.5h1M49 34.5h1M51 34.5h1M54 34.5h1M57 34.5h3M61 34.5h2M67 34.5h1M69 34.5h1M75 34.5h1M82 34.5h1M89 34.5h1M96 34.5h1M0 35.5h1M2 35.5h3M6 35.5h1M10 35.5h1M18 35.5h1M21 35.5h2M26 35.5h1M29 35.5h2M33 35.5h1M38 35.5h1M40 35.5h1M42 35.5h2M46 35.5h1M51 35.5h1M57 35.5h3M68 35.5h2M75 35.5h1M78 35.5h1M110 35.5h1M1 36.5h1M4 36.5h1M8 36.5h1M16 36.5h1M23 36.5h1M25 36.5h1M28 36.5h1M31 36.5h3M36 36.5h2M39 36.5h1M41 36.5h1M47 36.5h1M56 36.5h1M61 36.5h1M64 36.5h1M68 36.5h2M71 36.5h1M73 36.5h1M75 36.5h2M79 36.5h1M92 36.5h1M99 36.5h1M11 37.5h1M14 37.5h3M18 37.5h2M28 37.5h1M37 37.5h1M45 37.5h2M48 37.5h1M50 37.5h1M53 37.5h6M64 37.5h1M66 37.5h2M73 37.5h1M83 37.5h1M90 37.5h1M10 38.5h2M13 38.5h1M15 38.5h7M24 38.5h1M33 38.5h2M37 38.5h2M40 38.5h1M43 38.5h1M50 38.5h1M53 38.5h1M57 38.5h1M59 38.5h1M61 38.5h1M63 38.5h2M69 38.5h1M72 38.5h2M82 38.5h1M84 38.5h1M106 38.5h1M4 39.5h3M9 39.5h1M12 39.5h1M14 39.5h1M23 39.5h4M29 39.5h1M31 39.5h2M34 39.5h1M36 39.5h2M39 39.5h1M44 39.5h1M48 39.5h1M53 39.5h2M57 39.5h2M63 39.5h1M67 39.5h1M69 39.5h1M75 39.5h1M82 39.5h2M118 39.5h1M138 39.5h1M2 40.5h1M4 40.5h1M13 40.5h2M16 40.5h1M19 40.5h2M24 40.5h1M26 40.5h1M34 40.5h1M36 40.5h2M39 40.5h1M43 40.5h1M49 40.5h1M53 40.5h1M60 40.5h2M63 40.5h2M67 40.5h1M71 40.5h1M96 40.5h1M4 41.5h1M6 41.5h1M10 41.5h1M13 41.5h3M17 41.5h6M27 41.5h1M31 41.5h2M37 41.5h1M43 41.5h1M47 41.5h3M51 41.5h1M54 41.5h1M56 41.5h1M65 41.5h1M67 41.5h2M74 41.5h1M77 41.5h2M6 42.5h1M11 42.5h1M13 42.5h1M15 42.5h1M19 42.5h1M21 42.5h1M23 42.5h1M25 42.5h1M32 42.5h1M36 42.5h1M46 42.5h1M49 42.5h2M52 42.5h1M60 42.5h1M62 42.5h2M65 42.5h1M68 42.5h1M70 42.5h1M73 42.5h1M80 42.5h1M86 42.5h1M107 42.5h1M144 42.5h1M1 43.5h1M6 43.5h1M10 43.5h1M13 43.5h1M15 43.5h1M18 43.5h1M22 43.5h2M25 43.5h1M31 43.5h1M39 43.5h2M46 43.5h1M55 43.5h2M58 43.5h1M61 43.5h2M64 43.5h4M81 43.5h1M83 43.5h1M6 44.5h1M10 44.5h1M15 44.5h2M28 44.5h2M32 44.5h1M36 44.5h1M44 44.5h1M46 44.5h2M54 44.5h2M57 44.5h2M71 44.5h1M73 44.5h1M76 44.5h2M3 45.5h1M5 45.5h1M12 45.5h3M18 45.5h1M20 45.5h2M23 45.5h1M26 45.5h1M33 45.5h2M39 45.5h1M44 45.5h1M52 45.5h3M56 45.5h1M58 45.5h2M61 45.5h1M63 45.5h1M66 45.5h1M68 45.5h2M71 45.5h1M73 45.5h1M76 45.5h1M79 45.5h1M81 45.5h4M90 45.5h2M103 45.5h1M113 45.5h1M126 45.5h1M3 46.5h1M11 46.5h1M13 46.5h1M15 46.5h3M20 46.5h2M26 46.5h1M39 46.5h2M42 46.5h1M45 46.5h1M53 46.5h2M56 46.5h1M58 46.5h2M62 46.5h1M66 46.5h1M69 46.5h2M76 46.5h2M81 46.5h1M86 46.5h1M91 46.5h1M116 46.5h1M5 47.5h1M7 47.5h1M9 47.5h2M12 47.5h3M18 47.5h1M21 47.5h1M23 47.5h1M29 47.5h1M31 47.5h1M45 47.5h1M51 47.5h1M60 47.5h1M64 47.5h2M68 47.5h1M70 47.5h1M74 47.5h1M76 47.5h1M100 47.5h1M113 47.5h1M121 47.5h1M5 48.5h1M7 48.5h1M12 48.5h4M17 48.5h1M19 48.5h2M22 48.5h2M28 48.5h1M36 48.5h1M42 48.5h3M46 48.5h3M51 48.5h1M56 48.5h1M59 48.5h1M64 48.5h4M71 48.5h3M77 48.5h1M79 48.5h1M92 48.5h1M114 48.5h1M132 48.5h1M6 49.5h1M8 49.5h2M15 49.5h4M20 49.5h2M25 49.5h1M29 49.5h1M31 49.5h1M33 49.5h1M37 49.5h1M41 49.5h1M44 49.5h2M51 49.5h1M53 49.5h1M55 49.5h1M59 49.5h2M63 49.5h2M66 49.5h1M71 49.5h1M74 49.5h1M79 49.5h1M83 49.5h1M95 49.5h1M103 49.5h1M135 49.5h1M143 49.5h1M10 50.5h1M14 50.5h1M16 50.5h1M20 50.5h1M24 50.5h1M29 50.5h1M31 50.5h3M36 50.5h1M40 50.5h3M45 50.5h1M50 50.5h2M55 50.5h1M60 50.5h2M65 50.5h1M67 50.5h3M71 50.5h2M78 50.5h2M121 50.5h1M129 50.5h1M11 51.5h1M17 51.5h2M20 51.5h2M27 51.5h1M30 51.5h2M33 51.5h2M40 51.5h1M44 51.5h2M48 51.5h1M54 51.5h2M58 51.5h4M64 51.5h2M73 51.5h1M80 51.5h1M89 51.5h2M100 51.5h1M104 51.5h1M129 51.5h1M2 52.5h1M6 52.5h1M17 52.5h2M23 52.5h1M30 52.5h2M35 52.5h2M38 52.5h1M41 52.5h3M45 52.5h2M48 52.5h1M62 52.5h2M69 52.5h1M72 52.5h1M74 52.5h1M78 52.5h1M82 52.5h1M85 52.5h2M89 52.5h1M92 52.5h1M102 52.5h1M107 52.5h1M12 53.5h1M15 53.5h1M23 53.5h2M27 53.5h3M31 53.5h1M38 53.5h2M41 53.5h1M48 53.5h1M52 53.5h1M55 53.5h2M58 53.5h1M60 53.5h4M66 53.5h1M68 53.5h1M72 53.5h1M74 53.5h2M85 53.5h1M88 53.5h1M90 53.5h1M106 53.5h1M115 53.5h1M16 54.5h1M19 54.5h1M22 54.5h2M28 54.5h2M32 54.5h1M34 54.5h1M38 54.5h2M43 54.5h1M49 54.5h1M51 54.5h1M53 54.5h1M56 54.5h1M59 54.5h1M61 54.5h1M63 54.5h1M67 54.5h1M69 54.5h1M72 54.5h6M85 54.5h1M87 54.5h1M89 54.5h1M115 54.5h1M151 54.5h1M7 55.5h1M21 55.5h3M25 55.5h3M29 55.5h1M31 55.5h2M37 55.5h1M48 55.5h4M54 55.5h1M57 55.5h1M66 55.5h1M68 55.5h1M70 55.5h1M72 55.5h1M75 55.5h2M86 55.5h1M93 55.5h1M110 55.5h1M142 55.5h1M20 56.5h1M22 56.5h1M27 56.5h1M30 56.5h1M36 56.5h3M40 56.5h1M44 56.5h1M46 56.5h3M50 56.5h1M52 56.5h1M55 56.5h1M57 56.5h1M59 56.5h2M65 56.5h1M70 56.5h1M73 56.5h2M82 56.5h1M88 56.5h1M91 56.5h1M99 56.5h1M101 56.5h1M115 56.5h1M15 57.5h2M23 57.5h1M27 57.5h1M36 57.5h2M42 57.5h1M47 57.5h1M50 57.5h2M55 57.5h2M63 57.5h1M69 57.5h1M71 57.5h1M75 57.5h1M86 57.5h2M98 57.5h2M123 57.5h1M127 57.5h1M141 57.5h1M11 58.5h1M19 58.5h1M28 58.5h1M31 58.5h1M36 58.5h2M39 58.5h2M46 58.5h1M48 58.5h1M51 58.5h1M53 58.5h1M57 58.5h1M59 58.5h1M63 58.5h2M71 58.5h1M73 58.5h1M76 58.5h2M81 58.5h2M88 58.5h1M95 58.5h1M101 58.5h1M106 58.5h2M112 58.5h1M116 58.5h1M125 58.5h1M26 59.5h1M31 59.5h2M38 59.5h1M41 59.5h1M46 59.5h2M52 59.5h1M55 59.5h2M61 59.5h1M65 59.5h1M69 59.5h1M72 59.5h1M74 59.5h2M77 59.5h1M80 59.5h1M92 59.5h1M98 59.5h1M104 59.5h1M14 60.5h1M22 60.5h1M27 60.5h1M29 60.5h1M35 60.5h1M38 60.5h3M49 60.5h2M52 60.5h1M54 60.5h1M57 60.5h1M63 60.5h2M67 60.5h2M70 60.5h1M74 60.5h1M81 60.5h1M86 60.5h1M94 60.5h1M98 60.5h1M106 60.5h1M114 60.5h1M127 60.5h1M141 60.5h1M23 61.5h1M25 61.5h1M29 61.5h2M33 61.5h1M37 61.5h2M48 61.5h1M50 61.5h3M55 61.5h1M59 61.5h1M67 61.5h3M72 61.5h1M78 61.5h1M81 61.5h1M89 61.5h1M93 61.5h1M97 61.5h1M101 61.5h1M114 61.5h1M117 61.5h1M119 61.5h1M132 61.5h1M27 62.5h2M34 62.5h1M36 62.5h1M40 62.5h1M43 62.5h1M45 62.5h1M50 62.5h1M52 62.5h1M54 62.5h1M56 62.5h2M61 62.5h2M64 62.5h1M68 62.5h2M72 62.5h3M80 62.5h1M92 62.5h1M107 62.5h1M110 62.5h1M126 62.5h1M144 62.5h1M25 63.5h1M31 63.5h1M35 63.5h2M39 63.5h2M42 63.5h1M47 63.5h1M49 63.5h3M53 63.5h1M58 63.5h1M61 63.5h2M69 63.5h1M78 63.5h1M89 63.5h1M111 63.5h1M133 63.5h1M148 63.5h1M25 64.5h1M28 64.5h2M35 64.5h2M40 64.5h2M43 64.5h1M46 64.5h2M49 64.5h2M55 64.5h1M57 64.5h1M60 64.5h3M65 64.5h1M74 64.5h1M80 64.5h1M82 64.5h1M89 64.5h1M105 64.5h1M109 64.5h1M112 64.5h1M115 64.5h2M126 64.5h1M32 65.5h1M39 65.5h1M42 65.5h1M45 65.5h1M47 65.5h1M49 65.5h2M52 65.5h2M59 65.5h1M62 65.5h1M72 65.5h2M80 65.5h1M83 65.5h1M93 65.5h1M95 65.5h1M101 65.5h1M107 65.5h2M112 65.5h1M142 65.5h1M14 66.5h2M23 66.5h1M30 66.5h2M48 66.5h1M57 66.5h1M61 66.5h1M68 66.5h1M71 66.5h1M74 66.5h1M77 66.5h1M89 66.5h1M93 66.5h1M102 66.5h1M110 66.5h1M114 66.5h1M133 66.5h1M139 66.5h1M29 67.5h1M35 67.5h1M52 67.5h2M56 67.5h1M60 67.5h3M65 67.5h1M69 67.5h1M72 67.5h1M74 67.5h1M84 67.5h1M87 67.5h2M100 67.5h1M114 67.5h1M150 67.5h1M36 68.5h2M45 68.5h1M47 68.5h1M50 68.5h2M55 68.5h1M57 68.5h1M59 68.5h2M64 68.5h2M68 68.5h1M70 68.5h2M75 68.5h1M81 68.5h2M93 68.5h2M96 68.5h1M102 68.5h1M108 68.5h1M111 68.5h1M118 68.5h1M120 68.5h1M128 68.5h1M136 68.5h1M138 68.5h1M172 68.5h1M31 69.5h1M39 69.5h2M44 69.5h1M51 69.5h1M58 69.5h1M68 69.5h1M71 69.5h1M79 69.5h1M89 69.5h1M96 69.5h1M99 69.5h2M109 69.5h1M111 69.5h1M119 69.5h1M134 69.5h1M144 69.5h1M148 69.5h1M41 70.5h1M52 70.5h1M57 70.5h2M62 70.5h1M67 70.5h2M72 70.5h1M75 70.5h1M89 70.5h1M119 70.5h1M144 70.5h1M195 70.5h1M40 71.5h1M47 71.5h1M49 71.5h1M51 71.5h1M64 71.5h1M68 71.5h1M70 71.5h1M75 71.5h1M77 71.5h1M81 71.5h1M95 71.5h1M98 71.5h1M115 71.5h2M122 71.5h1M144 71.5h2M151 71.5h1M34 72.5h1M42 72.5h1M44 72.5h1M46 72.5h2M57 72.5h1M64 72.5h1M66 72.5h1M68 72.5h1M74 72.5h2M80 72.5h1M86 72.5h2M90 72.5h1M93 72.5h1M95 72.5h1M102 72.5h2M109 72.5h1M120 72.5h1M124 72.5h1M134 72.5h1M142 72.5h1M169 72.5h1M180 72.5h1M43 73.5h1M47 73.5h1M53 73.5h2M59 73.5h1M70 73.5h2M80 73.5h1M84 73.5h5M93 73.5h2M96 73.5h1M106 73.5h1M131 73.5h1M133 73.5h1M140 73.5h1M142 73.5h1M147 73.5h2M44 74.5h2M49 74.5h1M56 74.5h1M60 74.5h1M62 74.5h1M86 74.5h1M97 74.5h2M111 74.5h1M118 74.5h1M121 74.5h1M167 74.5h1M57 75.5h1M67 75.5h1M76 75.5h1M89 75.5h1M92 75.5h1M96 75.5h1M109 75.5h1M117 75.5h1M129 75.5h1M139 75.5h1M167 75.5h1M55 76.5h2M65 76.5h1M70 76.5h1M72 76.5h1M85 76.5h1M92 76.5h1M105 76.5h1M118 76.5h1M128 76.5h1M48 77.5h1M52 77.5h1M65 77.5h1M72 77.5h1M84 77.5h3M91 77.5h1M104 77.5h1M123 77.5h1M129 77.5h1M131 77.5h1M135 77.5h2M138 77.5h1M48 78.5h1M57 78.5h2M61 78.5h1M65 78.5h1M67 78.5h1M72 78.5h1M77 78.5h2M81 78.5h1M91 78.5h1M103 78.5h1M109 78.5h1M111 78.5h1M128 78.5h1M134 78.5h1M147 78.5h1M154 78.5h1M171 78.5h1M173 78.5h1M50 79.5h1M66 79.5h2M78 79.5h1M81 79.5h1M85 79.5h2M95 79.5h1M107 79.5h2M112 79.5h1M139 79.5h1M48 80.5h1M64 80.5h1M68 80.5h1M75 80.5h1M81 80.5h1M89 80.5h1M96 80.5h1M107 80.5h1M120 80.5h1M122 80.5h1M125 80.5h1M153 80.5h1M166 80.5h1M183 80.5h1M191 80.5h1M47 81.5h1M51 81.5h2M55 81.5h1M73 81.5h1M92 81.5h1M98 81.5h1M110 81.5h1M140 81.5h1M144 81.5h1M161 81.5h1M56 82.5h1M64 82.5h1M69 82.5h1M71 82.5h1M74 82.5h2M100 82.5h1M109 82.5h1M120 82.5h1M140 82.5h1M157 82.5h1M165 82.5h1M64 83.5h1M67 83.5h2M87 83.5h1M93 83.5h1M95 83.5h1M100 83.5h1M112 83.5h1M125 83.5h1M136 83.5h1M66 84.5h1M83 84.5h1M85 84.5h1M88 84.5h1M90 84.5h1M92 84.5h1M100 84.5h1M107 84.5h1M112 84.5h1M116 84.5h1M134 84.5h1M139 84.5h2M145 84.5h1M157 84.5h1M72 85.5h1M77 85.5h1M82 85.5h1M94 85.5h1M98 85.5h1M102 85.5h1M104 85.5h1M123 85.5h1M144 85.5h2M148 85.5h1M150 85.5h1M152 85.5h1M177 85.5h1M33 86.5h1M41 86.5h1M70 86.5h1M81 86.5h1M85 86.5h1M97 86.5h1M102 86.5h1M110 86.5h1M112 86.5h2M124 86.5h1M131 86.5h1M134 86.5h1M137 86.5h1M139 86.5h1M143 86.5h1M157 86.5h1M76 87.5h1M88 87.5h1M94 87.5h1M102 87.5h1M116 87.5h1M119 87.5h2M152 87.5h1M154 87.5h1M61 88.5h1M75 88.5h1M77 88.5h2M94 88.5h1M105 88.5h1M116 88.5h1M118 88.5h1M123 88.5h1M131 88.5h1M154 88.5h1M159 88.5h1M72 89.5h1M76 89.5h1M93 89.5h1M118 89.5h1M120 89.5h1M148 89.5h1M156 89.5h2M164 89.5h1M185 89.5h1M20 90.5h1M56 90.5h1M63 90.5h1M106 90.5h1M110 90.5h1M139 90.5h1M151 90.5h1M175 90.5h1M183 90.5h1M64 91.5h1M70 91.5h1M96 91.5h1M101 91.5h1M117 91.5h1M135 91.5h1M145 91.5h1M149 91.5h1M164 91.5h1M53 92.5h1M97 92.5h2M101 92.5h1M106 92.5h2M111 92.5h1M122 92.5h1M128 92.5h1M136 92.5h1M148 92.5h4M165 92.5h1M71 93.5h1M81 93.5h1M92 93.5h1M97 93.5h2M146 93.5h1M158 93.5h1M163 93.5h1M105 94.5h1M114 94.5h1M117 94.5h1M121 94.5h1M127 94.5h1M129 94.5h1M142 94.5h1M149 94.5h2M153 94.5h1M165 94.5h1M168 94.5h1M173 94.5h1M77 95.5h1M96 95.5h1M98 95.5h1M126 95.5h2M138 95.5h1M142 95.5h1M144 95.5h1M150 95.5h1M184 95.5h1M89 96.5h1M91 96.5h1M98 96.5h1M104 96.5h1M114 96.5h1M135 96.5h1M140 96.5h1M146 96.5h2M149 96.5h1M152 96.5h2M161 96.5h1M169 96.5h1M181 96.5h1M43 97.5h1M70 97.5h2M75 97.5h1M78 97.5h1M84 97.5h2M87 97.5h1M106 97.5h1M109 97.5h1M116 97.5h1M118 97.5h1M126 97.5h1M133 97.5h1M136 97.5h1M150 97.5h1M159 97.5h1M162 97.5h1M164 97.5h1M171 97.5h1M92 98.5h1M95 98.5h1M97 98.5h1M138 98.5h1M140 98.5h1M145 98.5h1M151 98.5h1M173 98.5h2M198 98.5h1M78 99.5h1M85 99.5h1M101 99.5h2M128 99.5h1M133 99.5h2M140 99.5h1M145 99.5h1M147 99.5h1M167 99.5h1M173 99.5h1M106 100.5h3M114 100.5h1M122 100.5h1M127 100.5h1M143 100.5h1M145 100.5h1M151 100.5h1M158 100.5h2M213 100.5h1M31 101.5h1M57 101.5h1M106 101.5h1M117 101.5h1M123 101.5h2M128 101.5h1M144 101.5h1M147 101.5h1M162 101.5h1M171 101.5h1M173 101.5h1M178 101.5h1M181 101.5h1M72 102.5h1M99 102.5h1M105 102.5h1M107 102.5h1M110 102.5h1M131 102.5h2M152 102.5h1M162 102.5h1M168 102.5h1M22 103.5h1M76 103.5h1M80 103.5h1M101 103.5h1M108 103.5h1M116 103.5h1M118 103.5h1M128 103.5h2M136 103.5h1M140 103.5h1M152 103.5h3M181 103.5h1M50 104.5h1M66 104.5h1M99 104.5h1M103 104.5h1M117 104.5h1M125 104.5h1M133 104.5h1M136 104.5h1M144 104.5h1M152 104.5h1M190 104.5h1M104 105.5h1M110 105.5h1M126 105.5h1M131 105.5h1M135 105.5h1M141 105.5h1M145 105.5h2M153 105.5h1M168 105.5h1M203 105.5h1M20 106.5h1M66 106.5h1M80 106.5h1M90 106.5h1M92 106.5h1M100 106.5h1M119 106.5h1M131 106.5h1M134 106.5h1M146 106.5h2M150 106.5h1M154 106.5h1M160 106.5h1M175 106.5h1M188 106.5h1M93 107.5h1M114 107.5h1M117 107.5h1M119 107.5h1M127 107.5h2M148 107.5h1M166 107.5h2M176 107.5h1M63 108.5h1M89 108.5h2M93 108.5h1M114 108.5h1M123 108.5h1M128 108.5h1M148 108.5h1M150 108.5h1M153 108.5h1M155 108.5h1M172 108.5h1M178 108.5h1M180 108.5h1M83 109.5h1M96 109.5h2M101 109.5h1M112 109.5h1M114 109.5h1M125 109.5h1M142 109.5h1M147 109.5h1M158 109.5h1M163 109.5h1M169 109.5h1M42 110.5h1M64 110.5h1M78 110.5h1M82 110.5h1M100 110.5h1M119 110.5h1M126 110.5h1M128 110.5h1M132 110.5h3M151 110.5h1M157 110.5h1M164 110.5h1M179 110.5h1M191 110.5h1M206 110.5h1M14 111.5h1M24 111.5h1M75 111.5h1M80 111.5h1M91 111.5h1M98 111.5h1M104 111.5h1M108 111.5h1M115 111.5h1M126 111.5h1M128 111.5h2M139 111.5h1M147 111.5h1M153 111.5h1M171 111.5h1M174 111.5h1M177 111.5h1M179 111.5h1M186 111.5h1M85 112.5h1M87 112.5h2M96 112.5h1M99 112.5h1M102 112.5h1M104 112.5h1M107 112.5h1M134 112.5h1M138 112.5h1M145 112.5h1M150 112.5h2M161 112.5h1M164 112.5h2M172 112.5h1M174 112.5h2M186 112.5h1M74 113.5h1M118 113.5h1M121 113.5h1M134 113.5h1M139 113.5h2M145 113.5h1M179 113.5h1M5 114.5h2M44 114.5h1M88 114.5h1M97 114.5h1M121 114.5h1M123 114.5h1M127 114.5h3M134 114.5h2M139 114.5h1M142 114.5h1M146 114.5h1M150 114.5h1M153 114.5h1M158 114.5h1M162 114.5h1M166 114.5h1M169 114.5h1M176 114.5h1M186 114.5h1M197 114.5h1M43 115.5h1M48 115.5h2M87 115.5h1M102 115.5h1M121 115.5h1M126 115.5h1M130 115.5h1M138 115.5h1M143 115.5h1M146 115.5h3M152 115.5h1M154 115.5h1M160 115.5h1M162 115.5h2M174 115.5h1M178 115.5h1M16 116.5h1M59 116.5h1M75 116.5h1M84 116.5h1M90 116.5h1M115 116.5h1M117 116.5h1M120 116.5h2M142 116.5h1M144 116.5h1M157 116.5h1M87 117.5h1M121 117.5h1M140 117.5h1M151 117.5h2M157 117.5h1M160 117.5h2M166 117.5h1M170 117.5h1M173 117.5h1M182 117.5h1M48 118.5h1M56 118.5h1M60 118.5h1M65 118.5h1M79 118.5h1M87 118.5h1M91 118.5h1M97 118.5h1M102 118.5h1M104 118.5h1M111 118.5h2M118 118.5h1M122 118.5h1M127 118.5h1M129 118.5h1M137 118.5h1M139 118.5h1M153 118.5h1M157 118.5h1M163 118.5h1M174 118.5h1M177 118.5h2M15 119.5h1M79 119.5h1M89 119.5h1M98 119.5h1M112 119.5h1M116 119.5h1M118 119.5h3M128 119.5h3M133 119.5h2M137 119.5h1M139 119.5h2M142 119.5h1M146 119.5h1M149 119.5h1M156 119.5h3M167 119.5h1M170 119.5h1M175 119.5h1M194 119.5h1M63 120.5h1M67 120.5h1M88 120.5h1M95 120.5h1M97 120.5h1M105 120.5h1M108 120.5h1M133 120.5h1M136 120.5h1M141 120.5h1M150 120.5h1M154 120.5h1M156 120.5h2M160 120.5h1M162 120.5h1M165 120.5h1M170 120.5h1M177 120.5h1M181 120.5h1M32 121.5h1M72 121.5h1M90 121.5h1M102 121.5h1M106 121.5h1M109 121.5h1M113 121.5h1M116 121.5h1M120 121.5h2M126 121.5h1M133 121.5h1M145 121.5h4M152 121.5h1M154 121.5h1M156 121.5h1M163 121.5h1M182 121.5h1M187 121.5h1M87 122.5h1M96 122.5h1M106 122.5h1M110 122.5h1M115 122.5h1M124 122.5h1M127 122.5h1M130 122.5h1M141 122.5h1M143 122.5h2M155 122.5h3M161 122.5h1M167 122.5h1M174 122.5h1M181 122.5h1M194 122.5h1M36 123.5h1M79 123.5h1M89 123.5h2M107 123.5h1M111 123.5h1M124 123.5h1M128 123.5h2M143 123.5h2M146 123.5h1M149 123.5h1M152 123.5h1M154 123.5h4M160 123.5h1M163 123.5h1M172 123.5h1M175 123.5h1M193 123.5h1M2 124.5h1M7 124.5h1M16 124.5h1M54 124.5h1M86 124.5h1M96 124.5h1M103 124.5h1M108 124.5h1M111 124.5h1M113 124.5h2M119 124.5h1M124 124.5h2M129 124.5h3M134 124.5h1M139 124.5h2M143 124.5h1M146 124.5h1M148 124.5h1M151 124.5h1M166 124.5h1M61 125.5h1M84 125.5h1M100 125.5h1M105 125.5h1M115 125.5h1M119 125.5h2M124 125.5h2M129 125.5h1M136 125.5h1M141 125.5h3M147 125.5h1M149 125.5h1M154 125.5h1M159 125.5h1M174 125.5h2M39 126.5h1M61 126.5h1M76 126.5h1M86 126.5h1M90 126.5h1M95 126.5h2M98 126.5h2M107 126.5h1M116 126.5h1M123 126.5h1M125 126.5h1M127 126.5h3M136 126.5h1M139 126.5h1M141 126.5h1M143 126.5h1M151 126.5h1M154 126.5h2M161 126.5h1M171 126.5h1M179 126.5h1M182 126.5h1M2 127.5h1M92 127.5h1M102 127.5h1M104 127.5h2M115 127.5h1M117 127.5h1M120 127.5h1M127 127.5h1M132 127.5h1M135 127.5h1M145 127.5h1M148 127.5h1M150 127.5h1M152 127.5h1M155 127.5h3M162 127.5h1M168 127.5h2M173 127.5h1M182 127.5h1M185 127.5h1M200 127.5h1M55 128.5h1M96 128.5h1M101 128.5h2M110 128.5h1M118 128.5h1M122 128.5h1M127 128.5h1M133 128.5h1M135 128.5h1M144 128.5h1M147 128.5h2M154 128.5h1M162 128.5h1M166 128.5h2M202 128.5h1M20 129.5h1M86 129.5h2M95 129.5h1M103 129.5h2M112 129.5h1M117 129.5h1M122 129.5h1M125 129.5h1M127 129.5h2M130 129.5h1M135 129.5h1M141 129.5h2M149 129.5h2M154 129.5h1M157 129.5h2M165 129.5h1M169 129.5h1M172 129.5h2M175 129.5h1M178 129.5h1M182 129.5h1M58 130.5h1M93 130.5h1M103 130.5h1M106 130.5h1M116 130.5h1M126 130.5h1M130 130.5h1M133 130.5h2M137 130.5h2M142 130.5h1M147 130.5h2M151 130.5h2M154 130.5h1M160 130.5h2M164 130.5h1M175 130.5h1M197 130.5h1M14 131.5h1M25 131.5h1M93 131.5h1M104 131.5h1M106 131.5h1M109 131.5h1M115 131.5h2M124 131.5h1M129 131.5h1M132 131.5h1M138 131.5h1M145 131.5h1M148 131.5h1M150 131.5h1M152 131.5h1M158 131.5h1M160 131.5h2M163 131.5h1M169 131.5h1M173 131.5h1M180 131.5h1M190 131.5h3M197 131.5h1M3 132.5h1M28 132.5h1M46 132.5h1M76 132.5h1M103 132.5h1M107 132.5h1M119 132.5h3M124 132.5h1M128 132.5h2M132 132.5h1M136 132.5h1M138 132.5h1M145 132.5h1M154 132.5h1M156 132.5h1M160 132.5h1M166 132.5h1M172 132.5h1M180 132.5h1M185 132.5h1M189 132.5h1M11 133.5h2M16 133.5h1M25 133.5h1M54 133.5h1M72 133.5h1M103 133.5h1M105 133.5h1M110 133.5h1M112 133.5h1M117 133.5h2M121 133.5h1M130 133.5h1M135 133.5h1M139 133.5h1M142 133.5h1M148 133.5h1M152 133.5h1M157 133.5h1M159 133.5h1M173 133.5h1M186 133.5h1M188 133.5h2M27 134.5h1M32 134.5h1M48 134.5h1M53 134.5h1M70 134.5h1M86 134.5h1M91 134.5h1M100 134.5h1M102 134.5h1M104 134.5h2M109 134.5h1M113 134.5h1M115 134.5h1M118 134.5h1M121 134.5h1M131 134.5h1M133 134.5h1M135 134.5h1M138 134.5h2M146 134.5h1M165 134.5h1M172 134.5h1M190 134.5h1M27 135.5h1M42 135.5h1M98 135.5h2M102 135.5h1M104 135.5h1M108 135.5h1M113 135.5h3M117 135.5h1M126 135.5h1M128 135.5h1M133 135.5h1M136 135.5h1M141 135.5h1M148 135.5h1M150 135.5h1M154 135.5h1M162 135.5h1M2 136.5h1M20 136.5h1M55 136.5h1M68 136.5h1M82 136.5h1M116 136.5h2M120 136.5h1M128 136.5h1M130 136.5h1M132 136.5h2M141 136.5h1M143 136.5h2M146 136.5h1M153 136.5h1M161 136.5h1M163 136.5h1M166 136.5h1M175 136.5h1M187 136.5h1M35 137.5h1M42 137.5h1M74 137.5h1M98 137.5h1M102 137.5h1M110 137.5h1M112 137.5h2M115 137.5h1M118 137.5h1M124 137.5h3M130 137.5h1M134 137.5h1M144 137.5h2M149 137.5h2M164 137.5h1M179 137.5h1M186 137.5h1M45 138.5h1M50 138.5h1M52 138.5h1M81 138.5h1M84 138.5h1M97 138.5h1M108 138.5h1M113 138.5h1M115 138.5h1M117 138.5h1M119 138.5h2M124 138.5h1M126 138.5h2M129 138.5h1M132 138.5h1M138 138.5h1M142 138.5h1M145 138.5h1M148 138.5h1M151 138.5h1M157 138.5h4M162 138.5h1M170 138.5h1M174 138.5h1M182 138.5h1M27 139.5h1M46 139.5h1M53 139.5h1M62 139.5h1M104 139.5h1M112 139.5h1M118 139.5h1M120 139.5h1M122 139.5h4M129 139.5h1M134 139.5h1M136 139.5h1M138 139.5h2M142 139.5h1M148 139.5h1M150 139.5h3M159 139.5h1M161 139.5h1M166 139.5h1M173 139.5h3M177 139.5h2M187 139.5h1M24 140.5h1M38 140.5h1M45 140.5h1M96 140.5h1M118 140.5h1M123 140.5h2M130 140.5h1M133 140.5h1M136 140.5h2M140 140.5h2M143 140.5h1M147 140.5h2M153 140.5h1M160 140.5h1M164 140.5h2M169 140.5h3M175 140.5h1M179 140.5h2M185 140.5h1M191 140.5h1M39 141.5h1M46 141.5h1M51 141.5h1M57 141.5h1M91 141.5h1M108 141.5h1M111 141.5h1M120 141.5h1M122 141.5h1M128 141.5h2M131 141.5h2M136 141.5h1M138 141.5h1M141 141.5h3M151 141.5h2M157 141.5h1M162 141.5h2M166 141.5h1M186 141.5h1M44 142.5h1M83 142.5h1M87 142.5h1M104 142.5h1M106 142.5h1M108 142.5h1M111 142.5h2M118 142.5h1M120 142.5h1M126 142.5h1M131 142.5h5M138 142.5h1M144 142.5h1M149 142.5h1M151 142.5h1M153 142.5h1M174 142.5h1M176 142.5h1M187 142.5h1M50 143.5h1M70 143.5h1M102 143.5h1M108 143.5h1M127 143.5h1M130 143.5h1M134 143.5h1M139 143.5h1M142 143.5h1M146 143.5h4M155 143.5h1M158 143.5h1M160 143.5h4M169 143.5h1M177 143.5h1M182 143.5h1M185 143.5h1M78 144.5h1M82 144.5h1M84 144.5h2M91 144.5h1M93 144.5h2M98 144.5h1M107 144.5h1M112 144.5h1M114 144.5h2M118 144.5h1M122 144.5h1M124 144.5h2M127 144.5h3M135 144.5h2M139 144.5h2M142 144.5h1M144 144.5h1M147 144.5h1M157 144.5h1M160 144.5h1M165 144.5h1M168 144.5h1M173 144.5h1M175 144.5h1M200 144.5h1M207 144.5h1M3 145.5h1M14 145.5h1M19 145.5h1M40 145.5h1M102 145.5h3M113 145.5h2M118 145.5h1M123 145.5h1M127 145.5h1M130 145.5h1M135 145.5h1M141 145.5h1M145 145.5h1M149 145.5h1M151 145.5h1M166 145.5h2M170 145.5h2M174 145.5h1M178 145.5h1M182 145.5h1M184 145.5h1M12 146.5h1M14 146.5h1M92 146.5h1M100 146.5h2M105 146.5h1M107 146.5h1M110 146.5h2M114 146.5h1M120 146.5h1M124 146.5h1M126 146.5h1M132 146.5h2M135 146.5h1M139 146.5h2M143 146.5h1M145 146.5h1M148 146.5h1M150 146.5h2M154 146.5h1M160 146.5h3M164 146.5h1M172 146.5h1M177 146.5h1M179 146.5h1M184 146.5h1M186 146.5h1M39 147.5h1M57 147.5h1M71 147.5h1M78 147.5h1M92 147.5h1M95 147.5h1M99 147.5h1M105 147.5h1M112 147.5h1M117 147.5h1M124 147.5h1M127 147.5h1M139 147.5h2M146 147.5h1M149 147.5h4M159 147.5h2M163 147.5h1M165 147.5h1M169 147.5h1M174 147.5h1M188 147.5h1M40 148.5h1M55 148.5h1M77 148.5h1M97 148.5h1M114 148.5h1M117 148.5h1M119 148.5h2M123 148.5h1M127 148.5h1M132 148.5h2M141 148.5h1M144 148.5h1M149 148.5h1M151 148.5h1M154 148.5h2M160 148.5h1M162 148.5h1M164 148.5h3M177 148.5h1M179 148.5h1M12 149.5h1M25 149.5h1M71 149.5h1M87 149.5h1M101 149.5h1M110 149.5h3M116 149.5h1M119 149.5h5M126 149.5h1M130 149.5h2M134 149.5h2M138 149.5h1M140 149.5h2M143 149.5h1M146 149.5h1M148 149.5h1M152 149.5h1M154 149.5h4M163 149.5h2M170 149.5h1M175 149.5h1M178 149.5h1M181 149.5h1M192 149.5h1M40 150.5h1M80 150.5h1M113 150.5h2M118 150.5h1M120 150.5h1M122 150.5h1M125 150.5h2M130 150.5h1M132 150.5h1M136 150.5h3M141 150.5h2M146 150.5h2M150 150.5h1M153 150.5h1M155 150.5h2M158 150.5h1M160 150.5h1M163 150.5h1M167 150.5h2M183 150.5h1M48 151.5h1M67 151.5h1M96 151.5h1M101 151.5h1M103 151.5h2M112 151.5h1M117 151.5h2M126 151.5h1M128 151.5h1M133 151.5h1M136 151.5h3M140 151.5h4M146 151.5h1M156 151.5h1M162 151.5h1M164 151.5h1M168 151.5h1M171 151.5h1M174 151.5h1M183 151.5h1M199 151.5h1M23 152.5h1M54 152.5h1M62 152.5h1M64 152.5h1M85 152.5h1M88 152.5h1M90 152.5h1M94 152.5h1M96 152.5h1M105 152.5h1M112 152.5h1M116 152.5h1M120 152.5h1M126 152.5h1M128 152.5h2M137 152.5h1M143 152.5h1M145 152.5h1M149 152.5h1M154 152.5h1M158 152.5h4M164 152.5h1M167 152.5h1M169 152.5h3M173 152.5h1M194 152.5h1M47 153.5h1M64 153.5h1M80 153.5h1M85 153.5h1M88 153.5h1M92 153.5h1M100 153.5h1M102 153.5h1M108 153.5h1M112 153.5h1M121 153.5h2M129 153.5h1M132 153.5h1M136 153.5h2M140 153.5h2M145 153.5h4M150 153.5h2M162 153.5h2M169 153.5h1M173 153.5h1M177 153.5h1M188 153.5h1M0 154.5h1M25 154.5h1M108 154.5h1M110 154.5h1M115 154.5h3M123 154.5h2M126 154.5h1M129 154.5h2M136 154.5h1M145 154.5h1M147 154.5h2M152 154.5h1M154 154.5h1M156 154.5h1M158 154.5h1M161 154.5h2M168 154.5h2M171 154.5h1M173 154.5h2M176 154.5h1M181 154.5h1M184 154.5h1M189 154.5h1M56 155.5h1M60 155.5h1M85 155.5h1M103 155.5h1M106 155.5h1M112 155.5h1M115 155.5h1M121 155.5h1M136 155.5h1M138 155.5h1M141 155.5h3M145 155.5h2M148 155.5h2M154 155.5h1M159 155.5h1M163 155.5h3M171 155.5h1M174 155.5h2M71 156.5h1M85 156.5h1M88 156.5h1M93 156.5h1M104 156.5h1M109 156.5h1M112 156.5h1M118 156.5h1M123 156.5h1M130 156.5h1M137 156.5h2M142 156.5h1M147 156.5h1M150 156.5h1M157 156.5h1M168 156.5h2M187 156.5h1M15 157.5h1M24 157.5h1M26 157.5h1M39 157.5h1M41 157.5h1M47 157.5h1M54 157.5h1M99 157.5h1M120 157.5h1M129 157.5h1M132 157.5h3M140 157.5h1M142 157.5h1M144 157.5h1M148 157.5h1M150 157.5h1M156 157.5h1M158 157.5h1M160 157.5h1M163 157.5h1M165 157.5h1M170 157.5h1M172 157.5h1M175 157.5h1M177 157.5h1M179 157.5h1M184 157.5h1M203 157.5h1M9 158.5h1M26 158.5h1M75 158.5h2M82 158.5h1M93 158.5h2M96 158.5h1M102 158.5h1M112 158.5h1M118 158.5h2M123 158.5h1M125 158.5h1M127 158.5h1M130 158.5h3M139 158.5h1M142 158.5h2M145 158.5h1M147 158.5h1M150 158.5h1M152 158.5h2M156 158.5h2M159 158.5h3M173 158.5h1M190 158.5h1M192 158.5h1M90 159.5h1M93 159.5h1M99 159.5h1M107 159.5h1M113 159.5h1M128 159.5h1M132 159.5h1M136 159.5h2M144 159.5h1M146 159.5h1M148 159.5h1M152 159.5h1M155 159.5h1M158 159.5h1M160 159.5h1M164 159.5h1M168 159.5h1M170 159.5h1M173 159.5h1M178 159.5h1M187 159.5h1M191 159.5h1M13 160.5h1M58 160.5h1M88 160.5h1M101 160.5h1M109 160.5h1M115 160.5h1M118 160.5h2M121 160.5h1M123 160.5h1M131 160.5h1M136 160.5h5M142 160.5h2M150 160.5h1M153 160.5h1M157 160.5h1M165 160.5h2M173 160.5h1M187 160.5h1M4 161.5h1M16 161.5h1M28 161.5h1M31 161.5h1M55 161.5h1M90 161.5h1M93 161.5h2M99 161.5h1M108 161.5h1M111 161.5h1M117 161.5h1M119 161.5h1M124 161.5h1M128 161.5h1M130 161.5h4M140 161.5h1M142 161.5h2M146 161.5h1M148 161.5h3M152 161.5h2M157 161.5h1M160 161.5h1M167 161.5h1M182 161.5h1M188 161.5h1M61 162.5h1M63 162.5h1M85 162.5h1M98 162.5h1M104 162.5h2M108 162.5h1M112 162.5h1M116 162.5h4M126 162.5h1M131 162.5h1M133 162.5h1M137 162.5h1M139 162.5h1M142 162.5h2M145 162.5h1M148 162.5h3M158 162.5h2M163 162.5h1M165 162.5h1M169 162.5h2M176 162.5h1M178 162.5h1M185 162.5h1M10 163.5h1M16 163.5h1M57 163.5h1M71 163.5h1M91 163.5h1M101 163.5h1M113 163.5h2M118 163.5h1M122 163.5h1M126 163.5h1M130 163.5h2M134 163.5h1M136 163.5h1M138 163.5h1M145 163.5h2M158 163.5h1M160 163.5h1M162 163.5h3M167 163.5h1M169 163.5h1M178 163.5h1M183 163.5h1M185 163.5h1M193 163.5h1M24 164.5h1M48 164.5h1M53 164.5h1M77 164.5h1M99 164.5h1M103 164.5h1M108 164.5h2M113 164.5h1M117 164.5h1M129 164.5h3M134 164.5h2M142 164.5h2M150 164.5h4M155 164.5h1M158 164.5h2M162 164.5h2M166 164.5h1M172 164.5h1M180 164.5h1M194 164.5h2M60 165.5h1M74 165.5h1M84 165.5h1M91 165.5h1M94 165.5h1M111 165.5h1M115 165.5h1M117 165.5h1M121 165.5h1M125 165.5h2M132 165.5h1M134 165.5h1M144 165.5h2M147 165.5h2M151 165.5h1M156 165.5h2M160 165.5h1M162 165.5h1M164 165.5h3M168 165.5h1M176 165.5h1M185 165.5h1M187 165.5h1M30 166.5h1M35 166.5h1M38 166.5h1M51 166.5h1M83 166.5h1M100 166.5h1M104 166.5h3M113 166.5h1M116 166.5h1M121 166.5h1M131 166.5h1M133 166.5h1M136 166.5h1M139 166.5h1M145 166.5h2M149 166.5h2M152 166.5h1M155 166.5h1M157 166.5h2M160 166.5h1M162 166.5h1M166 166.5h1M178 166.5h1M191 166.5h2M26 167.5h1M92 167.5h1M95 167.5h1M99 167.5h1M103 167.5h1M112 167.5h1M125 167.5h3M129 167.5h1M137 167.5h3M141 167.5h2M146 167.5h2M157 167.5h1M161 167.5h1M165 167.5h2M168 167.5h1M170 167.5h1M185 167.5h1M190 167.5h1M15 168.5h1M78 168.5h1M82 168.5h1M85 168.5h1M91 168.5h1M107 168.5h2M121 168.5h1M129 168.5h1M133 168.5h1M135 168.5h1M138 168.5h1M141 168.5h1M147 168.5h1M154 168.5h3M161 168.5h2M165 168.5h1M169 168.5h4M178 168.5h1M29 169.5h1M77 169.5h1M107 169.5h1M113 169.5h1M122 169.5h1M128 169.5h1M130 169.5h1M133 169.5h1M137 169.5h2M142 169.5h1M145 169.5h2M158 169.5h1M162 169.5h1M164 169.5h3M170 169.5h1M14 170.5h1M86 170.5h1M88 170.5h1M91 170.5h1M105 170.5h1M121 170.5h3M125 170.5h1M129 170.5h1M133 170.5h1M135 170.5h2M138 170.5h1M140 170.5h2M145 170.5h2M156 170.5h3M160 170.5h1M162 170.5h1M167 170.5h1M175 170.5h1M180 170.5h2M192 170.5h1M47 171.5h1M73 171.5h1M79 171.5h1M100 171.5h1M117 171.5h1M127 171.5h2M134 171.5h1M144 171.5h1M146 171.5h1M148 171.5h1M151 171.5h3M157 171.5h2M167 171.5h2M173 171.5h1M188 171.5h1M199 171.5h1M93 172.5h1M108 172.5h1M117 172.5h1M122 172.5h2M131 172.5h1M141 172.5h1M144 172.5h2M148 172.5h1M153 172.5h1M161 172.5h3M168 172.5h2M176 172.5h1M181 172.5h1M93 173.5h1M120 173.5h1M122 173.5h1M124 173.5h1M128 173.5h1M132 173.5h1M145 173.5h2M149 173.5h1M151 173.5h1M157 173.5h2M160 173.5h1M164 173.5h1M168 173.5h2M177 173.5h1M186 173.5h1M17 174.5h1M66 174.5h1M90 174.5h1M92 174.5h1M105 174.5h1M108 174.5h1M113 174.5h1M120 174.5h1M137 174.5h3M141 174.5h1M144 174.5h1M146 174.5h2M150 174.5h1M152 174.5h1M154 174.5h1M156 174.5h1M159 174.5h1M161 174.5h1M169 174.5h1M182 174.5h1M188 174.5h1M6 175.5h1M53 175.5h1M85 175.5h1M98 175.5h1M118 175.5h1M128 175.5h1M137 175.5h1M143 175.5h2M146 175.5h1M155 175.5h1M157 175.5h1M165 175.5h2M170 175.5h3M175 175.5h1M179 175.5h1M183 175.5h1M95 176.5h1M100 176.5h1M122 176.5h1M124 176.5h1M130 176.5h2M134 176.5h1M137 176.5h1M140 176.5h2M144 176.5h5M150 176.5h2M153 176.5h1M155 176.5h1M157 176.5h1M171 176.5h1M175 176.5h1M189 176.5h1M16 177.5h1M27 177.5h1M54 177.5h1M94 177.5h1M105 177.5h1M115 177.5h1M118 177.5h1M134 177.5h1M137 177.5h1M143 177.5h1M159 177.5h1M163 177.5h2M166 177.5h2M171 177.5h1M180 177.5h1M190 177.5h1M194 177.5h1M118 178.5h1M123 178.5h2M128 178.5h3M139 178.5h1M141 178.5h1M147 178.5h2M152 178.5h1M154 178.5h1M158 178.5h1M160 178.5h1M162 178.5h1M166 178.5h1M174 178.5h1M180 178.5h1M183 178.5h1M86 179.5h1M90 179.5h1M111 179.5h1M120 179.5h1M122 179.5h1M126 179.5h1M129 179.5h1M131 179.5h1M138 179.5h1M140 179.5h1M149 179.5h1M153 179.5h1M157 179.5h1M180 179.5h1M107 180.5h1M129 180.5h1M133 180.5h1M139 180.5h1M146 180.5h2M149 180.5h1M195 180.5h1M71 181.5h1M106 181.5h1M135 181.5h1M142 181.5h1M146 181.5h2M152 181.5h1M169 181.5h1M172 181.5h1M177 181.5h1M182 181.5h1M20 182.5h1M34 182.5h1M90 182.5h2M101 182.5h1M127 182.5h2M135 182.5h1M142 182.5h1M144 182.5h1M157 182.5h1M163 182.5h1M166 182.5h1M170 182.5h1M174 182.5h1M177 182.5h1M184 182.5h1M13 183.5h1M60 183.5h1M114 183.5h1M126 183.5h1M134 183.5h2M138 183.5h2M144 183.5h1M146 183.5h1M158 183.5h1M161 183.5h1M164 183.5h1M170 183.5h1M175 183.5h1M80 184.5h1M87 184.5h1M94 184.5h1M120 184.5h1M126 184.5h1M132 184.5h1M135 184.5h1M149 184.5h1M153 184.5h1M166 184.5h1M47 185.5h1M98 185.5h1M117 185.5h1M119 185.5h1M126 185.5h1M128 185.5h1M136 185.5h2M145 185.5h1M153 185.5h1M155 185.5h1M157 185.5h1M168 185.5h1M176 185.5h1M189 185.5h1M199 185.5h1M20 186.5h1M55 186.5h1M84 186.5h1M102 186.5h1M115 186.5h1M136 186.5h1M139 186.5h1M147 186.5h2M152 186.5h1M154 186.5h1M160 186.5h1M164 186.5h1M171 186.5h2M183 186.5h1M186 186.5h2M197 186.5h1M200 186.5h1M38 187.5h1M101 187.5h1M108 187.5h1M122 187.5h1M146 187.5h1M149 187.5h2M153 187.5h1M157 187.5h1M161 187.5h1M174 187.5h1M186 187.5h1M188 187.5h1M58 188.5h1M128 188.5h1M132 188.5h1M134 188.5h2M141 188.5h1M147 188.5h1M150 188.5h1M154 188.5h3M165 188.5h2M170 188.5h2M177 188.5h1M190 188.5h1M116 189.5h1M123 189.5h1M137 189.5h1M142 189.5h1M148 189.5h1M158 189.5h1M162 189.5h1M171 189.5h1M174 189.5h1M39 190.5h1M134 190.5h1M144 190.5h1M157 190.5h2M161 190.5h1M168 190.5h1M177 190.5h1M187 190.5h1M54 191.5h1M134 191.5h2M142 191.5h1M167 191.5h1M181 191.5h1M95 192.5h1M101 192.5h1M118 192.5h1M151 192.5h2M154 192.5h1M160 192.5h1M165 192.5h1M182 192.5h1M77 193.5h1M90 193.5h1M105 193.5h1M135 193.5h1M144 193.5h1M148 193.5h1M152 193.5h1M166 193.5h1M106 194.5h1M126 194.5h1M190 194.5h1M158 195.5h1M176 195.5h1M182 195.5h1M45 196.5h1M123 196.5h1M125 196.5h1M130 196.5h1M152 196.5h1M156 196.5h1M127 197.5h1M138 197.5h1M147 197.5h1M159 197.5h2M60 198.5h1M90 198.5h1M138 198.5h1M141 198.5h1M175 198.5h1M192 198.5h1M64 199.5h1M178 199.5h1M186 199.5h1M37 200.5h1M183 200.5h1M53 201.5h1M178 201.5h1M126 202.5h1M156 202.5h1M162 202.5h1M154 203.5h1M161 205.5h1M158 206.5h1M178 210.5h1M51 211.5h1M150 212.5h1M161 214.5h1M62 216.5h1"/><path stroke="#00ff00" d="M15 0.5h1M21 0.5h1M23 0.5h1M11 1.5h1M17 1.5h1M19 1.5h1M26 1.5h1M35 1.5h1M39 1.5h1M48 1.5h1M25 2.5h1M39 2.5h2M45 3.5h1M56 3.5h1M61 3.5h1M15 4.5h1M17 4.5h1M30 4.5h1M35 4.5h1M42 4.5h1M13 5.5h1M19 5.5h2M57 5.5h1M5 6.5h1M14 6.5h1M31 6.5h3M35 6.5h2M1 7.5h1M4 7.5h1M9 7.5h1M12 7.5h1M16 7.5h1M19 7.5h1M32 7.5h2M35 7.5h1M5 8.5h1M9 8.5h1M15 8.5h2M20 8.5h1M23 8.5h1M28 8.5h2M37 8.5h1M6 9.5h1M10 9.5h1M16 9.5h1M23 9.5h2M27 9.5h2M30 9.5h1M32 9.5h1M35 9.5h1M49 9.5h1M51 9.5h1M2 10.5h2M27 10.5h1M30 10.5h1M49 10.5h1M1 11.5h1M8 11.5h1M14 11.5h1M17 11.5h1M20 11.5h1M22 11.5h2M26 11.5h1M28 11.5h1M33 11.5h1M2 12.5h1M4 12.5h1M7 12.5h1M11 12.5h2M17 12.5h4M22 12.5h2M28 12.5h1M30 12.5h1M38 12.5h1M43 12.5h1M47 12.5h2M64 12.5h1M19 13.5h1M32 13.5h1M36 13.5h2M39 13.5h1M41 13.5h1M52 13.5h1M3 14.5h1M7 14.5h1M15 14.5h1M17 14.5h1M46 14.5h1M7 15.5h1M10 15.5h1M17 15.5h1M19 15.5h1M21 15.5h2M24 15.5h1M26 15.5h1M28 15.5h3M53 15.5h1M18 16.5h1M41 16.5h2M47 16.5h1M55 16.5h1M65 16.5h1M3 17.5h2M11 17.5h1M19 17.5h1M22 17.5h3M27 17.5h1M30 17.5h1M35 17.5h1M38 17.5h1M44 17.5h1M47 17.5h1M49 17.5h1M8 18.5h1M32 18.5h1M38 18.5h1M40 18.5h1M54 18.5h1M64 18.5h1M2 19.5h1M10 19.5h1M15 19.5h2M22 19.5h1M24 19.5h1M29 19.5h1M33 19.5h1M35 19.5h1M41 19.5h1M53 19.5h1M57 19.5h1M62 19.5h1M5 20.5h1M10 20.5h1M13 20.5h1M20 20.5h1M22 20.5h1M24 20.5h2M29 20.5h1M33 20.5h2M39 20.5h1M48 20.5h2M51 20.5h2M55 20.5h1M4 21.5h1M6 21.5h1M9 21.5h1M14 21.5h2M20 21.5h2M23 21.5h2M30 21.5h1M36 21.5h1M44 21.5h1M46 21.5h2M50 21.5h1M55 21.5h2M65 21.5h1M8 22.5h1M10 22.5h1M19 22.5h1M22 22.5h5M29 22.5h1M31 22.5h1M34 22.5h1M39 22.5h2M50 22.5h1M54 22.5h1M9 23.5h2M16 23.5h1M18 23.5h1M22 23.5h2M29 23.5h2M38 23.5h3M45 23.5h1M54 23.5h1M59 23.5h1M68 23.5h1M2 24.5h1M6 24.5h1M8 24.5h1M14 24.5h1M19 24.5h1M25 24.5h1M27 24.5h1M33 24.5h4M42 24.5h2M45 24.5h1M53 24.5h1M55 24.5h2M59 24.5h1M3 25.5h1M21 25.5h2M26 25.5h2M29 25.5h1M35 25.5h2M41 25.5h1M46 25.5h1M56 25.5h1M58 25.5h1M62 25.5h2M65 25.5h1M2 26.5h1M7 26.5h1M11 26.5h1M13 26.5h1M16 26.5h1M27 26.5h1M31 26.5h1M33 26.5h1M40 26.5h1M43 26.5h1M49 26.5h2M54 26.5h1M56 26.5h2M8 27.5h1M11 27.5h2M25 27.5h1M30 27.5h2M33 27.5h1M36 27.5h1M42 27.5h1M48 27.5h3M56 27.5h1M59 27.5h1M0 28.5h1M5 28.5h1M8 28.5h1M17 28.5h2M20 28.5h1M22 28.5h2M25 28.5h1M27 28.5h1M35 28.5h1M42 28.5h1M47 28.5h2M50 28.5h1M55 28.5h1M61 28.5h1M66 28.5h1M5 29.5h1M12 29.5h1M14 29.5h1M24 29.5h1M27 29.5h3M34 29.5h1M37 29.5h1M45 29.5h2M50 29.5h1M52 29.5h2M57 29.5h1M0 30.5h1M10 30.5h1M19 30.5h1M23 30.5h2M31 30.5h1M35 30.5h1M42 30.5h2M45 30.5h2M48 30.5h1M51 30.5h1M55 30.5h1M57 30.5h1M64 30.5h1M1 31.5h1M6 31.5h1M9 31.5h2M14 31.5h1M19 31.5h1M30 31.5h1M35 31.5h1M37 31.5h1M45 31.5h1M50 31.5h1M56 31.5h1M61 31.5h1M2 32.5h1M10 32.5h1M23 32.5h1M26 32.5h1M30 32.5h1M35 32.5h1M42 32.5h2M52 32.5h1M62 32.5h2M3 33.5h1M9 33.5h1M14 33.5h2M17 33.5h1M20 33.5h2M24 33.5h2M28 33.5h1M30 33.5h2M33 33.5h1M38 33.5h1M42 33.5h1M47 33.5h3M54 33.5h1M59 33.5h1M64 33.5h1M66 33.5h1M3 34.5h1M9 34.5h1M23 34.5h3M31 34.5h3M37 34.5h1M39 34.5h3M48 34.5h1M52 34.5h1M55 34.5h1M60 34.5h1M63 34.5h1M83 34.5h1M9 35.5h1M11 35.5h1M13 35.5h2M17 35.5h1M20 35.5h1M35 35.5h1M39 35.5h1M45 35.5h1M50 35.5h1M54 35.5h1M61 35.5h2M67 35.5h1M9 36.5h2M12 36.5h1M18 36.5h2M21 36.5h1M29 36.5h1M35 36.5h1M44 36.5h1M50 36.5h3M54 36.5h2M57 36.5h1M59 36.5h1M62 36.5h1M2 37.5h1M5 37.5h1M10 37.5h1M23 37.5h3M29 37.5h1M31 37.5h2M39 37.5h1M42 37.5h3M49 37.5h1M62 37.5h1M68 37.5h1M1 38.5h1M8 38.5h1M12 38.5h1M14 38.5h1M25 38.5h1M27 38.5h6M35 38.5h1M39 38.5h1M41 38.5h2M48 38.5h2M54 38.5h2M62 38.5h1M83 38.5h1M13 39.5h1M15 39.5h1M20 39.5h1M28 39.5h1M30 39.5h1M38 39.5h1M40 39.5h4M47 39.5h1M49 39.5h2M62 39.5h1M10 40.5h1M15 40.5h1M18 40.5h1M21 40.5h3M25 40.5h1M32 40.5h1M38 40.5h1M41 40.5h1M56 40.5h2M59 40.5h1M65 40.5h1M69 40.5h1M75 40.5h1M23 41.5h1M30 41.5h1M33 41.5h2M36 41.5h1M40 41.5h1M44 41.5h1M52 41.5h2M57 41.5h1M59 41.5h1M63 41.5h1M8 42.5h1M10 42.5h1M12 42.5h1M14 42.5h1M22 42.5h1M24 42.5h1M34 42.5h1M38 42.5h2M44 42.5h1M47 42.5h1M58 42.5h1M61 42.5h1M64 42.5h1M78 42.5h1M11 43.5h2M16 43.5h2M29 43.5h1M41 43.5h1M43 43.5h1M45 43.5h1M47 43.5h1M53 43.5h2M57 43.5h1M72 43.5h2M99 43.5h1M11 44.5h1M17 44.5h1M20 44.5h2M27 44.5h1M31 44.5h1M39 44.5h1M42 44.5h1M48 44.5h2M53 44.5h1M61 44.5h1M63 44.5h1M65 44.5h1M84 44.5h1M8 45.5h1M16 45.5h1M24 45.5h2M29 45.5h1M36 45.5h1M42 45.5h2M45 45.5h2M48 45.5h1M51 45.5h1M55 45.5h1M70 45.5h1M18 46.5h2M33 46.5h3M49 46.5h1M51 46.5h1M57 46.5h1M61 46.5h1M68 46.5h1M74 46.5h1M6 47.5h1M15 47.5h2M20 47.5h1M22 47.5h1M24 47.5h1M26 47.5h2M33 47.5h1M38 47.5h1M42 47.5h1M49 47.5h2M52 47.5h2M59 47.5h1M61 47.5h1M63 47.5h1M21 48.5h1M29 48.5h2M32 48.5h2M35 48.5h1M37 48.5h1M41 48.5h1M45 48.5h1M53 48.5h1M58 48.5h1M61 48.5h2M89 48.5h1M19 49.5h1M22 49.5h1M34 49.5h3M38 49.5h3M42 49.5h1M47 49.5h1M50 49.5h1M52 49.5h1M56 49.5h1M21 50.5h1M26 50.5h1M28 50.5h1M35 50.5h1M37 50.5h2M46 50.5h1M24 51.5h1M28 51.5h1M35 51.5h5M42 51.5h2M47 51.5h1M49 51.5h2M14 52.5h1M20 52.5h3M24 52.5h3M37 52.5h1M39 52.5h2M44 52.5h1M51 52.5h1M53 52.5h2M61 52.5h1M64 52.5h2M25 53.5h1M30 53.5h1M35 53.5h3M45 53.5h1M47 53.5h1M67 53.5h1M86 53.5h1M18 54.5h1M25 54.5h2M35 54.5h1M37 54.5h1M44 54.5h1M47 54.5h2M52 54.5h1M54 54.5h2M18 55.5h1M24 55.5h1M33 55.5h3M43 55.5h2M47 55.5h1M61 55.5h1M26 56.5h1M32 56.5h1M34 56.5h2M39 56.5h1M43 56.5h1M45 56.5h1M51 56.5h1M66 56.5h2M18 57.5h1M31 57.5h1M33 57.5h1M49 57.5h1M61 57.5h1M65 57.5h1M67 57.5h1M72 57.5h1M74 57.5h1M100 57.5h1M30 58.5h1M32 58.5h2M44 58.5h2M54 58.5h1M62 58.5h1M33 59.5h3M42 59.5h1M44 59.5h2M48 59.5h1M50 59.5h1M59 59.5h1M66 59.5h1M73 59.5h1M33 60.5h2M37 60.5h1M44 60.5h1M47 60.5h1M51 60.5h1M66 60.5h1M40 61.5h4M45 61.5h1M47 61.5h1M49 61.5h1M57 61.5h1M32 62.5h1M37 62.5h1M41 62.5h2M44 62.5h1M46 62.5h2M55 62.5h1M82 62.5h1M46 63.5h1M60 63.5h1M73 63.5h1M33 64.5h1M45 64.5h1M77 64.5h1M33 65.5h1M48 65.5h1M60 65.5h1M68 65.5h1M79 65.5h1M44 66.5h2M52 66.5h1M58 66.5h1M82 66.5h1M39 67.5h1M49 67.5h1M54 67.5h1M106 67.5h1M54 68.5h1M47 69.5h1M63 69.5h1M55 70.5h1M64 73.5h1M74 73.5h1M70 74.5h1M59 75.5h1M93 78.5h1M146 78.5h1M163 79.5h1M59 86.5h1M76 86.5h1M117 86.5h1M162 87.5h1M108 88.5h1M149 89.5h1M162 89.5h1M91 90.5h1M62 91.5h1M66 95.5h1M110 95.5h1M133 96.5h1M151 97.5h1M118 98.5h1M130 100.5h1M136 100.5h1M117 103.5h1M148 103.5h1M146 104.5h1M132 108.5h1M168 109.5h1M88 111.5h1M127 111.5h1M161 111.5h1M133 112.5h1M163 114.5h1M104 115.5h1M113 116.5h1M141 116.5h1M116 118.5h1M158 118.5h1M100 119.5h1M179 119.5h1M126 120.5h1M142 120.5h1M155 120.5h1M155 121.5h1M148 122.5h1M168 122.5h1M133 123.5h1M171 123.5h1M173 123.5h1M188 123.5h1M118 124.5h1M120 124.5h1M135 124.5h1M140 125.5h1M150 125.5h1M182 125.5h1M122 126.5h1M130 126.5h1M137 126.5h1M145 126.5h1M147 126.5h1M103 127.5h1M154 127.5h1M167 127.5h1M114 128.5h1M145 128.5h1M150 128.5h1M164 128.5h1M118 129.5h1M145 129.5h1M174 129.5h1M108 130.5h1M120 130.5h1M129 130.5h1M150 130.5h1M130 131.5h1M135 131.5h1M141 131.5h1M151 131.5h1M122 132.5h1M130 132.5h1M140 132.5h1M136 133.5h1M138 133.5h1M155 133.5h1M161 133.5h1M137 134.5h1M140 134.5h1M153 134.5h1M120 135.5h1M122 135.5h1M131 135.5h1M144 135.5h1M149 135.5h1M170 135.5h1M125 136.5h1M137 136.5h1M150 136.5h1M155 136.5h1M121 137.5h1M141 137.5h1M151 137.5h1M161 137.5h1M163 137.5h1M133 138.5h1M143 138.5h1M150 138.5h1M114 139.5h1M145 139.5h1M149 139.5h1M134 140.5h1M142 140.5h1M151 140.5h1M155 140.5h1M167 140.5h1M124 141.5h1M144 141.5h1M149 141.5h1M158 141.5h1M160 141.5h1M179 141.5h1M1 142.5h1M130 142.5h1M139 142.5h1M145 142.5h1M152 142.5h1M136 143.5h1M140 143.5h1M143 143.5h1M153 143.5h1M164 143.5h2M174 143.5h1M116 144.5h1M123 144.5h1M132 144.5h1M161 144.5h3M131 145.5h1M137 145.5h1M155 145.5h1M160 145.5h1M121 146.5h1M153 146.5h1M158 146.5h1M166 146.5h1M86 147.5h1M130 147.5h1M135 147.5h1M137 147.5h1M145 147.5h1M161 147.5h1M168 147.5h1M175 147.5h1M98 148.5h1M113 148.5h1M130 148.5h1M139 148.5h1M152 148.5h2M161 148.5h1M170 148.5h2M106 149.5h1M129 149.5h1M133 149.5h1M136 149.5h1M142 149.5h1M144 149.5h1M151 149.5h1M158 149.5h1M167 149.5h1M169 149.5h1M131 150.5h1M134 150.5h1M143 150.5h2M149 150.5h1M159 150.5h1M114 151.5h1M129 151.5h1M132 151.5h1M139 151.5h1M147 151.5h1M151 151.5h3M123 152.5h1M140 152.5h1M142 152.5h1M148 152.5h1M152 152.5h2M133 153.5h1M138 153.5h1M154 153.5h1M159 153.5h1M165 153.5h1M167 153.5h1M125 154.5h1M127 154.5h1M134 154.5h1M138 154.5h1M140 154.5h1M149 154.5h1M153 154.5h1M160 154.5h1M180 154.5h1M123 155.5h1M140 155.5h1M150 155.5h2M156 155.5h1M166 155.5h2M177 155.5h1M115 156.5h1M122 156.5h1M124 156.5h1M133 156.5h1M135 156.5h1M145 156.5h2M148 156.5h2M151 156.5h1M154 156.5h1M161 156.5h1M130 157.5h1M145 157.5h1M147 157.5h1M149 157.5h1M153 157.5h1M155 157.5h1M161 157.5h1M164 157.5h1M121 158.5h1M138 158.5h1M140 158.5h1M144 158.5h1M148 158.5h2M163 158.5h2M168 158.5h1M123 159.5h1M141 159.5h1M147 159.5h1M154 159.5h1M162 159.5h1M60 160.5h1M117 160.5h1M135 160.5h1M144 160.5h1M146 160.5h1M149 160.5h1M155 160.5h1M180 160.5h1M139 161.5h1M151 161.5h1M159 161.5h1M164 161.5h2M128 162.5h1M175 162.5h1M179 162.5h1M184 162.5h1M132 163.5h1M144 163.5h1M170 163.5h1M124 164.5h2M138 164.5h2M88 165.5h1M95 165.5h1M123 165.5h1M130 165.5h1M135 165.5h2M143 165.5h1M169 165.5h1M181 165.5h1M159 166.5h1M135 167.5h1M140 167.5h1M145 167.5h1M148 167.5h2M164 167.5h1M169 167.5h1M131 168.5h2M150 168.5h1M152 168.5h2M168 168.5h1M127 169.5h1M139 169.5h1M152 169.5h1M159 169.5h1M127 170.5h1M155 170.5h1M169 170.5h1M110 171.5h1M130 171.5h1M132 171.5h1M143 171.5h1M163 171.5h1M133 172.5h1M156 172.5h1M173 172.5h1M126 173.5h1M135 173.5h1M171 173.5h1M181 173.5h1M149 174.5h1M54 176.5h1M135 176.5h1M173 176.5h1M136 177.5h1M144 177.5h1M153 177.5h1M146 178.5h1M154 179.5h1M164 179.5h1M173 180.5h1M131 181.5h1M151 181.5h1M154 181.5h1M156 181.5h1M180 181.5h1M156 182.5h1M153 183.5h1M155 183.5h1M144 184.5h1M138 185.5h1M141 185.5h1M149 185.5h1M182 186.5h1M164 187.5h1M164 188.5h1M146 192.5h1M193 196.5h1"/><path stroke="#e8ff00" d="M18 3.5h1M47 3.5h1M27 4.5h1M17 5.5h1M11 7.5h1M21 7.5h2M24 7.5h1M29 7.5h1M52 7.5h1M18 8.5h1M7 9.5h1M15 9.5h1M20 10.5h1M28 10.5h1M31 10.5h1M41 10.5h1M13 11.5h1M19 11.5h1M37 11.5h2M10 12.5h1M15 12.5h2M26 12.5h2M36 12.5h1M8 13.5h1M22 13.5h1M25 13.5h1M12 14.5h1M25 14.5h1M20 15.5h1M48 15.5h1M23 16.5h1M30 16.5h1M38 16.5h1M48 16.5h1M12 18.5h1M16 18.5h2M21 18.5h1M27 18.5h2M59 18.5h1M18 19.5h1M28 19.5h1M30 19.5h2M42 19.5h1M44 19.5h1M15 20.5h2M41 20.5h1M45 20.5h1M50 20.5h1M19 21.5h1M28 21.5h1M34 21.5h1M40 21.5h1M43 21.5h1M48 21.5h1M51 21.5h1M16 22.5h1M20 22.5h1M27 22.5h1M32 22.5h1M2 23.5h1M13 23.5h1M21 23.5h1M24 23.5h2M47 23.5h1M5 24.5h1M12 24.5h2M15 24.5h1M17 24.5h1M23 24.5h1M28 24.5h1M38 24.5h1M44 24.5h1M4 25.5h1M6 25.5h1M8 25.5h2M23 25.5h1M28 25.5h1M32 25.5h2M39 25.5h1M43 25.5h1M51 25.5h1M60 25.5h1M10 26.5h1M17 26.5h3M21 26.5h1M32 26.5h1M35 26.5h1M38 26.5h2M48 26.5h1M67 26.5h1M7 27.5h1M17 27.5h3M52 27.5h1M11 28.5h1M21 28.5h1M24 28.5h1M26 28.5h1M29 28.5h1M34 28.5h1M36 28.5h1M40 28.5h1M49 28.5h1M56 28.5h1M17 29.5h1M21 29.5h1M26 29.5h1M32 29.5h1M39 29.5h1M48 29.5h1M20 30.5h1M26 30.5h3M30 30.5h1M38 30.5h1M40 30.5h1M50 30.5h1M17 31.5h2M24 31.5h2M38 31.5h1M48 31.5h1M52 31.5h1M55 31.5h1M57 31.5h1M14 32.5h1M18 32.5h3M22 32.5h1M25 32.5h1M36 32.5h1M39 32.5h2M45 32.5h1M5 33.5h1M8 33.5h1M13 33.5h1M23 33.5h1M34 33.5h1M37 33.5h1M40 33.5h1M46 33.5h1M18 34.5h2M26 34.5h1M28 34.5h1M34 34.5h1M36 34.5h1M38 34.5h1M43 34.5h1M47 34.5h1M12 35.5h1M16 35.5h1M23 35.5h1M28 35.5h1M34 35.5h1M36 35.5h1M41 35.5h1M47 35.5h3M13 36.5h1M26 36.5h2M34 36.5h1M38 36.5h1M40 36.5h1M12 37.5h1M17 37.5h1M22 37.5h1M26 37.5h2M40 37.5h1M51 37.5h1M26 38.5h1M44 38.5h1M70 38.5h1M17 39.5h1M35 39.5h1M55 39.5h1M27 40.5h3M31 40.5h1M40 40.5h1M48 40.5h1M50 40.5h1M24 41.5h2M28 41.5h1M39 41.5h1M41 41.5h2M46 41.5h1M58 41.5h1M60 41.5h1M31 42.5h1M40 42.5h3M51 42.5h1M55 42.5h1M19 43.5h3M27 43.5h2M34 43.5h2M38 43.5h1M42 43.5h1M48 43.5h1M14 44.5h1M18 44.5h2M22 44.5h1M25 44.5h2M30 44.5h1M37 44.5h1M60 44.5h1M67 44.5h1M17 45.5h1M19 45.5h1M22 45.5h1M28 45.5h1M31 45.5h1M35 45.5h1M38 45.5h1M47 45.5h1M57 45.5h1M60 45.5h1M23 46.5h1M27 46.5h2M36 46.5h1M43 46.5h1M50 46.5h1M55 46.5h1M60 46.5h1M17 47.5h1M30 47.5h1M36 47.5h1M48 47.5h1M39 48.5h1M49 48.5h1M52 48.5h1M27 49.5h2M30 49.5h1M43 49.5h1M49 49.5h1M61 49.5h1M23 50.5h1M39 50.5h1M43 50.5h2M47 50.5h1M52 50.5h1M54 50.5h1M63 50.5h1M22 51.5h1M29 51.5h1M70 51.5h1M49 52.5h2M57 52.5h1M59 52.5h1M32 53.5h1M44 53.5h1M49 53.5h2M53 53.5h1M30 54.5h2M42 54.5h1M58 54.5h1M38 55.5h1M45 55.5h1M52 55.5h1M56 55.5h1M49 56.5h1M53 56.5h1M28 57.5h2M32 57.5h1M44 57.5h1M54 57.5h1M59 57.5h1M41 58.5h1M43 60.5h1M69 60.5h1M36 61.5h1M58 61.5h1M51 62.5h1M65 62.5h1M39 64.5h1M69 64.5h1M38 65.5h1M59 66.5h1M51 70.5h1M76 70.5h1M179 115.5h1M110 116.5h1M147 116.5h1M143 118.5h1M110 124.5h1M152 125.5h1M158 132.5h1M140 133.5h1M138 135.5h1M152 137.5h1M158 137.5h1M165 137.5h1M146 139.5h1M167 139.5h1M139 140.5h1M140 145.5h1M154 145.5h1M138 146.5h1M128 147.5h1M145 148.5h1M149 149.5h1M140 150.5h1M154 151.5h1M157 152.5h1M175 152.5h1M110 153.5h1M139 154.5h1M163 154.5h1M134 155.5h2M144 155.5h1M160 155.5h1M140 156.5h1M175 156.5h1M137 157.5h1M151 158.5h1M155 158.5h1M162 158.5h1M143 159.5h1M150 159.5h1M133 160.5h2M147 160.5h1M171 160.5h1M137 163.5h1M143 163.5h1M166 163.5h1M149 164.5h1M147 166.5h1M151 169.5h1M154 171.5h1M134 173.5h1M153 175.5h1M153 178.5h1M155 180.5h1"/><path stroke="#ffa000" d="M28 4.5h1M26 5.5h1M13 6.5h1M23 6.5h1M31 7.5h1M33 8.5h1M10 14.5h1M20 14.5h1M8 15.5h1M24 18.5h1M31 18.5h1M33 18.5h1M36 19.5h1M9 20.5h1M28 20.5h1M32 20.5h1M38 20.5h1M44 20.5h1M18 21.5h1M21 22.5h1M19 23.5h1M33 23.5h1M35 23.5h2M49 23.5h1M20 24.5h1M10 25.5h1M15 25.5h1M19 25.5h1M38 25.5h1M1 26.5h1M36 26.5h1M24 27.5h1M35 27.5h1M37 27.5h1M41 27.5h1M18 29.5h1M23 29.5h1M30 29.5h1M38 29.5h1M49 29.5h1M18 30.5h1M25 30.5h1M44 30.5h1M20 31.5h1M22 31.5h1M28 31.5h1M46 31.5h1M3 32.5h1M15 32.5h1M34 32.5h1M38 32.5h1M49 32.5h1M26 33.5h1M45 33.5h1M35 34.5h1M25 35.5h1M27 35.5h1M37 35.5h1M44 35.5h1M52 35.5h1M11 36.5h1M17 36.5h1M20 36.5h1M30 36.5h1M49 36.5h1M38 37.5h1M41 37.5h1M46 38.5h1M33 39.5h1M46 39.5h1M51 39.5h1M33 40.5h1M42 40.5h1M52 40.5h1M12 41.5h1M26 41.5h1M29 41.5h1M17 42.5h1M26 42.5h1M33 42.5h1M37 42.5h1M45 42.5h1M53 42.5h2M24 43.5h1M44 43.5h1M24 44.5h1M33 44.5h1M41 44.5h1M50 45.5h1M25 46.5h1M31 46.5h1M38 46.5h1M47 46.5h1M52 46.5h1M35 47.5h1M39 47.5h2M43 47.5h1M46 47.5h1M56 47.5h1M58 47.5h1M31 48.5h1M46 49.5h1M48 49.5h1M62 49.5h1M49 50.5h1M25 51.5h1M41 51.5h1M46 51.5h1M53 51.5h1M41 54.5h1M53 55.5h1M35 57.5h1M35 58.5h1M43 58.5h1M57 59.5h1M65 60.5h1M49 66.5h1M108 126.5h1M147 138.5h1M155 139.5h1M131 143.5h1M153 144.5h1M157 157.5h1M158 158.5h1M159 160.5h1M161 161.5h1"/><path stroke="#ff0000" d="M32 11.5h1M24 13.5h1M30 14.5h1M32 16.5h1M29 17.5h1M26 18.5h1M39 18.5h1M38 19.5h1M51 19.5h1M12 20.5h1M45 21.5h1M38 22.5h1M37 23.5h1M49 24.5h1M20 26.5h1M26 26.5h1M44 26.5h1M20 27.5h1M27 27.5h1M12 28.5h1M30 28.5h1M31 29.5h1M31 32.5h2M50 32.5h1M41 33.5h1M20 34.5h1M29 34.5h1M45 34.5h2M24 35.5h1M32 35.5h1M42 36.5h1M45 36.5h2M48 36.5h1M30 37.5h1M36 37.5h1M23 38.5h1M47 38.5h1M30 40.5h1M35 40.5h1M29 42.5h1M33 43.5h1M30 45.5h1M41 45.5h1M41 46.5h1M37 47.5h1M25 50.5h1M40 54.5h1M141 138.5h1M134 153.5h1"/></g>
<rect x="160.20" y="1264.50" width="74.90" height="65.10" fill="#fff" fill-opacity="0.8"/>
<path d="M159.10 798.60L610.20 798.60" stroke="#000" stroke-width="2.0"/>
<path d="M609.20 798.60L609.20 1331.00" stroke="#000" stroke-width="2.0"/>
<path d="M159.10 797.60L159.10 1346.00" stroke="#000" stroke-width="2.0"/>
<path d="M159.10 1331.00L610.20 1331.00" stroke="#000" stroke-width="2.6"/>
<path d="M304.40 798.60L304.40 1334.00" stroke="#000" stroke-width="2.0"/>
<path d="M159.10 1111.90L609.20 1111.90" stroke="#000" stroke-width="2.0"/>
<path d="M143.30 1330.50H159.10M160.00 1331.00V1346.00M152.00 1290.64H159.10M193.72 1331.00V1336.70M152.00 1267.33H159.10M213.44 1331.00V1336.70M152.00 1250.79H159.10M227.43 1331.00V1336.70M148.00 1237.96H159.10M238.28 1331.00V1341.50M152.00 1227.47H159.10M247.15 1331.00V1336.70M152.00 1218.61H159.10M254.65 1331.00V1336.70M152.00 1210.93H159.10M261.15 1331.00V1336.70M152.00 1204.16H159.10M266.88 1331.00V1336.70M143.30 1198.10H159.10M272.00 1331.00V1346.00M152.00 1158.24H159.10M305.72 1331.00V1336.70M152.00 1134.93H159.10M325.44 1331.00V1336.70M152.00 1118.39H159.10M339.43 1331.00V1336.70M148.00 1105.56H159.10M350.28 1331.00V1341.50M152.00 1095.07H159.10M359.15 1331.00V1336.70M152.00 1086.21H159.10M366.65 1331.00V1336.70M152.00 1078.53H159.10M373.15 1331.00V1336.70M152.00 1071.76H159.10M378.88 1331.00V1336.70M143.30 1065.70H159.10M384.00 1331.00V1346.00M152.00 1025.84H159.10M417.72 1331.00V1336.70M152.00 1002.53H159.10M437.44 1331.00V1336.70M152.00 985.99H159.10M451.43 1331.00V1336.70M148.00 973.16H159.10M462.28 1331.00V1341.50M152.00 962.67H159.10M471.15 1331.00V1336.70M152.00 953.81H159.10M478.65 1331.00V1336.70M152.00 946.13H159.10M485.15 1331.00V1336.70M152.00 939.36H159.10M490.88 1331.00V1336.70M143.30 933.30H159.10M496.00 1331.00V1346.00M152.00 893.44H159.10M529.72 1331.00V1336.70M152.00 870.13H159.10M549.44 1331.00V1336.70M152.00 853.59H159.10M563.43 1331.00V1336.70M148.00 840.76H159.10M574.28 1331.00V1341.50M152.00 830.27H159.10M583.15 1331.00V1336.70M152.00 821.41H159.10M590.65 1331.00V1336.70M152.00 813.73H159.10M597.15 1331.00V1336.70M152.00 806.96H159.10M602.88 1331.00V1336.70M143.30 800.90H159.10M608.00 1331.00V1346.00" stroke="#000" stroke-width="2.1" fill="none"/>
<path d="M143.30 1330.50L159.10 1330.50" stroke="#000" stroke-width="2.3"/>
<text transform="translate(92.20 1341.50) scale(0.9959 1)" font-family="Liberation Sans" font-size="23.70" fill="#363636" stroke="#363636" stroke-width="0.45">10</text>
<text transform="translate(121.00 1323.20) scale(0.9427 1)" font-family="Liberation Sans" font-size="23.70" fill="#363636" stroke="#363636" stroke-width="0.45">0</text>
<text transform="translate(92.20 1209.50) scale(0.9959 1)" font-family="Liberation Sans" font-size="23.70" fill="#363636" stroke="#363636" stroke-width="0.45">10</text>
<text transform="translate(122.86 1189.90) scale(0.5656 1)" font-family="Liberation Sans" font-size="23.70" fill="#363636" stroke="#363636" stroke-width="0.45">1</text>
<text transform="translate(92.20 1076.50) scale(0.9959 1)" font-family="Liberation Sans" font-size="23.70" fill="#363636" stroke="#363636" stroke-width="0.45">10</text>
<text transform="translate(121.00 1056.80) scale(0.9427 1)" font-family="Liberation Sans" font-size="23.70" fill="#363636" stroke="#363636" stroke-width="0.45">2</text>
<text transform="translate(92.20 945.30) scale(0.9959 1)" font-family="Liberation Sans" font-size="23.70" fill="#363636" stroke="#363636" stroke-width="0.45">10</text>
<text transform="translate(121.00 925.60) scale(0.9427 1)" font-family="Liberation Sans" font-size="23.70" fill="#363636" stroke="#363636" stroke-width="0.45">3</text>
<text transform="translate(92.20 848.20) scale(0.9959 1)" font-family="Liberation Sans" font-size="23.70" fill="#363636" stroke="#363636" stroke-width="0.45">10</text>
<text transform="translate(121.00 829.30) scale(0.9427 1)" font-family="Liberation Sans" font-size="23.70" fill="#363636" stroke="#363636" stroke-width="0.45">4</text>
<text transform="translate(169.60 1386.60) scale(1.0130 1)" font-family="Liberation Sans" font-size="23.30" fill="#363636" stroke="#363636" stroke-width="0.45">10</text>
<text transform="translate(198.70 1367.90) scale(0.8738 1)" font-family="Liberation Sans" font-size="23.30" fill="#363636" stroke="#363636" stroke-width="0.45">0</text>
<text transform="translate(259.90 1386.60) scale(1.0130 1)" font-family="Liberation Sans" font-size="23.30" fill="#363636" stroke="#363636" stroke-width="0.45">10</text>
<text transform="translate(291.50 1367.90) scale(0.6496 1)" font-family="Liberation Sans" font-size="23.30" fill="#363636" stroke="#363636" stroke-width="0.45">1</text>
<text transform="translate(366.50 1386.60) scale(0.9976 1)" font-family="Liberation Sans" font-size="23.30" fill="#363636" stroke="#363636" stroke-width="0.45">10</text>
<text transform="translate(395.60 1367.90) scale(0.8738 1)" font-family="Liberation Sans" font-size="23.30" fill="#363636" stroke="#363636" stroke-width="0.45">2</text>
<text transform="translate(469.30 1386.60) scale(1.0130 1)" font-family="Liberation Sans" font-size="23.30" fill="#363636" stroke="#363636" stroke-width="0.45">10</text>
<text transform="translate(499.70 1367.90) scale(0.8661 1)" font-family="Liberation Sans" font-size="23.30" fill="#363636" stroke="#363636" stroke-width="0.45">3</text>
<text transform="translate(574.60 1386.60) scale(1.0324 1)" font-family="Liberation Sans" font-size="23.30" fill="#363636" stroke="#363636" stroke-width="0.45">10</text>
<text transform="translate(603.80 1367.90) scale(0.8661 1)" font-family="Liberation Sans" font-size="23.30" fill="#363636" stroke="#363636" stroke-width="0.45">4</text>
<text transform="translate(51.50 1102.20) rotate(-90) scale(0.8988 1)" font-family="Liberation Sans" font-size="28.00" fill="#363636" stroke="#363636" stroke-width="0.45">FL2-PI</text>
<text transform="translate(273.60 1457.40) scale(1.1019 1)" font-family="Liberation Sans" font-size="23.30" fill="#363636" stroke="#363636" stroke-width="0.45">FL1-Annexxin-FITC</text>
<text transform="translate(346.80 856.50) scale(1.0720 1)" font-family="Liberation Serif" font-size="41.00" fill="#000">(16 μM)</text>
<text transform="translate(165.00 828.40) scale(0.8259 1)" font-family="Liberation Sans" font-size="23.40" fill="#333" stroke="#333" stroke-width="0.45">Q1</text>
<text transform="translate(166.60 862.40) scale(0.8713 1)" font-family="Liberation Sans" font-size="23.40" fill="#333" stroke="#333" stroke-width="0.45">3.64%</text>
<text transform="translate(538.00 828.40) scale(0.8867 1)" font-family="Liberation Sans" font-size="23.40" fill="#333" stroke="#333" stroke-width="0.45">Q2</text>
<text transform="translate(538.00 862.40) scale(0.8833 1)" font-family="Liberation Sans" font-size="23.40" fill="#333" stroke="#333" stroke-width="0.45">27.4%</text>
<text transform="translate(538.00 1288.70) scale(0.8867 1)" font-family="Liberation Sans" font-size="23.40" fill="#333" stroke="#333" stroke-width="0.45">Q3</text>
<text transform="translate(538.00 1323.90) scale(0.8833 1)" font-family="Liberation Sans" font-size="23.40" fill="#333" stroke="#333" stroke-width="0.45">8.90%</text>
<text transform="translate(167.80 1288.70) scale(0.8483 1)" font-family="Liberation Sans" font-size="23.40" fill="#333" stroke="#333" stroke-width="0.45">Q4</text>
<text transform="translate(166.60 1323.90) scale(0.8833 1)" font-family="Liberation Sans" font-size="23.40" fill="#333" stroke="#333" stroke-width="0.45">60.0%</text>
<g transform="translate(762.70 1330.00) scale(1.6594 -2.0980)" stroke-width="1" fill="none"><path stroke="#0000ff" d="M36 0.5h1M50 1.5h1M39 3.5h1M25 4.5h1M43 4.5h1M49 4.5h1M40 5.5h1M46 5.5h1M29 9.5h1M50 9.5h1M46 10.5h1M59 10.5h1M72 10.5h1M42 12.5h1M26 13.5h1M36 13.5h1M41 13.5h1M48 13.5h2M13 14.5h1M46 14.5h1M53 14.5h1M35 15.5h1M51 15.5h1M33 16.5h1M55 16.5h1M58 16.5h1M39 17.5h1M23 18.5h1M44 18.5h1M67 18.5h1M29 19.5h1M49 19.5h2M54 19.5h1M27 20.5h1M37 20.5h1M43 20.5h1M48 20.5h1M51 20.5h1M59 20.5h1M64 20.5h1M46 21.5h1M55 21.5h1M57 21.5h1M44 22.5h1M26 23.5h1M44 23.5h2M49 23.5h1M54 23.5h1M60 23.5h2M67 23.5h1M50 24.5h1M45 25.5h1M47 25.5h1M63 25.5h1M2 26.5h1M34 26.5h1M39 26.5h1M46 26.5h1M49 26.5h2M52 26.5h1M55 26.5h2M58 26.5h1M62 26.5h1M54 27.5h1M62 27.5h1M78 27.5h1M44 28.5h1M52 28.5h1M55 28.5h1M23 29.5h1M29 29.5h1M40 29.5h1M42 29.5h3M46 29.5h1M52 29.5h1M54 29.5h1M59 29.5h1M62 29.5h1M64 29.5h1M64 30.5h1M67 30.5h1M41 31.5h1M46 31.5h2M49 31.5h1M51 31.5h1M53 31.5h1M63 31.5h1M69 31.5h1M81 31.5h1M18 32.5h1M36 32.5h1M47 32.5h1M55 32.5h2M58 32.5h1M66 32.5h1M70 32.5h2M76 32.5h1M26 33.5h1M39 33.5h1M41 33.5h2M56 33.5h1M68 33.5h1M70 33.5h3M74 33.5h1M26 34.5h1M42 34.5h1M45 34.5h1M51 34.5h1M59 34.5h1M66 34.5h2M70 34.5h1M78 34.5h1M80 34.5h1M84 34.5h1M110 34.5h1M35 35.5h1M38 35.5h1M43 35.5h1M49 35.5h1M51 35.5h2M59 35.5h3M63 35.5h1M67 35.5h1M76 35.5h1M80 35.5h1M27 36.5h1M29 36.5h1M40 36.5h1M45 36.5h1M50 36.5h1M52 36.5h1M54 36.5h1M56 36.5h2M71 36.5h1M81 36.5h2M44 37.5h1M51 37.5h1M53 37.5h1M55 37.5h1M57 37.5h2M61 37.5h1M66 37.5h1M70 37.5h1M42 38.5h1M48 38.5h2M56 38.5h1M62 38.5h1M70 38.5h2M74 38.5h1M86 38.5h1M39 39.5h1M63 39.5h3M67 39.5h1M69 39.5h1M78 39.5h1M89 39.5h1M94 39.5h1M36 40.5h1M40 40.5h1M43 40.5h1M52 40.5h1M56 40.5h1M65 40.5h2M69 40.5h1M73 40.5h1M75 40.5h1M79 40.5h2M98 40.5h1M46 41.5h1M48 41.5h1M51 41.5h1M55 41.5h1M61 41.5h1M63 41.5h1M65 41.5h1M70 41.5h2M78 41.5h1M81 41.5h1M86 41.5h1M101 41.5h1M34 42.5h1M46 42.5h1M58 42.5h3M62 42.5h1M64 42.5h1M67 42.5h1M70 42.5h1M72 42.5h3M78 42.5h1M84 42.5h1M45 43.5h1M52 43.5h1M57 43.5h1M65 43.5h2M68 43.5h1M73 43.5h1M75 43.5h1M77 43.5h2M81 43.5h1M89 43.5h1M102 43.5h1M25 44.5h1M49 44.5h1M53 44.5h2M57 44.5h2M63 44.5h2M67 44.5h1M71 44.5h2M82 44.5h1M54 45.5h3M58 45.5h1M64 45.5h3M71 45.5h1M86 45.5h1M89 45.5h1M37 46.5h1M44 46.5h1M47 46.5h1M54 46.5h2M58 46.5h1M61 46.5h1M68 46.5h2M71 46.5h1M74 46.5h2M79 46.5h1M87 46.5h1M106 46.5h1M36 47.5h2M46 47.5h1M50 47.5h1M57 47.5h1M62 47.5h1M64 47.5h4M70 47.5h1M72 47.5h1M79 47.5h2M94 47.5h1M42 48.5h1M44 48.5h1M46 48.5h1M52 48.5h1M55 48.5h2M58 48.5h1M61 48.5h4M71 48.5h1M74 48.5h2M78 48.5h1M80 48.5h1M82 48.5h1M86 48.5h1M88 48.5h1M91 48.5h1M53 49.5h1M56 49.5h1M58 49.5h2M61 49.5h2M66 49.5h2M69 49.5h2M76 49.5h2M79 49.5h4M44 50.5h2M47 50.5h1M59 50.5h1M67 50.5h1M70 50.5h2M75 50.5h1M80 50.5h3M85 50.5h1M91 50.5h1M93 50.5h1M97 50.5h1M33 51.5h1M37 51.5h1M45 51.5h1M54 51.5h1M64 51.5h2M68 51.5h2M71 51.5h1M73 51.5h2M77 51.5h1M87 51.5h1M89 51.5h5M44 52.5h1M52 52.5h1M66 52.5h1M68 52.5h1M71 52.5h2M77 52.5h1M79 52.5h2M85 52.5h1M88 52.5h1M90 52.5h2M93 52.5h1M64 53.5h2M71 53.5h1M79 53.5h1M81 53.5h1M87 53.5h2M96 53.5h2M30 54.5h1M39 54.5h1M42 54.5h2M59 54.5h1M68 54.5h2M72 54.5h1M74 54.5h1M78 54.5h1M81 54.5h2M86 54.5h2M94 54.5h1M97 54.5h3M58 55.5h3M63 55.5h2M75 55.5h1M77 55.5h1M81 55.5h1M83 55.5h2M87 55.5h1M91 55.5h1M36 56.5h1M41 56.5h1M56 56.5h1M58 56.5h1M62 56.5h1M67 56.5h2M72 56.5h3M76 56.5h1M81 56.5h1M86 56.5h1M88 56.5h2M93 56.5h1M95 56.5h1M105 56.5h1M108 56.5h1M113 56.5h1M28 57.5h1M44 57.5h1M49 57.5h1M57 57.5h1M59 57.5h3M63 57.5h3M70 57.5h1M73 57.5h1M78 57.5h1M80 57.5h1M83 57.5h1M87 57.5h1M91 57.5h1M55 58.5h1M59 58.5h1M64 58.5h1M68 58.5h1M71 58.5h1M76 58.5h1M78 58.5h2M81 58.5h1M83 58.5h3M90 58.5h2M96 58.5h1M99 58.5h1M111 58.5h1M50 59.5h2M59 59.5h1M64 59.5h1M68 59.5h1M70 59.5h1M73 59.5h1M80 59.5h1M84 59.5h2M87 59.5h2M94 59.5h2M116 59.5h1M15 60.5h1M41 60.5h2M48 60.5h2M52 60.5h1M54 60.5h1M58 60.5h1M60 60.5h1M63 60.5h1M73 60.5h1M76 60.5h2M79 60.5h1M81 60.5h1M85 60.5h2M89 60.5h3M93 60.5h3M98 60.5h3M106 60.5h1M119 60.5h1M43 61.5h2M48 61.5h1M60 61.5h7M69 61.5h5M76 61.5h1M78 61.5h1M80 61.5h1M85 61.5h2M88 61.5h1M91 61.5h1M99 61.5h1M105 61.5h1M11 62.5h1M46 62.5h1M59 62.5h1M61 62.5h2M65 62.5h1M71 62.5h2M78 62.5h2M85 62.5h1M89 62.5h3M93 62.5h1M96 62.5h2M116 62.5h1M51 63.5h1M61 63.5h2M65 63.5h1M67 63.5h1M69 63.5h3M74 63.5h1M78 63.5h2M93 63.5h2M105 63.5h1M109 63.5h1M19 64.5h1M45 64.5h1M56 64.5h1M58 64.5h1M61 64.5h1M69 64.5h1M72 64.5h1M76 64.5h1M78 64.5h1M87 64.5h1M93 64.5h1M95 64.5h1M97 64.5h3M101 64.5h2M107 64.5h1M109 64.5h1M113 64.5h1M116 64.5h2M120 64.5h1M34 65.5h1M52 65.5h1M54 65.5h1M59 65.5h1M73 65.5h1M76 65.5h2M79 65.5h1M84 65.5h1M86 65.5h3M90 65.5h1M93 65.5h2M96 65.5h1M98 65.5h1M104 65.5h1M59 66.5h1M72 66.5h1M77 66.5h1M80 66.5h1M84 66.5h1M90 66.5h1M92 66.5h1M94 66.5h3M100 66.5h2M105 66.5h1M21 67.5h1M47 67.5h1M57 67.5h1M62 67.5h1M71 67.5h1M73 67.5h1M76 67.5h2M83 67.5h1M85 67.5h1M88 67.5h1M95 67.5h2M108 67.5h1M135 67.5h1M37 68.5h1M43 68.5h1M58 68.5h1M60 68.5h1M64 68.5h1M72 68.5h4M77 68.5h2M81 68.5h2M86 68.5h1M107 68.5h1M111 68.5h1M63 69.5h1M68 69.5h1M70 69.5h1M73 69.5h2M77 69.5h3M82 69.5h2M85 69.5h1M88 69.5h1M92 69.5h1M97 69.5h2M121 69.5h1M141 69.5h1M56 70.5h1M58 70.5h1M62 70.5h1M65 70.5h1M67 70.5h1M73 70.5h1M77 70.5h2M82 70.5h1M86 70.5h2M91 70.5h1M94 70.5h1M96 70.5h1M100 70.5h1M105 70.5h1M112 70.5h1M44 71.5h1M67 71.5h1M69 71.5h2M75 71.5h1M80 71.5h1M82 71.5h1M84 71.5h1M95 71.5h1M97 71.5h1M105 71.5h5M113 71.5h1M118 71.5h1M128 71.5h1M60 72.5h1M74 72.5h1M99 72.5h2M104 72.5h1M106 72.5h1M109 72.5h1M111 72.5h2M123 72.5h1M3 73.5h1M24 73.5h1M57 73.5h1M67 73.5h1M69 73.5h1M72 73.5h3M76 73.5h1M78 73.5h1M83 73.5h1M94 73.5h1M96 73.5h2M100 73.5h2M108 73.5h1M110 73.5h1M114 73.5h1M63 74.5h1M67 74.5h1M71 74.5h1M74 74.5h1M79 74.5h1M85 74.5h1M90 74.5h1M93 74.5h1M100 74.5h3M104 74.5h1M106 74.5h1M15 75.5h1M55 75.5h1M59 75.5h3M74 75.5h1M80 75.5h2M84 75.5h2M89 75.5h1M92 75.5h1M99 75.5h4M108 75.5h3M116 75.5h1M119 75.5h1M127 75.5h1M8 76.5h1M25 76.5h1M53 76.5h1M62 76.5h2M67 76.5h1M69 76.5h1M71 76.5h1M77 76.5h1M81 76.5h2M84 76.5h2M89 76.5h1M91 76.5h1M105 76.5h4M111 76.5h1M113 76.5h1M127 76.5h1M32 77.5h1M44 77.5h1M51 77.5h1M54 77.5h1M71 77.5h1M73 77.5h1M76 77.5h3M80 77.5h2M83 77.5h1M86 77.5h1M98 77.5h1M102 77.5h2M107 77.5h1M113 77.5h1M115 77.5h1M63 78.5h3M67 78.5h1M72 78.5h1M75 78.5h3M79 78.5h2M82 78.5h2M86 78.5h1M90 78.5h1M96 78.5h1M105 78.5h1M108 78.5h2M111 78.5h1M113 78.5h1M116 78.5h1M51 79.5h1M61 79.5h1M63 79.5h1M67 79.5h1M76 79.5h1M79 79.5h2M83 79.5h1M89 79.5h1M98 79.5h1M102 79.5h2M106 79.5h3M113 79.5h4M140 79.5h1M50 80.5h1M52 80.5h1M57 80.5h2M76 80.5h2M82 80.5h2M89 80.5h2M99 80.5h1M104 80.5h1M108 80.5h1M111 80.5h1M117 80.5h1M120 80.5h1M127 80.5h1M41 81.5h1M69 81.5h1M81 81.5h1M85 81.5h1M87 81.5h1M90 81.5h1M92 81.5h1M95 81.5h1M98 81.5h1M103 81.5h1M106 81.5h1M115 81.5h1M119 81.5h1M135 81.5h1M138 81.5h1M41 82.5h1M60 82.5h1M65 82.5h1M80 82.5h2M83 82.5h1M85 82.5h1M89 82.5h1M102 82.5h1M119 82.5h1M146 82.5h1M66 83.5h1M78 83.5h1M80 83.5h1M84 83.5h1M87 83.5h1M90 83.5h1M96 83.5h1M101 83.5h1M112 83.5h1M118 83.5h3M122 83.5h1M138 83.5h1M32 84.5h1M60 84.5h1M64 84.5h1M66 84.5h1M72 84.5h2M76 84.5h1M80 84.5h1M86 84.5h2M90 84.5h1M99 84.5h2M108 84.5h1M110 84.5h1M113 84.5h1M115 84.5h1M117 84.5h2M121 84.5h2M141 84.5h1M15 85.5h1M20 85.5h1M38 85.5h1M41 85.5h1M67 85.5h1M73 85.5h1M83 85.5h1M88 85.5h1M90 85.5h1M97 85.5h2M102 85.5h1M110 85.5h1M114 85.5h1M116 85.5h1M119 85.5h3M124 85.5h1M129 85.5h1M68 86.5h1M73 86.5h1M85 86.5h2M89 86.5h2M101 86.5h1M104 86.5h1M115 86.5h1M119 86.5h1M124 86.5h2M64 87.5h1M66 87.5h1M68 87.5h1M70 87.5h1M75 87.5h1M77 87.5h1M80 87.5h3M84 87.5h1M86 87.5h1M89 87.5h2M108 87.5h1M110 87.5h1M114 87.5h2M119 87.5h1M124 87.5h1M145 87.5h1M23 88.5h1M49 88.5h1M52 88.5h1M61 88.5h1M73 88.5h1M75 88.5h1M80 88.5h2M84 88.5h1M87 88.5h1M89 88.5h1M92 88.5h1M117 88.5h1M127 88.5h1M150 88.5h1M66 89.5h1M85 89.5h3M94 89.5h3M102 89.5h1M108 89.5h1M112 89.5h2M117 89.5h1M119 89.5h3M138 89.5h1M53 90.5h1M59 90.5h1M61 90.5h1M74 90.5h1M85 90.5h2M90 90.5h1M92 90.5h1M95 90.5h2M104 90.5h1M107 90.5h1M111 90.5h1M117 90.5h4M123 90.5h2M129 90.5h1M54 91.5h1M58 91.5h1M61 91.5h1M66 91.5h1M68 91.5h1M77 91.5h2M89 91.5h1M91 91.5h2M94 91.5h1M98 91.5h1M100 91.5h1M108 91.5h1M111 91.5h2M114 91.5h1M116 91.5h2M122 91.5h2M141 91.5h1M14 92.5h1M59 92.5h1M66 92.5h1M75 92.5h1M82 92.5h1M85 92.5h2M89 92.5h3M93 92.5h2M99 92.5h2M110 92.5h2M114 92.5h1M118 92.5h1M121 92.5h1M124 92.5h1M135 92.5h1M42 93.5h1M48 93.5h1M58 93.5h1M70 93.5h1M89 93.5h1M93 93.5h2M96 93.5h3M101 93.5h1M103 93.5h1M105 93.5h1M111 93.5h1M117 93.5h1M119 93.5h1M121 93.5h1M123 93.5h2M128 93.5h1M135 93.5h1M142 93.5h1M74 94.5h1M78 94.5h1M83 94.5h1M86 94.5h1M89 94.5h1M94 94.5h1M102 94.5h2M107 94.5h1M113 94.5h1M116 94.5h1M120 94.5h1M122 94.5h1M124 94.5h1M127 94.5h1M130 94.5h3M146 94.5h1M48 95.5h1M51 95.5h2M62 95.5h1M66 95.5h1M68 95.5h1M79 95.5h1M82 95.5h2M88 95.5h1M90 95.5h1M96 95.5h1M100 95.5h1M102 95.5h1M121 95.5h1M30 96.5h1M73 96.5h2M82 96.5h1M95 96.5h3M101 96.5h1M116 96.5h3M121 96.5h1M123 96.5h1M125 96.5h2M128 96.5h1M138 96.5h1M151 96.5h1M71 97.5h1M90 97.5h1M97 97.5h1M101 97.5h1M103 97.5h1M117 97.5h1M121 97.5h1M129 97.5h1M134 97.5h1M153 97.5h1M19 98.5h1M57 98.5h1M66 98.5h1M69 98.5h1M76 98.5h1M78 98.5h1M80 98.5h1M87 98.5h1M94 98.5h1M96 98.5h1M102 98.5h3M109 98.5h1M119 98.5h1M123 98.5h2M127 98.5h1M130 98.5h1M134 98.5h1M10 99.5h1M76 99.5h1M93 99.5h1M97 99.5h2M100 99.5h1M103 99.5h1M105 99.5h1M110 99.5h1M113 99.5h1M117 99.5h1M124 99.5h1M126 99.5h1M131 99.5h2M135 99.5h1M3 100.5h1M60 100.5h1M85 100.5h1M93 100.5h1M95 100.5h1M100 100.5h1M102 100.5h2M108 100.5h1M117 100.5h1M122 100.5h1M124 100.5h4M132 100.5h1M48 101.5h1M54 101.5h1M65 101.5h1M81 101.5h1M84 101.5h1M86 101.5h1M99 101.5h1M101 101.5h2M104 101.5h1M112 101.5h1M115 101.5h1M121 101.5h2M124 101.5h2M127 101.5h2M130 101.5h2M140 101.5h1M149 101.5h1M157 101.5h1M59 102.5h1M69 102.5h1M73 102.5h1M79 102.5h1M81 102.5h1M101 102.5h2M112 102.5h1M122 102.5h2M129 102.5h1M133 102.5h1M155 102.5h1M35 103.5h1M42 103.5h1M86 103.5h1M94 103.5h1M96 103.5h1M98 103.5h1M100 103.5h2M103 103.5h1M108 103.5h2M111 103.5h2M116 103.5h4M122 103.5h1M128 103.5h3M143 103.5h1M145 103.5h1M14 104.5h1M26 104.5h1M97 104.5h2M101 104.5h1M105 104.5h1M108 104.5h1M110 104.5h1M114 104.5h1M121 104.5h1M123 104.5h2M127 104.5h1M129 104.5h3M136 104.5h1M138 104.5h1M140 104.5h2M147 104.5h1M34 105.5h1M41 105.5h1M46 105.5h1M57 105.5h1M59 105.5h1M61 105.5h1M63 105.5h1M87 105.5h1M90 105.5h1M101 105.5h1M103 105.5h2M107 105.5h1M112 105.5h1M114 105.5h1M128 105.5h1M133 105.5h4M142 105.5h1M51 106.5h1M68 106.5h1M72 106.5h1M87 106.5h1M96 106.5h1M105 106.5h1M109 106.5h2M115 106.5h1M119 106.5h2M123 106.5h1M126 106.5h2M129 106.5h4M152 106.5h1M62 107.5h1M66 107.5h1M80 107.5h1M82 107.5h1M86 107.5h1M101 107.5h1M104 107.5h2M107 107.5h3M113 107.5h1M118 107.5h1M124 107.5h2M129 107.5h2M133 107.5h1M135 107.5h2M138 107.5h1M145 107.5h1M167 107.5h1M13 108.5h1M60 108.5h1M76 108.5h1M82 108.5h1M84 108.5h1M90 108.5h1M104 108.5h1M107 108.5h1M110 108.5h1M112 108.5h1M115 108.5h1M119 108.5h1M121 108.5h2M127 108.5h1M133 108.5h1M140 108.5h1M142 108.5h1M157 108.5h1M46 109.5h1M65 109.5h1M96 109.5h2M100 109.5h2M104 109.5h3M111 109.5h1M113 109.5h3M120 109.5h1M128 109.5h1M132 109.5h1M136 109.5h2M143 109.5h1M170 109.5h1M174 109.5h1M25 110.5h1M60 110.5h1M75 110.5h2M80 110.5h1M106 110.5h1M109 110.5h1M112 110.5h4M122 110.5h1M126 110.5h1M134 110.5h1M145 110.5h1M149 110.5h1M59 111.5h1M69 111.5h1M82 111.5h1M85 111.5h1M95 111.5h3M102 111.5h1M109 111.5h1M117 111.5h1M120 111.5h1M122 111.5h1M125 111.5h1M128 111.5h5M134 111.5h3M140 111.5h1M142 111.5h1M151 111.5h1M164 111.5h1M183 111.5h1M27 112.5h1M60 112.5h1M81 112.5h1M94 112.5h1M96 112.5h1M102 112.5h1M124 112.5h3M129 112.5h1M135 112.5h1M138 112.5h1M152 112.5h1M163 112.5h1M176 112.5h1M187 112.5h1M14 113.5h1M73 113.5h1M79 113.5h1M86 113.5h1M95 113.5h1M97 113.5h2M106 113.5h3M110 113.5h2M113 113.5h2M118 113.5h1M126 113.5h1M129 113.5h1M131 113.5h1M134 113.5h1M136 113.5h1M139 113.5h2M169 113.5h1M171 113.5h1M181 113.5h2M8 114.5h1M62 114.5h1M65 114.5h1M86 114.5h1M90 114.5h1M101 114.5h1M109 114.5h1M113 114.5h2M116 114.5h3M120 114.5h1M122 114.5h2M125 114.5h1M127 114.5h2M132 114.5h4M139 114.5h2M159 114.5h1M11 115.5h1M23 115.5h1M26 115.5h1M38 115.5h1M77 115.5h1M88 115.5h1M93 115.5h1M95 115.5h1M99 115.5h1M106 115.5h2M110 115.5h1M114 115.5h1M120 115.5h2M125 115.5h1M128 115.5h3M134 115.5h1M136 115.5h1M144 115.5h1M149 115.5h1M159 115.5h1M178 115.5h1M188 115.5h1M6 116.5h1M29 116.5h1M85 116.5h2M92 116.5h1M101 116.5h1M108 116.5h2M115 116.5h3M120 116.5h1M122 116.5h1M125 116.5h2M139 116.5h1M171 116.5h1M70 117.5h1M72 117.5h1M90 117.5h1M94 117.5h1M100 117.5h1M106 117.5h1M110 117.5h1M117 117.5h2M124 117.5h5M130 117.5h1M133 117.5h1M135 117.5h2M143 117.5h1M150 117.5h1M189 117.5h1M11 118.5h1M16 118.5h1M49 118.5h1M85 118.5h1M105 118.5h1M111 118.5h1M116 118.5h6M123 118.5h1M127 118.5h2M133 118.5h1M140 118.5h1M145 118.5h1M147 118.5h2M153 118.5h1M162 118.5h1M167 118.5h1M172 118.5h2M176 118.5h1M14 119.5h1M41 119.5h1M74 119.5h1M77 119.5h1M92 119.5h2M95 119.5h1M103 119.5h1M110 119.5h2M114 119.5h2M117 119.5h1M120 119.5h7M135 119.5h1M139 119.5h1M149 119.5h1M154 119.5h1M186 119.5h1M20 120.5h1M36 120.5h1M68 120.5h1M73 120.5h1M81 120.5h1M84 120.5h2M90 120.5h1M92 120.5h1M101 120.5h1M113 120.5h2M116 120.5h1M120 120.5h2M123 120.5h1M129 120.5h2M132 120.5h3M136 120.5h1M138 120.5h1M146 120.5h1M160 120.5h1M165 120.5h2M21 121.5h1M73 121.5h1M83 121.5h3M90 121.5h1M93 121.5h1M95 121.5h2M121 121.5h2M124 121.5h1M129 121.5h2M134 121.5h1M141 121.5h1M153 121.5h3M159 121.5h1M47 122.5h1M62 122.5h1M66 122.5h1M82 122.5h1M85 122.5h1M93 122.5h1M96 122.5h1M104 122.5h1M106 122.5h1M119 122.5h1M122 122.5h2M127 122.5h2M131 122.5h2M139 122.5h2M143 122.5h2M147 122.5h1M154 122.5h1M160 122.5h1M188 122.5h1M193 122.5h1M7 123.5h1M14 123.5h1M42 123.5h1M50 123.5h1M69 123.5h1M71 123.5h1M87 123.5h1M98 123.5h1M108 123.5h1M112 123.5h4M121 123.5h2M130 123.5h2M133 123.5h1M135 123.5h1M137 123.5h1M142 123.5h1M144 123.5h1M169 123.5h1M172 123.5h1M178 123.5h1M184 123.5h1M4 124.5h1M42 124.5h1M49 124.5h1M52 124.5h1M88 124.5h1M91 124.5h1M93 124.5h1M107 124.5h1M110 124.5h2M113 124.5h1M116 124.5h1M131 124.5h2M135 124.5h1M138 124.5h1M140 124.5h2M146 124.5h1M157 124.5h2M168 124.5h1M170 124.5h1M3 125.5h1M14 125.5h1M46 125.5h1M56 125.5h1M78 125.5h1M81 125.5h1M84 125.5h1M93 125.5h1M98 125.5h1M114 125.5h2M117 125.5h2M121 125.5h1M125 125.5h1M127 125.5h1M130 125.5h1M132 125.5h1M135 125.5h1M140 125.5h3M144 125.5h1M165 125.5h1M174 125.5h1M183 125.5h2M30 126.5h1M44 126.5h1M48 126.5h1M55 126.5h1M62 126.5h1M86 126.5h2M89 126.5h1M94 126.5h1M119 126.5h2M129 126.5h1M133 126.5h1M139 126.5h1M147 126.5h1M149 126.5h1M152 126.5h1M163 126.5h1M168 126.5h1M181 126.5h1M188 126.5h1M28 127.5h1M74 127.5h1M78 127.5h1M106 127.5h1M110 127.5h1M112 127.5h1M116 127.5h1M119 127.5h2M122 127.5h1M126 127.5h3M132 127.5h1M134 127.5h1M137 127.5h1M142 127.5h1M163 127.5h1M183 127.5h1M193 127.5h1M9 128.5h1M86 128.5h1M88 128.5h1M130 128.5h2M133 128.5h4M144 128.5h1M148 128.5h1M187 128.5h1M6 129.5h1M15 129.5h1M18 129.5h1M55 129.5h2M72 129.5h1M82 129.5h2M88 129.5h1M92 129.5h1M97 129.5h1M101 129.5h3M116 129.5h1M127 129.5h1M130 129.5h1M133 129.5h1M136 129.5h1M139 129.5h1M141 129.5h1M143 129.5h1M145 129.5h3M151 129.5h3M157 129.5h1M5 130.5h1M28 130.5h1M58 130.5h1M84 130.5h1M90 130.5h1M92 130.5h1M97 130.5h1M102 130.5h1M104 130.5h1M109 130.5h1M114 130.5h1M119 130.5h1M121 130.5h2M125 130.5h1M128 130.5h1M140 130.5h1M145 130.5h1M149 130.5h1M159 130.5h1M163 130.5h1M167 130.5h1M183 130.5h1M185 130.5h1M5 131.5h1M17 131.5h1M26 131.5h1M61 131.5h1M63 131.5h1M80 131.5h1M83 131.5h1M85 131.5h1M87 131.5h1M90 131.5h1M94 131.5h1M99 131.5h1M101 131.5h1M118 131.5h1M121 131.5h1M125 131.5h1M128 131.5h1M134 131.5h1M138 131.5h1M141 131.5h1M143 131.5h1M150 131.5h2M162 131.5h1M172 131.5h2M183 131.5h1M81 132.5h1M91 132.5h1M93 132.5h2M99 132.5h1M103 132.5h1M111 132.5h1M113 132.5h1M132 132.5h1M135 132.5h1M140 132.5h2M143 132.5h1M151 132.5h1M153 132.5h1M155 132.5h1M162 132.5h1M164 132.5h1M180 132.5h1M6 133.5h1M18 133.5h1M21 133.5h2M45 133.5h1M58 133.5h1M84 133.5h2M88 133.5h1M91 133.5h2M95 133.5h1M102 133.5h1M113 133.5h1M122 133.5h1M140 133.5h1M144 133.5h1M153 133.5h1M163 133.5h1M181 133.5h1M186 133.5h1M38 134.5h1M47 134.5h1M88 134.5h1M92 134.5h2M98 134.5h1M127 134.5h1M129 134.5h1M139 134.5h1M141 134.5h2M168 134.5h1M172 134.5h1M20 135.5h2M81 135.5h1M83 135.5h1M103 135.5h1M107 135.5h1M127 135.5h1M131 135.5h1M133 135.5h1M141 135.5h1M151 135.5h1M155 135.5h1M165 135.5h1M169 135.5h1M177 135.5h1M186 135.5h1M3 136.5h1M9 136.5h1M24 136.5h1M62 136.5h1M70 136.5h1M72 136.5h2M76 136.5h1M87 136.5h2M93 136.5h1M103 136.5h1M129 136.5h1M131 136.5h1M140 136.5h2M144 136.5h1M147 136.5h1M151 136.5h1M161 136.5h1M175 136.5h1M194 136.5h1M16 137.5h1M37 137.5h1M43 137.5h1M82 137.5h2M104 137.5h1M111 137.5h1M119 137.5h1M127 137.5h1M131 137.5h3M136 137.5h1M141 137.5h1M143 137.5h1M145 137.5h1M169 137.5h1M196 137.5h1M15 138.5h1M38 138.5h1M90 138.5h2M101 138.5h1M117 138.5h1M120 138.5h1M136 138.5h1M138 138.5h1M149 138.5h1M154 138.5h1M157 138.5h1M1 139.5h1M7 139.5h1M42 139.5h1M47 139.5h1M52 139.5h1M54 139.5h1M66 139.5h1M76 139.5h1M83 139.5h1M91 139.5h2M99 139.5h1M108 139.5h1M120 139.5h1M132 139.5h2M137 139.5h2M141 139.5h1M153 139.5h1M169 139.5h1M177 139.5h1M30 140.5h1M53 140.5h1M58 140.5h1M96 140.5h1M108 140.5h1M131 140.5h2M135 140.5h1M142 140.5h1M144 140.5h1M162 140.5h1M166 140.5h1M10 141.5h1M15 141.5h1M20 141.5h1M58 141.5h2M64 141.5h1M84 141.5h1M114 141.5h1M118 141.5h2M127 141.5h1M134 141.5h4M140 141.5h2M144 141.5h1M146 141.5h1M170 141.5h1M172 141.5h1M174 141.5h1M184 141.5h1M3 142.5h1M39 142.5h1M59 142.5h1M76 142.5h1M87 142.5h3M106 142.5h1M112 142.5h1M120 142.5h1M129 142.5h1M137 142.5h1M148 142.5h1M150 142.5h1M161 142.5h1M177 142.5h1M183 142.5h1M44 143.5h2M60 143.5h2M72 143.5h1M79 143.5h1M86 143.5h2M102 143.5h1M106 143.5h1M109 143.5h1M112 143.5h1M115 143.5h1M120 143.5h1M124 143.5h1M126 143.5h1M138 143.5h2M146 143.5h1M160 143.5h1M163 143.5h2M171 143.5h1M25 144.5h2M41 144.5h1M44 144.5h1M63 144.5h1M74 144.5h1M79 144.5h1M85 144.5h1M98 144.5h2M107 144.5h1M124 144.5h1M147 144.5h1M150 144.5h1M152 144.5h2M163 144.5h1M167 144.5h1M5 145.5h1M9 145.5h1M30 145.5h1M34 145.5h1M45 145.5h1M79 145.5h1M84 145.5h1M94 145.5h1M98 145.5h1M107 145.5h1M117 145.5h1M119 145.5h1M121 145.5h1M130 145.5h1M132 145.5h1M143 145.5h1M148 145.5h1M153 145.5h1M157 145.5h1M163 145.5h1M177 145.5h1M3 146.5h1M21 146.5h1M90 146.5h1M125 146.5h1M128 146.5h1M132 146.5h1M137 146.5h1M147 146.5h1M150 146.5h1M152 146.5h1M156 146.5h1M160 146.5h1M1 147.5h1M23 147.5h1M31 147.5h1M33 147.5h1M59 147.5h1M86 147.5h1M89 147.5h1M94 147.5h1M105 147.5h2M125 147.5h1M128 147.5h1M133 147.5h2M142 147.5h1M146 147.5h1M155 147.5h1M168 147.5h1M9 148.5h1M16 148.5h1M84 148.5h1M96 148.5h1M103 148.5h1M112 148.5h1M121 148.5h1M124 148.5h1M131 148.5h1M133 148.5h1M135 148.5h1M142 148.5h2M152 148.5h1M175 148.5h1M181 148.5h1M185 148.5h1M187 148.5h1M85 149.5h1M89 149.5h1M91 149.5h1M112 149.5h1M118 149.5h2M123 149.5h1M133 149.5h1M146 149.5h1M152 149.5h1M157 149.5h1M172 149.5h1M175 149.5h1M185 149.5h1M55 150.5h1M70 150.5h2M86 150.5h1M112 150.5h1M125 150.5h1M129 150.5h1M137 150.5h1M143 150.5h1M159 150.5h1M165 150.5h1M168 150.5h2M171 150.5h1M176 150.5h2M185 150.5h1M7 151.5h1M46 151.5h1M103 151.5h1M115 151.5h1M120 151.5h2M124 151.5h2M143 151.5h1M152 151.5h1M6 152.5h1M8 152.5h1M17 152.5h1M47 152.5h1M104 152.5h2M124 152.5h1M129 152.5h1M133 152.5h1M169 152.5h1M188 152.5h1M190 152.5h1M9 153.5h1M13 153.5h1M15 153.5h1M59 153.5h1M62 153.5h1M79 153.5h1M129 153.5h5M140 153.5h1M144 153.5h1M148 153.5h1M151 153.5h2M155 153.5h1M167 153.5h2M170 153.5h1M177 153.5h2M5 154.5h1M71 154.5h1M75 154.5h1M82 154.5h1M85 154.5h1M89 154.5h1M94 154.5h2M122 154.5h1M140 154.5h1M142 154.5h1M151 154.5h1M156 154.5h1M167 154.5h2M181 154.5h1M195 154.5h1M78 155.5h1M98 155.5h1M115 155.5h1M132 155.5h1M134 155.5h1M149 155.5h2M152 155.5h1M156 155.5h1M164 155.5h1M174 155.5h1M179 155.5h1M185 155.5h1M187 155.5h1M197 155.5h1M10 156.5h1M60 156.5h1M62 156.5h1M65 156.5h1M71 156.5h1M105 156.5h1M118 156.5h1M120 156.5h1M124 156.5h2M127 156.5h1M136 156.5h2M143 156.5h2M148 156.5h1M151 156.5h1M153 156.5h1M157 156.5h1M160 156.5h1M168 156.5h1M171 156.5h1M177 156.5h1M182 156.5h1M190 156.5h1M194 156.5h1M200 156.5h1M2 157.5h1M11 157.5h1M61 157.5h1M70 157.5h1M90 157.5h1M103 157.5h1M111 157.5h1M113 157.5h1M126 157.5h1M131 157.5h1M135 157.5h1M140 157.5h3M148 157.5h1M157 157.5h1M161 157.5h1M168 157.5h1M174 157.5h1M186 157.5h1M188 157.5h1M105 158.5h2M109 158.5h1M113 158.5h1M124 158.5h1M134 158.5h2M144 158.5h1M146 158.5h1M148 158.5h1M152 158.5h1M154 158.5h2M165 158.5h1M167 158.5h1M174 158.5h1M182 158.5h1M8 159.5h1M54 159.5h2M99 159.5h1M102 159.5h1M116 159.5h1M118 159.5h1M140 159.5h2M147 159.5h2M152 159.5h1M158 159.5h3M162 159.5h1M169 159.5h1M178 159.5h1M180 159.5h2M20 160.5h1M62 160.5h1M78 160.5h1M94 160.5h1M97 160.5h1M99 160.5h1M126 160.5h1M130 160.5h1M134 160.5h1M138 160.5h1M142 160.5h4M151 160.5h1M155 160.5h1M164 160.5h1M166 160.5h1M168 160.5h1M177 160.5h1M23 161.5h1M34 161.5h1M62 161.5h1M94 161.5h1M96 161.5h1M100 161.5h1M102 161.5h1M109 161.5h1M119 161.5h1M125 161.5h1M128 161.5h1M131 161.5h1M133 161.5h1M148 161.5h1M168 161.5h1M57 162.5h1M62 162.5h1M68 162.5h1M87 162.5h1M93 162.5h1M98 162.5h2M113 162.5h1M116 162.5h1M120 162.5h1M130 162.5h2M134 162.5h1M140 162.5h1M143 162.5h1M160 162.5h1M166 162.5h1M169 162.5h1M90 163.5h1M136 163.5h1M140 163.5h2M151 163.5h1M155 163.5h2M171 163.5h1M187 163.5h2M59 164.5h1M80 164.5h1M84 164.5h1M94 164.5h1M101 164.5h1M103 164.5h1M106 164.5h1M117 164.5h1M124 164.5h1M127 164.5h1M130 164.5h2M160 164.5h1M173 164.5h1M192 164.5h1M20 165.5h1M26 165.5h1M39 165.5h1M86 165.5h1M91 165.5h1M113 165.5h1M124 165.5h1M126 165.5h1M131 165.5h1M135 165.5h1M143 165.5h1M155 165.5h1M157 165.5h1M167 165.5h1M173 165.5h1M177 165.5h1M179 165.5h1M185 165.5h1M187 165.5h1M10 166.5h1M54 166.5h1M86 166.5h2M92 166.5h1M96 166.5h1M105 166.5h1M112 166.5h1M115 166.5h1M132 166.5h1M143 166.5h1M150 166.5h1M156 166.5h1M163 166.5h2M184 166.5h1M193 166.5h1M50 167.5h1M78 167.5h1M85 167.5h1M89 167.5h1M109 167.5h1M111 167.5h1M114 167.5h1M121 167.5h1M142 167.5h1M151 167.5h1M157 167.5h1M159 167.5h2M163 167.5h1M186 167.5h1M197 167.5h1M82 168.5h1M99 168.5h1M139 168.5h1M149 168.5h1M154 168.5h1M160 168.5h1M190 168.5h1M9 169.5h1M27 169.5h1M32 169.5h1M56 169.5h1M95 169.5h1M106 169.5h3M129 169.5h1M137 169.5h1M156 169.5h1M158 169.5h1M160 169.5h2M167 169.5h1M174 169.5h1M67 170.5h1M83 170.5h1M89 170.5h1M97 170.5h1M108 170.5h3M115 170.5h1M118 170.5h2M125 170.5h1M128 170.5h1M132 170.5h2M136 170.5h1M138 170.5h1M140 170.5h1M149 170.5h1M152 170.5h1M155 170.5h1M165 170.5h1M178 170.5h1M193 170.5h1M47 171.5h1M83 171.5h1M86 171.5h1M96 171.5h1M105 171.5h1M107 171.5h2M112 171.5h1M119 171.5h1M124 171.5h2M140 171.5h1M142 171.5h1M148 171.5h1M156 171.5h1M161 171.5h1M21 172.5h1M24 172.5h1M29 172.5h1M87 172.5h1M89 172.5h1M99 172.5h1M102 172.5h1M112 172.5h1M118 172.5h1M123 172.5h1M138 172.5h1M149 172.5h1M156 172.5h1M161 172.5h1M163 172.5h1M189 172.5h1M194 172.5h1M80 173.5h1M102 173.5h1M125 173.5h1M138 173.5h1M143 173.5h1M148 173.5h1M155 173.5h1M171 173.5h1M179 173.5h1M184 173.5h1M81 174.5h1M86 174.5h1M103 174.5h1M113 174.5h1M129 174.5h1M135 174.5h2M161 174.5h1M167 174.5h1M181 174.5h1M196 174.5h1M8 175.5h1M20 175.5h1M33 175.5h1M66 175.5h1M68 175.5h1M88 175.5h1M122 175.5h1M140 175.5h2M150 175.5h1M159 175.5h1M163 175.5h1M174 175.5h1M20 176.5h1M48 176.5h1M101 176.5h1M113 176.5h1M124 176.5h1M141 176.5h1M155 176.5h1M157 176.5h1M161 176.5h1M164 176.5h1M184 176.5h1M189 176.5h1M33 177.5h2M60 177.5h1M91 177.5h1M93 177.5h1M110 177.5h1M115 177.5h1M121 177.5h1M129 177.5h1M148 177.5h1M150 177.5h1M153 177.5h1M155 177.5h2M23 178.5h1M26 178.5h1M88 178.5h1M129 178.5h1M134 178.5h1M139 178.5h1M156 178.5h2M163 178.5h1M167 178.5h1M169 178.5h1M1 179.5h1M52 179.5h1M80 179.5h1M116 179.5h1M151 179.5h1M160 179.5h1M175 179.5h1M177 179.5h1M195 179.5h1M29 180.5h1M72 180.5h1M74 180.5h1M101 180.5h1M129 180.5h1M144 180.5h1M150 180.5h1M153 180.5h1M166 180.5h1M169 180.5h1M180 180.5h1M182 180.5h1M205 180.5h1M28 181.5h1M124 181.5h1M127 181.5h1M153 181.5h1M159 181.5h1M163 181.5h1M169 181.5h1M176 181.5h1M186 181.5h1M189 181.5h1M15 182.5h1M70 182.5h1M74 182.5h1M107 182.5h1M127 182.5h1M129 182.5h1M132 182.5h1M145 182.5h1M160 182.5h2M95 183.5h1M105 183.5h1M152 183.5h1M161 183.5h2M29 184.5h1M154 184.5h1M192 184.5h1M115 185.5h1M120 185.5h1M128 185.5h1M147 185.5h1M172 185.5h1M194 185.5h1M135 186.5h1M137 186.5h2M159 186.5h1M178 186.5h1M199 186.5h1M137 187.5h1M160 187.5h1M174 187.5h1M118 188.5h1M140 188.5h1M178 188.5h1M185 188.5h1M187 188.5h1M126 189.5h1M154 189.5h1M165 189.5h1M187 189.5h1M180 190.5h1M148 191.5h1M163 191.5h1M168 191.5h1M133 193.5h1M156 193.5h1M2 196.5h1M144 196.5h1M129 199.5h1M61 202.5h1M152 202.5h1"/><path stroke="#00ff00" d="M41 17.5h1M45 26.5h1M67 32.5h1M56 35.5h1M58 35.5h1M77 35.5h1M36 36.5h1M42 36.5h1M67 36.5h1M51 39.5h1M55 39.5h2M58 39.5h1M66 39.5h1M70 39.5h2M60 40.5h1M58 41.5h2M56 42.5h1M63 42.5h1M76 42.5h1M63 43.5h1M70 44.5h1M77 44.5h1M73 45.5h1M78 45.5h1M60 46.5h1M63 46.5h1M55 47.5h1M63 47.5h1M69 47.5h1M73 47.5h1M67 48.5h1M66 50.5h1M79 50.5h1M62 51.5h1M66 51.5h2M72 51.5h1M84 51.5h1M96 51.5h1M67 52.5h1M73 52.5h1M76 52.5h1M78 52.5h1M83 52.5h1M87 52.5h1M59 53.5h2M67 53.5h1M69 53.5h2M74 53.5h2M78 53.5h1M95 53.5h1M62 54.5h1M77 54.5h1M84 54.5h1M88 54.5h1M65 55.5h3M72 55.5h1M78 55.5h1M82 55.5h1M69 56.5h2M77 56.5h1M80 56.5h1M90 56.5h2M68 57.5h1M77 57.5h1M81 57.5h1M84 57.5h1M62 58.5h1M70 58.5h1M72 58.5h3M82 58.5h1M95 58.5h1M61 59.5h1M72 59.5h1M74 59.5h1M78 59.5h1M86 59.5h1M91 59.5h2M66 60.5h1M69 60.5h1M72 60.5h1M78 60.5h1M45 61.5h1M77 61.5h1M81 61.5h2M87 61.5h1M83 62.5h1M87 62.5h2M94 62.5h2M75 63.5h1M77 63.5h1M81 63.5h1M86 63.5h1M70 64.5h1M73 64.5h2M77 64.5h1M80 64.5h1M89 64.5h2M96 64.5h1M64 65.5h1M68 65.5h1M80 65.5h1M95 65.5h1M71 66.5h1M82 66.5h2M85 66.5h2M88 66.5h1M91 66.5h1M93 66.5h1M99 66.5h1M97 67.5h1M79 68.5h2M83 68.5h1M88 68.5h1M90 68.5h1M93 68.5h2M96 68.5h2M100 68.5h1M75 69.5h2M86 69.5h1M89 69.5h2M100 69.5h1M68 70.5h2M72 70.5h1M75 70.5h1M79 70.5h1M84 70.5h1M93 70.5h1M95 70.5h1M76 71.5h1M78 71.5h1M83 71.5h1M91 71.5h1M94 71.5h1M98 71.5h1M104 71.5h1M76 72.5h1M80 72.5h1M82 72.5h1M87 72.5h1M89 72.5h1M91 72.5h1M94 72.5h1M98 72.5h1M101 72.5h1M66 73.5h1M68 73.5h1M75 73.5h1M88 73.5h2M99 73.5h1M102 73.5h1M104 73.5h1M80 74.5h1M84 74.5h1M87 74.5h1M91 74.5h2M66 75.5h1M76 75.5h1M83 75.5h1M87 75.5h1M90 75.5h1M95 75.5h2M98 75.5h1M104 75.5h1M80 76.5h1M83 76.5h1M86 76.5h2M90 76.5h1M102 76.5h1M110 76.5h1M87 77.5h1M90 77.5h1M104 77.5h1M110 77.5h1M85 78.5h1M88 78.5h1M93 78.5h1M95 78.5h1M99 78.5h1M102 78.5h1M117 78.5h1M77 79.5h1M82 79.5h1M84 79.5h2M87 79.5h2M90 79.5h1M96 79.5h1M100 79.5h2M84 80.5h1M87 80.5h1M91 80.5h1M93 80.5h1M98 80.5h1M100 80.5h2M107 80.5h1M109 80.5h1M84 81.5h1M96 81.5h1M100 81.5h1M105 81.5h1M109 81.5h2M112 81.5h1M117 81.5h1M54 82.5h1M90 82.5h1M93 82.5h1M100 82.5h2M106 82.5h1M109 82.5h3M116 82.5h1M49 83.5h1M76 83.5h1M83 83.5h1M98 83.5h1M108 83.5h1M110 83.5h2M83 84.5h1M89 84.5h1M91 84.5h1M93 84.5h2M101 84.5h1M104 84.5h2M111 84.5h1M114 84.5h1M76 85.5h1M84 85.5h1M87 85.5h1M89 85.5h1M91 85.5h2M96 85.5h1M100 85.5h1M106 85.5h1M111 85.5h1M118 85.5h1M81 86.5h1M83 86.5h1M88 86.5h1M95 86.5h3M100 86.5h1M102 86.5h1M107 86.5h1M112 86.5h2M116 86.5h1M85 87.5h1M91 87.5h1M93 87.5h1M96 87.5h1M101 87.5h2M111 87.5h1M113 87.5h1M117 87.5h2M133 87.5h1M90 88.5h1M95 88.5h1M100 88.5h2M120 88.5h1M64 89.5h1M89 89.5h1M92 89.5h1M100 89.5h1M105 89.5h1M109 89.5h3M115 89.5h1M118 89.5h1M132 89.5h1M88 90.5h2M91 90.5h1M99 90.5h1M105 90.5h1M112 90.5h4M95 91.5h1M102 91.5h1M115 91.5h1M118 91.5h1M120 91.5h1M95 92.5h2M98 92.5h1M108 92.5h1M90 93.5h2M106 93.5h1M108 93.5h1M113 93.5h1M116 93.5h1M122 93.5h1M92 94.5h1M95 94.5h2M99 94.5h1M109 94.5h1M117 94.5h1M119 94.5h1M123 94.5h1M105 95.5h2M111 95.5h3M115 95.5h1M119 95.5h1M129 95.5h1M93 96.5h1M103 96.5h1M107 96.5h1M112 96.5h1M80 97.5h1M96 97.5h1M98 97.5h1M102 97.5h1M105 97.5h1M111 97.5h1M120 97.5h1M122 97.5h3M126 97.5h1M97 98.5h1M99 98.5h1M105 98.5h1M113 98.5h1M117 98.5h1M125 98.5h1M91 99.5h1M96 99.5h1M101 99.5h1M104 99.5h1M106 99.5h2M112 99.5h1M120 99.5h1M128 99.5h1M87 100.5h1M91 100.5h1M99 100.5h1M101 100.5h1M106 100.5h2M109 100.5h1M113 100.5h1M116 100.5h1M119 100.5h2M123 100.5h1M89 101.5h1M105 101.5h1M107 101.5h1M111 101.5h1M113 101.5h2M117 101.5h1M126 101.5h1M139 101.5h1M85 102.5h1M103 102.5h2M107 102.5h3M115 102.5h1M117 102.5h1M120 102.5h1M126 102.5h1M152 102.5h1M104 103.5h1M107 103.5h1M113 103.5h1M133 103.5h1M99 104.5h1M111 104.5h3M118 104.5h1M120 104.5h1M126 104.5h1M128 104.5h1M132 104.5h1M109 105.5h2M113 105.5h1M116 105.5h1M120 105.5h1M123 105.5h1M125 105.5h1M130 105.5h1M132 105.5h1M104 106.5h1M113 106.5h2M124 106.5h1M136 106.5h1M102 107.5h1M112 107.5h1M115 107.5h1M126 107.5h3M132 107.5h1M108 108.5h1M114 108.5h1M116 108.5h1M118 108.5h1M126 108.5h1M129 108.5h2M107 109.5h2M110 109.5h1M112 109.5h1M117 109.5h2M121 109.5h1M124 109.5h1M130 109.5h2M133 109.5h1M107 110.5h1M116 110.5h5M123 110.5h1M125 110.5h1M133 110.5h1M106 111.5h1M121 111.5h1M137 111.5h1M110 112.5h1M113 112.5h1M121 112.5h2M132 112.5h1M124 113.5h1M130 113.5h1M133 113.5h1M138 113.5h1M115 114.5h1M121 114.5h1M130 114.5h2M103 115.5h1M117 115.5h1M122 115.5h1M131 115.5h1M133 115.5h1M118 116.5h2M127 116.5h3M136 116.5h3M143 116.5h1M131 117.5h2M137 117.5h1M146 117.5h1M152 117.5h1M105 119.5h1M109 119.5h1M128 119.5h1M131 119.5h2M136 119.5h1M67 120.5h1M93 120.5h1M119 120.5h1M122 120.5h1M140 120.5h1M144 120.5h1M109 121.5h1M123 121.5h1M136 121.5h1M124 122.5h1M133 122.5h1M138 122.5h1M128 123.5h1M136 123.5h1M141 123.5h1M144 124.5h1M177 124.5h1M5 125.5h1M126 125.5h1M131 125.5h1M136 125.5h1M137 126.5h1M144 126.5h1M141 127.5h1M137 128.5h1M80 129.5h1M91 129.5h1M96 130.5h1M110 130.5h1M131 130.5h1M139 130.5h1M142 130.5h1M136 131.5h1M127 132.5h1M28 133.5h1M127 133.5h1M148 133.5h1M131 134.5h1M143 136.5h1M122 137.5h1M130 137.5h1M156 138.5h1M143 140.5h1M50 142.5h1M136 142.5h1M178 142.5h1M127 143.5h1M140 143.5h1M153 143.5h1M135 144.5h1M127 145.5h1M55 146.5h1M118 146.5h1M161 146.5h1M40 148.5h1M49 149.5h1M95 149.5h1M111 150.5h1M128 150.5h1M132 150.5h1M117 151.5h1M87 152.5h1M94 152.5h1M125 152.5h1M179 153.5h1M190 153.5h1M126 154.5h1M62 155.5h1M90 155.5h1M43 156.5h1M147 156.5h1M162 156.5h1M92 157.5h1M143 158.5h1M150 158.5h1M157 158.5h1M187 158.5h1M135 160.5h1M150 160.5h1M155 161.5h1M122 162.5h1M162 164.5h1M108 166.5h1M152 167.5h1M137 168.5h1M155 168.5h1M181 170.5h1M126 171.5h1M168 172.5h1M152 173.5h1M154 177.5h1M144 179.5h1M128 181.5h1M168 184.5h2"/><path stroke="#e8ff00" d="M62 34.5h1M62 36.5h1M65 36.5h1M61 39.5h1M49 40.5h1M76 44.5h1M72 48.5h1M77 50.5h1M61 51.5h1M63 53.5h1M68 53.5h1M75 54.5h1M73 55.5h1M75 56.5h1M62 57.5h1M69 57.5h1M82 57.5h1M71 59.5h1M82 59.5h1M71 60.5h1M80 60.5h1M83 60.5h1M87 60.5h1M59 61.5h1M79 61.5h1M97 61.5h1M75 62.5h1M80 62.5h1M82 63.5h2M88 63.5h1M79 64.5h1M86 64.5h1M88 64.5h1M66 65.5h1M70 65.5h1M81 65.5h1M83 65.5h1M76 66.5h1M79 66.5h1M87 66.5h1M97 66.5h1M67 67.5h1M75 67.5h1M84 67.5h1M89 67.5h1M85 68.5h1M89 68.5h1M95 68.5h1M98 68.5h1M87 69.5h1M74 70.5h1M83 70.5h1M85 70.5h1M90 70.5h1M92 70.5h1M97 70.5h1M99 70.5h1M74 71.5h1M85 71.5h2M89 71.5h2M100 71.5h1M102 71.5h2M78 72.5h1M81 72.5h1M83 72.5h1M88 72.5h1M90 72.5h1M92 72.5h1M95 72.5h3M79 73.5h1M82 73.5h1M84 73.5h2M87 73.5h1M91 73.5h1M81 74.5h2M89 74.5h1M82 75.5h1M93 75.5h1M103 75.5h1M93 76.5h1M103 76.5h2M79 77.5h1M84 77.5h2M99 77.5h3M84 78.5h1M87 78.5h1M89 78.5h1M100 78.5h2M103 78.5h2M71 79.5h1M81 79.5h1M95 79.5h1M97 79.5h1M104 79.5h1M109 79.5h1M83 81.5h1M88 81.5h2M91 81.5h1M97 81.5h1M101 81.5h1M82 82.5h1M88 82.5h1M95 82.5h1M99 82.5h1M103 82.5h1M85 83.5h1M89 83.5h1M92 83.5h4M97 83.5h1M100 83.5h1M102 83.5h1M107 83.5h1M109 83.5h1M115 83.5h1M92 84.5h1M86 85.5h1M103 85.5h2M87 86.5h1M92 86.5h1M94 86.5h1M98 86.5h1M103 86.5h1M106 86.5h1M109 86.5h1M114 86.5h1M92 87.5h1M103 87.5h1M106 87.5h2M94 88.5h1M96 88.5h3M107 88.5h1M109 88.5h2M113 88.5h1M88 89.5h1M93 89.5h1M97 89.5h2M101 89.5h1M103 89.5h1M106 89.5h1M102 90.5h1M109 90.5h2M116 90.5h1M93 91.5h1M103 91.5h1M110 91.5h1M113 91.5h1M97 92.5h1M102 92.5h1M115 92.5h2M92 93.5h1M99 93.5h2M107 93.5h1M112 93.5h1M115 93.5h1M118 93.5h1M97 94.5h1M104 94.5h3M110 94.5h1M112 94.5h1M114 94.5h1M118 94.5h1M91 95.5h1M97 95.5h1M99 95.5h1M104 95.5h1M107 95.5h1M114 95.5h1M117 95.5h2M99 96.5h1M105 96.5h2M111 96.5h1M113 96.5h1M115 96.5h1M119 96.5h1M115 97.5h1M108 98.5h1M111 98.5h2M115 98.5h2M102 99.5h1M111 99.5h1M114 99.5h1M116 99.5h1M105 100.5h1M114 100.5h1M121 100.5h1M95 101.5h1M100 101.5h1M109 101.5h2M119 101.5h1M113 102.5h1M118 102.5h1M56 103.5h1M114 103.5h2M120 103.5h1M124 103.5h1M106 104.5h1M115 104.5h1M119 104.5h1M122 104.5h1M125 104.5h1M111 105.5h1M115 105.5h1M118 105.5h1M127 105.5h1M107 106.5h1M112 106.5h1M118 106.5h1M121 106.5h1M128 106.5h1M111 107.5h1M116 107.5h1M119 107.5h1M123 107.5h1M102 108.5h1M120 108.5h1M109 109.5h1M123 109.5h1M127 109.5h1M135 109.5h1M111 110.5h1M121 110.5h1M127 110.5h2M136 110.5h1M115 111.5h1M126 111.5h1M111 112.5h1M118 112.5h3M128 112.5h1M130 112.5h1M133 112.5h1M117 113.5h1M119 113.5h2M125 113.5h1M128 113.5h1M126 114.5h1M124 115.5h1M132 115.5h1M135 115.5h1M132 116.5h1M134 116.5h1M122 118.5h1M125 118.5h1M124 120.5h1M128 120.5h1M78 121.5h1M134 122.5h1M114 127.5h1M131 127.5h1M130 131.5h1M124 134.5h1M156 176.5h1"/><path stroke="#ffa000" d="M76 50.5h1M73 54.5h1M84 61.5h1M87 63.5h1M83 64.5h2M91 65.5h1M89 66.5h1M82 67.5h1M86 67.5h2M92 67.5h1M84 68.5h1M91 68.5h1M99 68.5h1M81 69.5h1M95 69.5h1M103 69.5h1M89 70.5h1M98 70.5h1M104 70.5h1M88 71.5h1M99 71.5h1M84 72.5h1M86 73.5h1M93 73.5h1M86 74.5h1M97 74.5h2M79 75.5h1M86 75.5h1M97 75.5h1M94 76.5h1M100 76.5h1M92 77.5h3M97 78.5h2M91 79.5h2M94 79.5h1M88 80.5h1M92 80.5h1M97 80.5h1M93 81.5h2M99 81.5h1M102 81.5h1M107 81.5h1M91 82.5h1M96 82.5h3M104 82.5h1M99 83.5h1M104 83.5h2M96 84.5h1M103 84.5h1M93 85.5h1M99 85.5h1M105 85.5h1M108 86.5h1M97 87.5h3M104 87.5h1M104 88.5h1M106 88.5h1M116 88.5h1M114 89.5h1M116 89.5h1M100 90.5h1M103 90.5h1M104 91.5h3M101 92.5h1M109 92.5h1M102 93.5h1M104 93.5h1M114 93.5h1M100 94.5h2M108 94.5h1M111 94.5h1M98 95.5h1M101 95.5h1M110 95.5h1M98 96.5h1M102 96.5h1M104 96.5h1M108 96.5h1M110 96.5h1M114 96.5h1M120 96.5h1M108 97.5h1M110 97.5h1M116 97.5h1M119 97.5h1M100 98.5h1M106 98.5h2M114 98.5h1M109 99.5h1M115 99.5h1M118 99.5h2M121 99.5h1M110 100.5h2M118 100.5h1M108 101.5h1M106 102.5h1M110 102.5h1M105 103.5h1M110 103.5h1M109 104.5h1M117 105.5h1M121 105.5h2M124 105.5h1M125 106.5h1M120 107.5h1M122 107.5h1M111 108.5h1M117 108.5h1M123 108.5h2M125 109.5h1M119 111.5h1M124 114.5h1M119 115.5h1M123 117.5h1M134 117.5h1M128 125.5h1"/><path stroke="#ff0000" d="M72 53.5h1M74 55.5h1M79 59.5h1M75 60.5h1M85 64.5h1M78 66.5h1M81 67.5h1M88 70.5h1M86 72.5h1M93 72.5h1M90 73.5h1M98 73.5h1M83 74.5h1M94 74.5h1M88 75.5h1M91 75.5h1M94 75.5h1M95 76.5h1M97 76.5h1M88 77.5h2M97 77.5h1M93 79.5h1M99 79.5h1M94 80.5h1M96 80.5h1M102 80.5h2M105 80.5h1M87 82.5h1M92 82.5h1M108 82.5h1M103 83.5h1M106 83.5h1M97 84.5h2M112 84.5h1M95 85.5h1M101 85.5h1M107 85.5h1M105 86.5h1M95 87.5h1M105 87.5h1M91 88.5h1M102 88.5h1M105 88.5h1M108 88.5h1M111 88.5h1M99 89.5h1M107 89.5h1M106 90.5h1M108 90.5h1M101 91.5h1M109 91.5h1M103 92.5h1M107 92.5h1M112 92.5h1M109 93.5h2M108 95.5h2M120 95.5h1M122 95.5h1M109 96.5h1M104 97.5h1M106 97.5h1M109 97.5h1M112 97.5h1M114 97.5h1M110 98.5h1M108 99.5h1M112 100.5h1M115 100.5h1M116 101.5h1M118 101.5h1M120 101.5h1M123 101.5h1M114 102.5h1M117 104.5h1M117 106.5h1M110 107.5h1M122 109.5h1M133 111.5h1M121 113.5h1"/></g>
<rect x="762.80" y="1265.00" width="69.20" height="64.80" fill="#fff" fill-opacity="0.8"/>
<path d="M761.70 791.90L1189.50 791.90" stroke="#000" stroke-width="2.0"/>
<path d="M1188.50 791.90L1188.50 1331.30" stroke="#000" stroke-width="2.0"/>
<path d="M761.70 790.90L761.70 1347.00" stroke="#000" stroke-width="2.0"/>
<path d="M761.70 1331.30L1189.50 1331.30" stroke="#000" stroke-width="2.6"/>
<path d="M899.00 791.90L899.00 1334.30" stroke="#000" stroke-width="2.0"/>
<path d="M761.70 1106.00L1188.50 1106.00" stroke="#000" stroke-width="2.0"/>
<path d="M746.20 1330.80H761.70M761.70 1331.30V1347.00M754.50 1290.46H761.70M793.70 1331.30V1338.00M754.50 1266.87H761.70M812.42 1331.30V1338.00M754.50 1250.12H761.70M825.70 1331.30V1338.00M751.00 1237.14H761.70M836.00 1331.30V1342.50M754.50 1226.53H761.70M844.42 1331.30V1338.00M754.50 1217.56H761.70M851.53 1331.30V1338.00M754.50 1209.79H761.70M857.70 1331.30V1338.00M754.50 1202.93H761.70M863.14 1331.30V1338.00M746.20 1196.80H761.70M868.00 1331.30V1347.00M754.50 1156.46H761.70M900.00 1331.30V1338.00M754.50 1132.87H761.70M918.72 1331.30V1338.00M754.50 1116.12H761.70M932.00 1331.30V1338.00M751.00 1103.14H761.70M942.30 1331.30V1342.50M754.50 1092.53H761.70M950.72 1331.30V1338.00M754.50 1083.56H761.70M957.83 1331.30V1338.00M754.50 1075.79H761.70M964.00 1331.30V1338.00M754.50 1068.93H761.70M969.44 1331.30V1338.00M746.20 1062.80H761.70M974.30 1331.30V1347.00M754.50 1022.46H761.70M1006.30 1331.30V1338.00M754.50 998.87H761.70M1025.02 1331.30V1338.00M754.50 982.12H761.70M1038.30 1331.30V1338.00M751.00 969.14H761.70M1048.60 1331.30V1342.50M754.50 958.53H761.70M1057.02 1331.30V1338.00M754.50 949.56H761.70M1064.13 1331.30V1338.00M754.50 941.79H761.70M1070.30 1331.30V1338.00M754.50 934.93H761.70M1075.74 1331.30V1338.00M746.20 928.80H761.70M1080.60 1331.30V1347.00M754.50 888.46H761.70M1112.60 1331.30V1338.00M754.50 864.87H761.70M1131.32 1331.30V1338.00M754.50 848.12H761.70M1144.60 1331.30V1338.00M751.00 835.14H761.70M1154.90 1331.30V1342.50M754.50 824.53H761.70M1163.32 1331.30V1338.00M754.50 815.56H761.70M1170.43 1331.30V1338.00M754.50 807.79H761.70M1176.60 1331.30V1338.00M754.50 800.93H761.70M1182.04 1331.30V1338.00M746.20 794.80H761.70M1186.90 1331.30V1347.00" stroke="#000" stroke-width="2.1" fill="none"/>
<path d="M746.20 1330.80L761.70 1330.80" stroke="#000" stroke-width="2.3"/>
<text transform="translate(694.30 1340.00) scale(0.9876 1)" font-family="Liberation Sans" font-size="23.90" fill="#363636" stroke="#363636" stroke-width="0.45">10</text>
<text transform="translate(723.00 1320.30) scale(0.9574 1)" font-family="Liberation Sans" font-size="23.90" fill="#363636" stroke="#363636" stroke-width="0.45">0</text>
<text transform="translate(694.30 1207.50) scale(0.9876 1)" font-family="Liberation Sans" font-size="23.90" fill="#363636" stroke="#363636" stroke-width="0.45">10</text>
<text transform="translate(724.90 1187.90) scale(0.5745 1)" font-family="Liberation Sans" font-size="23.90" fill="#363636" stroke="#363636" stroke-width="0.45">1</text>
<text transform="translate(694.30 1072.50) scale(0.9876 1)" font-family="Liberation Sans" font-size="23.90" fill="#363636" stroke="#363636" stroke-width="0.45">10</text>
<text transform="translate(723.00 1052.80) scale(0.9574 1)" font-family="Liberation Sans" font-size="23.90" fill="#363636" stroke="#363636" stroke-width="0.45">2</text>
<text transform="translate(694.30 940.00) scale(0.9876 1)" font-family="Liberation Sans" font-size="23.90" fill="#363636" stroke="#363636" stroke-width="0.45">10</text>
<text transform="translate(723.00 919.50) scale(0.9574 1)" font-family="Liberation Sans" font-size="23.90" fill="#363636" stroke="#363636" stroke-width="0.45">3</text>
<text transform="translate(694.30 842.20) scale(0.9876 1)" font-family="Liberation Sans" font-size="23.90" fill="#363636" stroke="#363636" stroke-width="0.45">10</text>
<text transform="translate(723.00 822.00) scale(0.9574 1)" font-family="Liberation Sans" font-size="23.90" fill="#363636" stroke="#363636" stroke-width="0.45">4</text>
<text transform="translate(771.20 1387.40) scale(0.9584 1)" font-family="Liberation Sans" font-size="23.50" fill="#363636" stroke="#363636" stroke-width="0.45">10</text>
<text transform="translate(800.30 1368.70) scale(0.9584 1)" font-family="Liberation Sans" font-size="23.50" fill="#363636" stroke="#363636" stroke-width="0.45">0</text>
<text transform="translate(857.40 1387.40) scale(1.0044 1)" font-family="Liberation Sans" font-size="23.50" fill="#363636" stroke="#363636" stroke-width="0.45">10</text>
<text transform="translate(889.00 1368.70) scale(0.6364 1)" font-family="Liberation Sans" font-size="23.50" fill="#363636" stroke="#363636" stroke-width="0.45">1</text>
<text transform="translate(956.50 1387.40) scale(0.9546 1)" font-family="Liberation Sans" font-size="23.50" fill="#363636" stroke="#363636" stroke-width="0.45">10</text>
<text transform="translate(985.60 1368.70) scale(0.8971 1)" font-family="Liberation Sans" font-size="23.50" fill="#363636" stroke="#363636" stroke-width="0.45">2</text>
<text transform="translate(1055.50 1387.40) scale(0.9584 1)" font-family="Liberation Sans" font-size="23.50" fill="#363636" stroke="#363636" stroke-width="0.45">10</text>
<text transform="translate(1084.70 1368.70) scale(0.8587 1)" font-family="Liberation Sans" font-size="23.50" fill="#363636" stroke="#363636" stroke-width="0.45">3</text>
<text transform="translate(1154.20 1387.40) scale(0.9584 1)" font-family="Liberation Sans" font-size="23.50" fill="#363636" stroke="#363636" stroke-width="0.45">10</text>
<text transform="translate(1182.10 1368.70) scale(0.8971 1)" font-family="Liberation Sans" font-size="23.50" fill="#363636" stroke="#363636" stroke-width="0.45">4</text>
<text transform="translate(654.10 1100.00) rotate(-90) scale(0.9395 1)" font-family="Liberation Sans" font-size="27.00" fill="#363636" stroke="#363636" stroke-width="0.45">FL2-PI</text>
<text transform="translate(858.60 1458.20) scale(1.0539 1)" font-family="Liberation Sans" font-size="24.40" fill="#363636" stroke="#363636" stroke-width="0.45">FL1-Annexin V-FITC</text>
<text transform="translate(931.20 853.20) scale(1.0586 1)" font-family="Liberation Serif" font-size="42.00" fill="#000">(32 μM)</text>
<text transform="translate(766.90 820.80) scale(0.8012 1)" font-family="Liberation Sans" font-size="23.00" fill="#444" stroke="#444" stroke-width="0.45">Q1</text>
<text transform="translate(768.50 854.40) scale(0.8496 1)" font-family="Liberation Sans" font-size="23.00" fill="#444" stroke="#444" stroke-width="0.45">6.38%</text>
<text transform="translate(1120.80 820.80) scale(0.8403 1)" font-family="Liberation Sans" font-size="23.00" fill="#444" stroke="#444" stroke-width="0.45">Q2</text>
<text transform="translate(1122.00 854.40) scale(0.8205 1)" font-family="Liberation Sans" font-size="23.00" fill="#444" stroke="#444" stroke-width="0.45">19.4%</text>
<text transform="translate(1120.80 1289.50) scale(0.8403 1)" font-family="Liberation Sans" font-size="23.00" fill="#444" stroke="#444" stroke-width="0.45">Q3</text>
<text transform="translate(1120.80 1324.30) scale(0.8389 1)" font-family="Liberation Sans" font-size="23.00" fill="#444" stroke="#444" stroke-width="0.45">51.0%</text>
<text transform="translate(770.90 1289.50) scale(0.7719 1)" font-family="Liberation Sans" font-size="23.00" fill="#444" stroke="#444" stroke-width="0.45">Q4</text>
<text transform="translate(769.70 1324.30) scale(0.8374 1)" font-family="Liberation Sans" font-size="23.00" fill="#444" stroke="#444" stroke-width="0.45">23.2%</text>
<rect x="9.6" y="1515.3" width="1213.8" height="845.6" fill="none" stroke="#000" stroke-width="1.8"/>
<rect x="273.20" y="2151.00" width="36.00" height="8.30" fill="#ff0000"/>
<rect x="361.30" y="1988.90" width="35.90" height="170.40" fill="#04be04"/>
<rect x="414.30" y="2109.00" width="35.40" height="50.30" fill="#ff0000"/>
<rect x="502.30" y="1902.60" width="36.10" height="256.70" fill="#04be04"/>
<rect x="555.60" y="2134.30" width="35.70" height="25.00" fill="#ff0000"/>
<rect x="643.90" y="1660.00" width="36.10" height="499.30" fill="#04be04"/>
<rect x="696.50" y="2114.80" width="35.60" height="44.50" fill="#ff0000"/>
<path d="M193.40 1589.20L193.40 2162.00" stroke="#000" stroke-width="5.4"/>
<path d="M169.70 2159.30L762.80 2159.30" stroke="#000" stroke-width="5.4"/>
<path d="M169.70 2018.34L193.40 2018.34" stroke="#000" stroke-width="5.4"/>
<path d="M169.70 1876.18L193.40 1876.18" stroke="#000" stroke-width="5.4"/>
<path d="M169.70 1734.02L193.40 1734.02" stroke="#000" stroke-width="5.4"/>
<path d="M169.70 1591.26L193.40 1591.26" stroke="#000" stroke-width="5.4"/>
<path d="M263.30 2159.30L263.30 2183.20" stroke="#000" stroke-width="5.6"/>
<path d="M404.80 2159.30L404.80 2183.20" stroke="#000" stroke-width="5.6"/>
<path d="M546.80 2159.30L546.80 2183.20" stroke="#000" stroke-width="5.6"/>
<path d="M687.60 2159.30L687.60 2183.20" stroke="#000" stroke-width="5.6"/>
<text transform="translate(143.30 2174.80) scale(0.8790 1)" font-family="Liberation Serif" font-size="40.50" font-weight="bold" fill="#000" stroke="#000" stroke-width="0.5">0</text>
<text transform="translate(121.70 2032.64) scale(0.9605 1)" font-family="Liberation Serif" font-size="40.50" font-weight="bold" fill="#000" stroke="#000" stroke-width="0.5">20</text>
<text transform="translate(121.70 1890.48) scale(0.9605 1)" font-family="Liberation Serif" font-size="40.50" font-weight="bold" fill="#000" stroke="#000" stroke-width="0.5">40</text>
<text transform="translate(121.70 1748.32) scale(0.9605 1)" font-family="Liberation Serif" font-size="40.50" font-weight="bold" fill="#000" stroke="#000" stroke-width="0.5">60</text>
<text transform="translate(121.70 1606.16) scale(0.9556 1)" font-family="Liberation Serif" font-size="40.50" font-weight="bold" fill="#000" stroke="#000" stroke-width="0.5">80</text>
<text transform="translate(194.40 2228.00) scale(1.0242 1)" font-family="Liberation Serif" font-size="41.50" font-weight="bold" fill="#000" stroke="#000" stroke-width="0.5">Control</text>
<text transform="translate(383.70 2228.00) scale(1.0024 1)" font-family="Liberation Serif" font-size="41.00" font-weight="bold" fill="#000" stroke="#000" stroke-width="0.5">30</text>
<text transform="translate(525.70 2228.00) scale(1.0293 1)" font-family="Liberation Serif" font-size="41.00" font-weight="bold" fill="#000" stroke="#000" stroke-width="0.5">45</text>
<text transform="translate(661.90 2228.00) scale(0.9829 1)" font-family="Liberation Serif" font-size="41.00" font-weight="bold" fill="#000" stroke="#000" stroke-width="0.5">60</text>
<text transform="translate(329.80 2306.80) scale(1.0270 1)" font-family="Liberation Serif" font-size="42.00" font-weight="bold" fill="#000" stroke="#000" stroke-width="0.5">[Complex] (μM)</text>
<text transform="translate(91.50 2021.40) rotate(-90) scale(1.0240 1)" font-family="Liberation Serif" font-size="42.00" font-weight="bold" fill="#000" stroke="#000" stroke-width="0.5">Death Rate (%)</text>
<rect x="888.80" y="1616.60" width="60.40" height="29.10" fill="#04be04"/>
<rect x="888.80" y="1692.90" width="60.40" height="29.20" fill="#ff0000"/>
<text x="984.60" y="1645.70" font-family="Liberation Serif" font-size="46.00" fill="#000" letter-spacing="0.884">Apoptosis</text>
<text x="984.60" y="1722.80" font-family="Liberation Serif" font-size="46.00" fill="#000" letter-spacing="1.786">Necrosis</text>
</svg>
</body></html>
